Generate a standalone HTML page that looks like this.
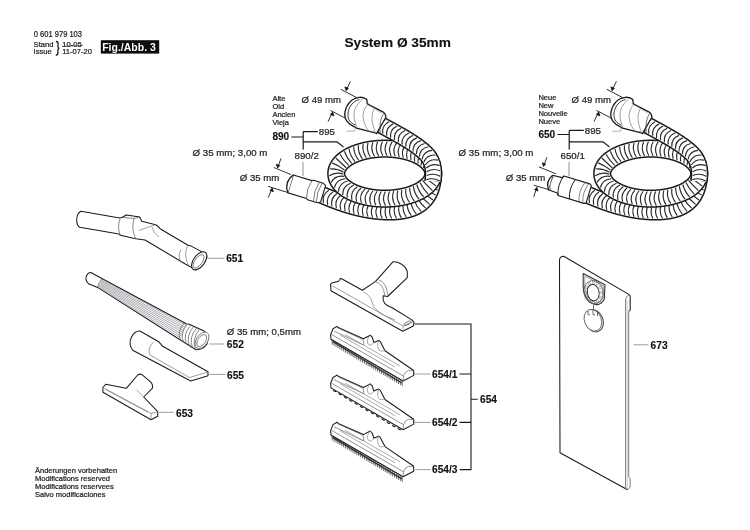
<!DOCTYPE html>
<html><head><meta charset="utf-8"><style>
html,body{margin:0;padding:0;background:#fff;}
svg{display:block;will-change:transform;}
text{font-family:"Liberation Sans",sans-serif;}
</style></head><body>
<svg width="750" height="530" viewBox="0 0 750 530">
<rect width="750" height="530" fill="#fff"/>

<text x="33.8" y="36.9" font-size="8.20" font-weight="400" fill="#222" stroke="#222" stroke-width="0.22" textLength="48.2" lengthAdjust="spacingAndGlyphs">0 601 979 103</text>
<text x="33.6" y="46.9" font-size="7.60" font-weight="400" fill="#222" stroke="#222" stroke-width="0.22">Stand</text>
<text x="33.6" y="54.3" font-size="7.60" font-weight="400" fill="#222" stroke="#222" stroke-width="0.22">Issue</text>
<path d="M56,41.3 Q58.3,41.6 58.1,44 L57.9,46.5 Q57.9,48 59.3,48.3 Q57.9,48.6 57.9,50 L57.9,52.5 Q58.1,55 55.8,55.3" fill="none" stroke="#111" stroke-width="1.2"/>
<text x="62.2" y="46.9" font-size="7.60" font-weight="400" fill="#222" stroke="#222" stroke-width="0.22">10-05</text>
<path d="M62,46.4 L82.8,45.5" stroke="#333" stroke-width="0.7"/>
<text x="62.2" y="54.3" font-size="7.60" font-weight="400" fill="#222" stroke="#222" stroke-width="0.22">11-07-20</text>
<rect x="100.8" y="40.2" width="58.4" height="13.4" fill="#0d0d0d"/>
<text x="102.2" y="51.1" font-size="10.50" font-weight="700" fill="#fff" stroke="#fff" stroke-width="0.00">Fig./Abb. 3</text>
<text x="344.4" y="46.5" font-size="13.70" font-weight="700" fill="#111" stroke="#111" stroke-width="0.12">System Ø 35mm</text>
<path d="M322.00,195.00L322.17,195.07L322.35,195.15L322.52,195.22L322.69,195.30L322.86,195.37L323.04,195.45L323.21,195.52L323.38,195.60L323.55,195.67L323.73,195.74L323.90,195.82L324.07,195.89L324.24,195.97L324.42,196.04L324.59,196.11L324.76,196.19L324.93,196.26L325.11,196.33L325.28,196.40L325.45,196.48L325.62,196.55L325.80,196.62L325.97,196.69L326.14,196.77L326.31,196.84L326.49,196.91L326.66,196.98L326.83,197.05L327.00,197.13L327.18,197.20L327.35,197.27L327.52,197.34L327.69,197.41L327.87,197.48L328.04,197.55L328.21,197.62L328.38,197.69L328.56,197.76L328.73,197.84L328.90,197.91L329.07,197.98L329.25,198.05L329.42,198.12L329.59,198.19L329.76,198.25L329.94,198.32L330.11,198.39L330.28,198.46L330.45,198.53L330.63,198.60L330.80,198.67L330.97,198.74L331.14,198.81L331.32,198.87L331.49,198.94L331.66,199.01L331.84,199.08L332.01,199.15L332.18,199.21L332.35,199.28L332.53,199.35L332.70,199.42L332.87,199.48L333.04,199.55L333.22,199.62L333.39,199.68L333.56,199.75L333.73,199.82L333.91,199.88L334.08,199.95L334.25,200.02L334.43,200.08L334.60,200.15L334.77,200.21L334.94,200.28L335.12,200.34L335.29,200.41L335.46,200.47L335.64,200.54L335.81,200.60L335.98,200.67L336.15,200.73L336.33,200.80L336.50,200.86L336.67,200.93L336.84,200.99L337.02,201.05L337.19,201.12L337.36,201.18L337.54,201.24L337.71,201.31L337.88,201.37L338.06,201.43L338.23,201.49L338.40,201.56L338.57,201.62L338.75,201.68L338.92,201.74L339.09,201.81L339.27,201.87L339.44,201.93L339.61,201.99L339.78,202.05L339.96,202.11L340.13,202.17L340.30,202.23L340.48,202.29L340.65,202.36L340.82,202.42L341.00,202.48L341.17,202.54L341.34,202.60L341.52,202.66L341.69,202.71L341.86,202.77L342.03,202.83L342.21,202.89L342.38,202.95L342.55,203.01L342.73,203.07L342.90,203.13L343.07,203.19L343.25,203.24L343.42,203.30L343.59,203.36L343.77,203.42L343.94,203.47L344.11,203.53L344.29,203.59L344.46,203.64L344.63,203.70L344.81,203.76L344.98,203.81L345.15,203.87L345.33,203.93L345.50,203.98L345.67,204.04L345.85,204.09L346.02,204.15L346.19,204.20L346.37,204.26L346.54,204.31L346.71,204.37L346.89,204.42L347.06,204.48L347.23,204.53L347.41,204.59L347.58,204.64L347.75,204.69L347.93,204.75L348.10,204.80L348.27,204.85L348.45,204.91L348.62,204.96L348.80,205.01L348.97,205.06L349.14,205.12L349.32,205.17L349.49,205.22L349.66,205.27L349.84,205.32L350.01,205.37L350.19,205.43L350.36,205.48L350.53,205.53L350.71,205.58L350.88,205.63L351.05,205.68L351.23,205.73L351.40,205.78L351.58,205.83L351.75,205.88L351.92,205.93L352.10,205.98L352.27,206.03L352.45,206.07L352.62,206.12L352.79,206.17L352.97,206.22L353.14,206.27L353.32,206.32L353.49,206.36L353.66,206.41L353.84,206.46L354.01,206.50L354.19,206.55L354.36,206.60L354.53,206.64L354.71,206.69L354.88,206.74L355.06,206.78L355.23,206.83L355.40,206.87L355.58,206.92L355.75,206.96L355.93,207.01L356.10,207.05L356.28,207.10L356.45,207.14L356.62,207.19L356.80,207.23L356.97,207.28L357.15,207.32L357.32,207.36L357.50,207.41L357.67,207.45L357.85,207.49L358.02,207.53L358.20,207.58L358.37,207.62L358.54,207.66L358.72,207.70L358.89,207.74L359.07,207.78L359.24,207.83L359.42,207.87L359.59,207.91L359.77,207.95L359.94,207.99L360.12,208.03L360.29,208.07L360.47,208.11L360.64,208.15L360.82,208.19L360.99,208.23L361.17,208.27L361.34,208.30L361.52,208.34L361.69,208.38L361.87,208.42L362.04,208.46L362.22,208.49L362.39,208.53L362.57,208.57L362.74,208.61L362.92,208.64L363.09,208.68L363.27,208.72L363.44,208.75L363.62,208.79L363.79,208.82L363.97,208.86L364.14,208.89L364.32,208.93L364.49,208.96L364.67,209.00L364.84,209.03L365.02,209.07L365.19,209.10L365.37,209.14L365.54,209.17L365.72,209.20L365.90,209.24L366.07,209.27L366.25,209.30L366.42,209.33L366.60,209.37L366.77,209.40L366.95,209.43L367.12,209.46L367.30,209.49L367.48,209.52L367.65,209.56L367.83,209.59L368.00,209.62L368.18,209.65L368.35,209.68L368.53,209.71L368.71,209.74L368.88,209.77L369.06,209.79L369.23,209.82L369.41,209.85L369.59,209.88L369.76,209.91L369.94,209.94L370.11,209.96L370.29,209.99L370.47,210.02L370.64,210.05L370.82,210.07L371.00,210.10L371.17,210.13L371.35,210.15L371.52,210.18L371.70,210.20L371.88,210.23L372.05,210.25L372.23,210.28L372.41,210.30L372.58,210.33L372.76,210.35L372.94,210.38L373.11,210.40L373.29,210.42L373.47,210.45L373.64,210.47L373.82,210.49L374.00,210.52L374.17,210.54L374.35,210.56L374.53,210.58L374.70,210.60L374.88,210.63L375.06,210.65L375.23,210.67L375.41,210.69L375.59,210.71L375.76,210.73L375.94,210.75L376.12,210.77L376.29,210.79L376.47,210.81L376.65,210.83L376.83,210.85L377.00,210.86L377.18,210.88L377.36,210.90L377.53,210.92L377.71,210.94L377.89,210.95L378.07,210.97L378.24,210.99L378.42,211.00L378.60,211.02L378.78,211.04L378.95,211.05L379.13,211.07L379.31,211.08L379.49,211.10L379.66,211.11L379.84,211.13L380.02,211.14L380.20,211.16L380.37,211.17L380.55,211.18L380.73,211.20L380.91,211.21L381.09,211.22L381.26,211.23L381.44,211.25L381.62,211.26L381.80,211.27L381.98,211.28L382.15,211.29L382.33,211.30L382.51,211.31L382.69,211.32L382.87,211.33L383.04,211.34L383.22,211.35L383.40,211.36L383.58,211.37L383.76,211.38L383.94,211.39L384.11,211.40L384.29,211.41L384.47,211.41L384.65,211.42L384.83,211.43L385.01,211.44L385.19,211.44L385.36,211.45L385.54,211.46L385.72,211.46L385.90,211.47L386.08,211.47L386.26,211.48L386.44,211.48L386.62,211.49L386.80,211.49L386.97,211.50L387.15,211.50L387.33,211.50L387.51,211.51L387.69,211.51L387.87,211.51L388.05,211.52L388.23,211.52L388.41,211.52L388.59,211.52L388.77,211.52L388.95,211.52L389.12,211.52L389.30,211.52L389.48,211.53L389.66,211.53L389.84,211.52L390.02,211.52L390.20,211.52L390.38,211.52L390.56,211.52L390.74,211.52L390.92,211.52L391.10,211.52L391.28,211.51L391.46,211.51L391.64,211.51L391.82,211.50L392.00,211.50L392.19,211.50L392.39,211.49L392.58,211.49L392.78,211.48L392.97,211.48L393.16,211.47L393.35,211.46L393.55,211.46L393.74,211.45L393.93,211.44L394.12,211.43L394.31,211.42L394.50,211.41L394.69,211.41L394.87,211.40L395.06,211.38L395.25,211.37L395.44,211.36L395.62,211.35L395.81,211.34L396.00,211.33L396.18,211.31L396.37,211.30L396.55,211.29L396.73,211.27L396.92,211.26L397.10,211.24L397.28,211.23L397.47,211.21L397.65,211.19L397.83,211.18L398.01,211.16L398.19,211.14L398.37,211.12L398.55,211.10L398.73,211.09L398.91,211.07L399.08,211.05L399.26,211.03L399.44,211.01L399.62,210.98L399.79,210.96L399.97,210.94L400.14,210.92L400.32,210.90L400.49,210.87L400.67,210.85L400.84,210.82L401.01,210.80L401.19,210.77L401.36,210.75L401.53,210.72L401.70,210.70L401.87,210.67L402.04,210.64L402.21,210.62L402.38,210.59L402.55,210.56L402.72,210.53L402.89,210.50L403.05,210.47L403.22,210.44L403.39,210.41L403.55,210.38L403.72,210.35L403.89,210.32L404.05,210.28L404.21,210.25L404.38,210.22L404.54,210.18L404.71,210.15L404.87,210.12L405.03,210.08L405.19,210.04L405.35,210.01L405.51,209.97L405.67,209.94L405.83,209.90L405.99,209.86L406.15,209.82L406.31,209.79L406.47,209.75L406.63,209.71L406.78,209.67L406.94,209.63L407.10,209.59L407.25,209.55L407.41,209.51L407.56,209.46L407.72,209.42L407.87,209.38L408.02,209.34L408.18,209.29L408.33,209.25L408.48,209.20L408.63,209.16L408.78,209.11L408.93,209.07L409.08,209.02L409.23,208.98L409.38,208.93L409.53,208.88L409.68,208.83L409.83,208.79L409.98,208.74L410.12,208.69L410.27,208.64L410.42,208.59L410.56,208.54L410.71,208.49L410.85,208.44L411.00,208.39L411.14,208.33L411.28,208.28L411.43,208.23L411.57,208.18L411.71,208.12L411.85,208.07L411.99,208.01L412.13,207.96L412.27,207.90L412.41,207.85L412.55,207.79L412.69,207.73L412.83,207.68L412.97,207.62L413.10,207.56L413.24,207.50L413.38,207.44L413.51,207.39L413.65,207.33L413.78,207.27L413.92,207.21L414.05,207.14L414.19,207.08L414.32,207.02L414.45,206.96L414.58,206.90L414.72,206.83L414.85,206.77L414.98,206.71L415.11,206.64L415.24,206.58L415.37,206.51L415.50,206.45L415.63,206.38L415.75,206.31L415.88,206.25L416.01,206.18L416.13,206.11L416.26,206.04L416.39,205.98L416.51,205.91L416.64,205.84L416.76,205.77L416.89,205.70L417.01,205.63L417.13,205.56L417.25,205.48L417.38,205.41L417.50,205.34L417.62,205.27L417.74,205.19L417.86,205.12L417.98,205.05L418.10,204.97L418.22,204.90L418.34,204.82L418.45,204.75L418.57,204.67L418.69,204.59L418.80,204.52L418.92,204.44L419.04,204.36L419.15,204.28L419.27,204.20L419.38,204.12L419.49,204.04L419.61,203.96L419.72,203.88L419.83,203.80L419.94,203.72L420.05,203.64L420.17,203.56L420.28,203.48L420.39,203.39L420.49,203.31L420.60,203.23L420.71,203.14L420.82,203.06L420.93,202.97L421.04,202.89L421.14,202.80L421.25,202.71L421.35,202.63L421.46,202.54L421.56,202.45L421.67,202.36L421.77,202.28L421.88,202.19L421.98,202.10L422.08,202.01L422.18,201.92L422.28,201.83L422.38,201.74L422.49,201.65L422.59,201.55L422.68,201.46L422.78,201.37L422.88,201.28L422.98,201.18L423.08,201.09L423.18,200.99L423.27,200.90L423.37,200.80L423.46,200.71L423.56,200.61L423.66,200.52L423.75,200.42L423.84,200.32L423.94,200.22L424.03,200.13L424.12,200.03L424.21,199.93L424.31,199.83L424.40,199.73L424.49,199.63L424.58,199.53L424.67,199.43L424.76,199.33L424.85,199.22L424.93,199.12L425.02,199.02L425.11,198.92L425.20,198.81L425.28,198.71L425.37,198.60L425.45,198.50L425.54,198.39L425.62,198.29L425.71,198.18L425.79,198.08L425.87,197.97L425.96,197.86L426.04,197.75L426.12,197.65L426.20,197.54L426.28,197.43L426.36,197.32L426.44,197.21L426.52,197.10L426.60,196.99L426.68,196.88L426.76,196.76L426.84,196.65L426.91,196.54L426.99,196.43L427.06,196.31L427.14,196.20L427.22,196.09L427.29,195.97L427.36,195.86L427.44,195.74L427.51,195.63L427.58,195.51L427.66,195.39L427.73,195.28L427.80,195.16L427.87,195.04L427.94,194.92L428.01,194.80L428.08,194.68L428.15,194.56L428.22,194.44L428.28,194.32L428.35,194.20L428.42,194.08L428.49,193.96L428.55,193.84L428.62,193.72L428.68,193.59L428.75,193.47L428.81,193.35L428.87,193.22L428.94,193.10L429.00,192.97L429.06,192.85L429.12,192.72L429.19,192.60L429.25,192.47L429.31,192.34L429.37,192.21L429.43,192.09L429.48,191.96L429.54,191.83L429.60,191.70L429.66,191.57L429.72,191.44L429.77,191.31L429.83,191.18L429.88,191.05L429.94,190.92L429.99,190.78L430.05,190.65L430.10,190.52L430.15,190.39L430.21,190.25L430.26,190.12L430.31,189.98L430.36,189.85L430.41,189.71L430.46,189.58L430.51,189.44L430.56,189.30L430.61,189.17L430.66,189.03L430.71,188.89L430.75,188.75L430.80,188.62L430.85,188.48L430.89,188.34L430.94,188.20L430.98,188.06L431.03,187.92L431.07,187.77L431.12,187.63L431.16,187.49L431.20,187.35L431.24,187.20L431.29,187.06L431.33,186.92L431.37,186.77L431.41,186.63L431.45,186.48L431.49,186.34L431.53,186.19L431.56,186.05L431.60,185.90L431.64,185.75L431.68,185.61L431.71,185.46L431.75,185.31L431.78,185.16L431.82,185.01L431.85,184.86L431.89,184.71L431.92,184.56L431.95,184.41L431.99,184.26L432.02,184.11L432.05,183.96L432.08,183.80L432.11,183.65L432.14,183.50L432.17,183.34L432.20,183.19L432.23,183.04L432.26,182.88L432.28,182.73L432.31,182.57L432.34,182.41L432.36,182.26L432.39,182.10L432.41,181.94L432.44,181.78L432.46,181.63L432.49,181.47L432.51,181.31L432.53,181.15L432.56,180.99L432.58,180.83L432.60,180.67L432.62,180.51L432.64,180.35L432.66,180.18L432.68,180.02L432.70,179.86L432.72,179.70L432.74,179.53L432.75,179.37L432.77,179.20L432.79,179.04L432.80,178.87L432.82,178.71L432.83,178.54L432.85,178.37L432.86,178.21L432.87,178.04L432.89,177.87L432.90,177.70L432.91,177.54L432.92,177.37L432.94,177.20L432.95,177.03L432.96,176.86L432.97,176.69L432.98,176.52L432.98,176.34L432.99,176.17L433.00,176.00" fill="none" stroke="#1a1a1a" stroke-width="18.00" stroke-linejoin="round"/>
<path d="M322.00,195.00L322.17,195.07L322.35,195.15L322.52,195.22L322.69,195.30L322.86,195.37L323.04,195.45L323.21,195.52L323.38,195.60L323.55,195.67L323.73,195.74L323.90,195.82L324.07,195.89L324.24,195.97L324.42,196.04L324.59,196.11L324.76,196.19L324.93,196.26L325.11,196.33L325.28,196.40L325.45,196.48L325.62,196.55L325.80,196.62L325.97,196.69L326.14,196.77L326.31,196.84L326.49,196.91L326.66,196.98L326.83,197.05L327.00,197.13L327.18,197.20L327.35,197.27L327.52,197.34L327.69,197.41L327.87,197.48L328.04,197.55L328.21,197.62L328.38,197.69L328.56,197.76L328.73,197.84L328.90,197.91L329.07,197.98L329.25,198.05L329.42,198.12L329.59,198.19L329.76,198.25L329.94,198.32L330.11,198.39L330.28,198.46L330.45,198.53L330.63,198.60L330.80,198.67L330.97,198.74L331.14,198.81L331.32,198.87L331.49,198.94L331.66,199.01L331.84,199.08L332.01,199.15L332.18,199.21L332.35,199.28L332.53,199.35L332.70,199.42L332.87,199.48L333.04,199.55L333.22,199.62L333.39,199.68L333.56,199.75L333.73,199.82L333.91,199.88L334.08,199.95L334.25,200.02L334.43,200.08L334.60,200.15L334.77,200.21L334.94,200.28L335.12,200.34L335.29,200.41L335.46,200.47L335.64,200.54L335.81,200.60L335.98,200.67L336.15,200.73L336.33,200.80L336.50,200.86L336.67,200.93L336.84,200.99L337.02,201.05L337.19,201.12L337.36,201.18L337.54,201.24L337.71,201.31L337.88,201.37L338.06,201.43L338.23,201.49L338.40,201.56L338.57,201.62L338.75,201.68L338.92,201.74L339.09,201.81L339.27,201.87L339.44,201.93L339.61,201.99L339.78,202.05L339.96,202.11L340.13,202.17L340.30,202.23L340.48,202.29L340.65,202.36L340.82,202.42L341.00,202.48L341.17,202.54L341.34,202.60L341.52,202.66L341.69,202.71L341.86,202.77L342.03,202.83L342.21,202.89L342.38,202.95L342.55,203.01L342.73,203.07L342.90,203.13L343.07,203.19L343.25,203.24L343.42,203.30L343.59,203.36L343.77,203.42L343.94,203.47L344.11,203.53L344.29,203.59L344.46,203.64L344.63,203.70L344.81,203.76L344.98,203.81L345.15,203.87L345.33,203.93L345.50,203.98L345.67,204.04L345.85,204.09L346.02,204.15L346.19,204.20L346.37,204.26L346.54,204.31L346.71,204.37L346.89,204.42L347.06,204.48L347.23,204.53L347.41,204.59L347.58,204.64L347.75,204.69L347.93,204.75L348.10,204.80L348.27,204.85L348.45,204.91L348.62,204.96L348.80,205.01L348.97,205.06L349.14,205.12L349.32,205.17L349.49,205.22L349.66,205.27L349.84,205.32L350.01,205.37L350.19,205.43L350.36,205.48L350.53,205.53L350.71,205.58L350.88,205.63L351.05,205.68L351.23,205.73L351.40,205.78L351.58,205.83L351.75,205.88L351.92,205.93L352.10,205.98L352.27,206.03L352.45,206.07L352.62,206.12L352.79,206.17L352.97,206.22L353.14,206.27L353.32,206.32L353.49,206.36L353.66,206.41L353.84,206.46L354.01,206.50L354.19,206.55L354.36,206.60L354.53,206.64L354.71,206.69L354.88,206.74L355.06,206.78L355.23,206.83L355.40,206.87L355.58,206.92L355.75,206.96L355.93,207.01L356.10,207.05L356.28,207.10L356.45,207.14L356.62,207.19L356.80,207.23L356.97,207.28L357.15,207.32L357.32,207.36L357.50,207.41L357.67,207.45L357.85,207.49L358.02,207.53L358.20,207.58L358.37,207.62L358.54,207.66L358.72,207.70L358.89,207.74L359.07,207.78L359.24,207.83L359.42,207.87L359.59,207.91L359.77,207.95L359.94,207.99L360.12,208.03L360.29,208.07L360.47,208.11L360.64,208.15L360.82,208.19L360.99,208.23L361.17,208.27L361.34,208.30L361.52,208.34L361.69,208.38L361.87,208.42L362.04,208.46L362.22,208.49L362.39,208.53L362.57,208.57L362.74,208.61L362.92,208.64L363.09,208.68L363.27,208.72L363.44,208.75L363.62,208.79L363.79,208.82L363.97,208.86L364.14,208.89L364.32,208.93L364.49,208.96L364.67,209.00L364.84,209.03L365.02,209.07L365.19,209.10L365.37,209.14L365.54,209.17L365.72,209.20L365.90,209.24L366.07,209.27L366.25,209.30L366.42,209.33L366.60,209.37L366.77,209.40L366.95,209.43L367.12,209.46L367.30,209.49L367.48,209.52L367.65,209.56L367.83,209.59L368.00,209.62L368.18,209.65L368.35,209.68L368.53,209.71L368.71,209.74L368.88,209.77L369.06,209.79L369.23,209.82L369.41,209.85L369.59,209.88L369.76,209.91L369.94,209.94L370.11,209.96L370.29,209.99L370.47,210.02L370.64,210.05L370.82,210.07L371.00,210.10L371.17,210.13L371.35,210.15L371.52,210.18L371.70,210.20L371.88,210.23L372.05,210.25L372.23,210.28L372.41,210.30L372.58,210.33L372.76,210.35L372.94,210.38L373.11,210.40L373.29,210.42L373.47,210.45L373.64,210.47L373.82,210.49L374.00,210.52L374.17,210.54L374.35,210.56L374.53,210.58L374.70,210.60L374.88,210.63L375.06,210.65L375.23,210.67L375.41,210.69L375.59,210.71L375.76,210.73L375.94,210.75L376.12,210.77L376.29,210.79L376.47,210.81L376.65,210.83L376.83,210.85L377.00,210.86L377.18,210.88L377.36,210.90L377.53,210.92L377.71,210.94L377.89,210.95L378.07,210.97L378.24,210.99L378.42,211.00L378.60,211.02L378.78,211.04L378.95,211.05L379.13,211.07L379.31,211.08L379.49,211.10L379.66,211.11L379.84,211.13L380.02,211.14L380.20,211.16L380.37,211.17L380.55,211.18L380.73,211.20L380.91,211.21L381.09,211.22L381.26,211.23L381.44,211.25L381.62,211.26L381.80,211.27L381.98,211.28L382.15,211.29L382.33,211.30L382.51,211.31L382.69,211.32L382.87,211.33L383.04,211.34L383.22,211.35L383.40,211.36L383.58,211.37L383.76,211.38L383.94,211.39L384.11,211.40L384.29,211.41L384.47,211.41L384.65,211.42L384.83,211.43L385.01,211.44L385.19,211.44L385.36,211.45L385.54,211.46L385.72,211.46L385.90,211.47L386.08,211.47L386.26,211.48L386.44,211.48L386.62,211.49L386.80,211.49L386.97,211.50L387.15,211.50L387.33,211.50L387.51,211.51L387.69,211.51L387.87,211.51L388.05,211.52L388.23,211.52L388.41,211.52L388.59,211.52L388.77,211.52L388.95,211.52L389.12,211.52L389.30,211.52L389.48,211.53L389.66,211.53L389.84,211.52L390.02,211.52L390.20,211.52L390.38,211.52L390.56,211.52L390.74,211.52L390.92,211.52L391.10,211.52L391.28,211.51L391.46,211.51L391.64,211.51L391.82,211.50L392.00,211.50L392.19,211.50L392.39,211.49L392.58,211.49L392.78,211.48L392.97,211.48L393.16,211.47L393.35,211.46L393.55,211.46L393.74,211.45L393.93,211.44L394.12,211.43L394.31,211.42L394.50,211.41L394.69,211.41L394.87,211.40L395.06,211.38L395.25,211.37L395.44,211.36L395.62,211.35L395.81,211.34L396.00,211.33L396.18,211.31L396.37,211.30L396.55,211.29L396.73,211.27L396.92,211.26L397.10,211.24L397.28,211.23L397.47,211.21L397.65,211.19L397.83,211.18L398.01,211.16L398.19,211.14L398.37,211.12L398.55,211.10L398.73,211.09L398.91,211.07L399.08,211.05L399.26,211.03L399.44,211.01L399.62,210.98L399.79,210.96L399.97,210.94L400.14,210.92L400.32,210.90L400.49,210.87L400.67,210.85L400.84,210.82L401.01,210.80L401.19,210.77L401.36,210.75L401.53,210.72L401.70,210.70L401.87,210.67L402.04,210.64L402.21,210.62L402.38,210.59L402.55,210.56L402.72,210.53L402.89,210.50L403.05,210.47L403.22,210.44L403.39,210.41L403.55,210.38L403.72,210.35L403.89,210.32L404.05,210.28L404.21,210.25L404.38,210.22L404.54,210.18L404.71,210.15L404.87,210.12L405.03,210.08L405.19,210.04L405.35,210.01L405.51,209.97L405.67,209.94L405.83,209.90L405.99,209.86L406.15,209.82L406.31,209.79L406.47,209.75L406.63,209.71L406.78,209.67L406.94,209.63L407.10,209.59L407.25,209.55L407.41,209.51L407.56,209.46L407.72,209.42L407.87,209.38L408.02,209.34L408.18,209.29L408.33,209.25L408.48,209.20L408.63,209.16L408.78,209.11L408.93,209.07L409.08,209.02L409.23,208.98L409.38,208.93L409.53,208.88L409.68,208.83L409.83,208.79L409.98,208.74L410.12,208.69L410.27,208.64L410.42,208.59L410.56,208.54L410.71,208.49L410.85,208.44L411.00,208.39L411.14,208.33L411.28,208.28L411.43,208.23L411.57,208.18L411.71,208.12L411.85,208.07L411.99,208.01L412.13,207.96L412.27,207.90L412.41,207.85L412.55,207.79L412.69,207.73L412.83,207.68L412.97,207.62L413.10,207.56L413.24,207.50L413.38,207.44L413.51,207.39L413.65,207.33L413.78,207.27L413.92,207.21L414.05,207.14L414.19,207.08L414.32,207.02L414.45,206.96L414.58,206.90L414.72,206.83L414.85,206.77L414.98,206.71L415.11,206.64L415.24,206.58L415.37,206.51L415.50,206.45L415.63,206.38L415.75,206.31L415.88,206.25L416.01,206.18L416.13,206.11L416.26,206.04L416.39,205.98L416.51,205.91L416.64,205.84L416.76,205.77L416.89,205.70L417.01,205.63L417.13,205.56L417.25,205.48L417.38,205.41L417.50,205.34L417.62,205.27L417.74,205.19L417.86,205.12L417.98,205.05L418.10,204.97L418.22,204.90L418.34,204.82L418.45,204.75L418.57,204.67L418.69,204.59L418.80,204.52L418.92,204.44L419.04,204.36L419.15,204.28L419.27,204.20L419.38,204.12L419.49,204.04L419.61,203.96L419.72,203.88L419.83,203.80L419.94,203.72L420.05,203.64L420.17,203.56L420.28,203.48L420.39,203.39L420.49,203.31L420.60,203.23L420.71,203.14L420.82,203.06L420.93,202.97L421.04,202.89L421.14,202.80L421.25,202.71L421.35,202.63L421.46,202.54L421.56,202.45L421.67,202.36L421.77,202.28L421.88,202.19L421.98,202.10L422.08,202.01L422.18,201.92L422.28,201.83L422.38,201.74L422.49,201.65L422.59,201.55L422.68,201.46L422.78,201.37L422.88,201.28L422.98,201.18L423.08,201.09L423.18,200.99L423.27,200.90L423.37,200.80L423.46,200.71L423.56,200.61L423.66,200.52L423.75,200.42L423.84,200.32L423.94,200.22L424.03,200.13L424.12,200.03L424.21,199.93L424.31,199.83L424.40,199.73L424.49,199.63L424.58,199.53L424.67,199.43L424.76,199.33L424.85,199.22L424.93,199.12L425.02,199.02L425.11,198.92L425.20,198.81L425.28,198.71L425.37,198.60L425.45,198.50L425.54,198.39L425.62,198.29L425.71,198.18L425.79,198.08L425.87,197.97L425.96,197.86L426.04,197.75L426.12,197.65L426.20,197.54L426.28,197.43L426.36,197.32L426.44,197.21L426.52,197.10L426.60,196.99L426.68,196.88L426.76,196.76L426.84,196.65L426.91,196.54L426.99,196.43L427.06,196.31L427.14,196.20L427.22,196.09L427.29,195.97L427.36,195.86L427.44,195.74L427.51,195.63L427.58,195.51L427.66,195.39L427.73,195.28L427.80,195.16L427.87,195.04L427.94,194.92L428.01,194.80L428.08,194.68L428.15,194.56L428.22,194.44L428.28,194.32L428.35,194.20L428.42,194.08L428.49,193.96L428.55,193.84L428.62,193.72L428.68,193.59L428.75,193.47L428.81,193.35L428.87,193.22L428.94,193.10L429.00,192.97L429.06,192.85L429.12,192.72L429.19,192.60L429.25,192.47L429.31,192.34L429.37,192.21L429.43,192.09L429.48,191.96L429.54,191.83L429.60,191.70L429.66,191.57L429.72,191.44L429.77,191.31L429.83,191.18L429.88,191.05L429.94,190.92L429.99,190.78L430.05,190.65L430.10,190.52L430.15,190.39L430.21,190.25L430.26,190.12L430.31,189.98L430.36,189.85L430.41,189.71L430.46,189.58L430.51,189.44L430.56,189.30L430.61,189.17L430.66,189.03L430.71,188.89L430.75,188.75L430.80,188.62L430.85,188.48L430.89,188.34L430.94,188.20L430.98,188.06L431.03,187.92L431.07,187.77L431.12,187.63L431.16,187.49L431.20,187.35L431.24,187.20L431.29,187.06L431.33,186.92L431.37,186.77L431.41,186.63L431.45,186.48L431.49,186.34L431.53,186.19L431.56,186.05L431.60,185.90L431.64,185.75L431.68,185.61L431.71,185.46L431.75,185.31L431.78,185.16L431.82,185.01L431.85,184.86L431.89,184.71L431.92,184.56L431.95,184.41L431.99,184.26L432.02,184.11L432.05,183.96L432.08,183.80L432.11,183.65L432.14,183.50L432.17,183.34L432.20,183.19L432.23,183.04L432.26,182.88L432.28,182.73L432.31,182.57L432.34,182.41L432.36,182.26L432.39,182.10L432.41,181.94L432.44,181.78L432.46,181.63L432.49,181.47L432.51,181.31L432.53,181.15L432.56,180.99L432.58,180.83L432.60,180.67L432.62,180.51L432.64,180.35L432.66,180.18L432.68,180.02L432.70,179.86L432.72,179.70L432.74,179.53L432.75,179.37L432.77,179.20L432.79,179.04L432.80,178.87L432.82,178.71L432.83,178.54L432.85,178.37L432.86,178.21L432.87,178.04L432.89,177.87L432.90,177.70L432.91,177.54L432.92,177.37L432.94,177.20L432.95,177.03L432.96,176.86L432.97,176.69L432.98,176.52L432.98,176.34L432.99,176.17L433.00,176.00" fill="none" stroke="#fff" stroke-width="15.00" stroke-linejoin="round"/>
<path d="M319.21,201.42 Q317.46,193.03 324.79,188.58M323.44,203.22 Q321.60,194.86 328.84,190.31M327.70,204.97 Q325.76,196.65 332.90,191.97M332.01,206.65 Q329.95,198.38 336.98,193.57M336.35,208.26 Q334.17,200.04 341.08,195.08M340.73,209.78 Q338.42,201.62 345.20,196.51M345.17,211.22 Q342.72,203.13 349.33,197.85M349.63,212.55 Q347.05,204.53 353.48,199.09M354.15,213.78 Q351.41,205.85 357.65,200.22M358.71,214.89 Q355.82,207.05 361.83,201.24M363.32,215.87 Q360.27,208.14 366.02,202.13M367.97,216.71 Q364.76,209.09 370.24,202.89M372.65,217.40 Q369.28,209.90 374.46,203.52M377.36,217.93 Q373.83,210.56 378.69,204.00M382.10,218.30 Q378.42,211.07 382.92,204.33M386.86,218.50 Q383.04,211.41 387.16,204.50M391.63,218.51 Q387.67,211.57 391.39,204.51M396.49,218.31 Q392.36,211.58 395.51,204.34M401.41,217.81 Q397.10,211.33 399.55,203.94M406.38,216.95 Q401.89,210.76 403.44,203.26M411.36,215.65 Q406.69,209.77 407.17,202.29M416.27,213.82 Q411.46,208.28 410.68,200.98M421.06,211.36 Q416.11,206.17 413.90,199.33M425.59,208.21 Q420.50,203.32 416.75,197.35M429.63,204.38 Q424.39,199.74 419.24,194.99M433.03,199.98 Q427.58,195.53 421.34,192.28M435.72,195.15 Q429.99,190.87 423.02,189.26M437.67,190.12 Q431.63,186.01 424.32,185.90M438.97,185.02 Q432.62,181.10 425.25,182.28M439.73,179.90 Q433.07,176.19 425.80,178.51" fill="none" stroke="#2a2a2a" stroke-width="1.15"/>
<path d="M433.25,173.65L433.25,173.78L433.25,173.91L433.24,174.04L433.24,174.17L433.23,174.30L433.23,174.44L433.22,174.57L433.21,174.70L433.20,174.83L433.18,174.96L433.17,175.09L433.15,175.22L433.14,175.35L433.12,175.48L433.10,175.61L433.08,175.74L433.06,175.87L433.03,176.00L433.01,176.13L432.98,176.26L432.96,176.39L432.93,176.52L432.90,176.65L432.87,176.78L432.84,176.91L432.80,177.04L432.77,177.17L432.73,177.30L432.69,177.43L432.65,177.56L432.61,177.69L432.57,177.82L432.53,177.95L432.48,178.08L432.44,178.21L432.39,178.33L432.34,178.46L432.29,178.59L432.24,178.72L432.19,178.85L432.14,178.98L432.08,179.10L432.03,179.23L431.97,179.36L431.91,179.49L431.85,179.61L431.79,179.74L431.73,179.87L431.66,179.99L431.60,180.12L431.53,180.25L431.46,180.37L431.39,180.50L431.32,180.62L431.25,180.75L431.18,180.88L431.11,181.00L431.03,181.13L430.95,181.25L430.88,181.38L430.80,181.50L430.72,181.62L430.64,181.75L430.55,181.87L430.47,182.00L430.38,182.12L430.30,182.24L430.21,182.36L430.12,182.49L430.03,182.61L429.94,182.73L429.84,182.85L429.75,182.97L429.65,183.10L429.56,183.22L429.46,183.34L429.36,183.46L429.26,183.58L429.16,183.70L429.06,183.82L428.95,183.94L428.85,184.06L428.74,184.18L428.63,184.29L428.53,184.41L428.42,184.53L428.30,184.65L428.19,184.77L428.08,184.88L427.96,185.00L427.85,185.12L427.73,185.23L427.61,185.35L427.49,185.46L427.37,185.58L427.25,185.69L427.13,185.81L427.00,185.92L426.88,186.04L426.75,186.15L426.62,186.26L426.50,186.38L426.37,186.49L426.24,186.60L426.10,186.71L425.97,186.82L425.84,186.93L425.70,187.05L425.56,187.16L425.43,187.27L425.29,187.38L425.15,187.48L425.01,187.59L424.86,187.70L424.72,187.81L424.58,187.92L424.43,188.03L424.28,188.13L424.14,188.24L423.99,188.34L423.84,188.45L423.69,188.56L423.53,188.66L423.38,188.76L423.23,188.87L423.07,188.97L422.92,189.08L422.76,189.18L422.60,189.28L422.44,189.38L422.28,189.48L422.12,189.59L421.96,189.69L421.79,189.79L421.63,189.89L421.46,189.99L421.30,190.08L421.13,190.18L420.96,190.28L420.79,190.38L420.62,190.48L420.45,190.57L420.28,190.67L420.10,190.76L419.93,190.86L419.76,190.95L419.58,191.05L419.40,191.14L419.22,191.23L419.04,191.33L418.86,191.42L418.68,191.51L418.50,191.60L418.32,191.69L418.14,191.78L417.95,191.87L417.76,191.96L417.58,192.05L417.39,192.14L417.20,192.23L417.01,192.32L416.82,192.40L416.63,192.49L416.44,192.57L416.25,192.66L416.05,192.74L415.86,192.83L415.67,192.91L415.47,193.00L415.27,193.08L415.07,193.16L414.88,193.24L414.68,193.32L414.48,193.40L414.27,193.48L414.07,193.56L413.87,193.64L413.67,193.72L413.46,193.80L413.26,193.88L413.05,193.95L412.85,194.03L412.64,194.10L412.43,194.18L412.22,194.25L412.01,194.33L411.80,194.40L411.59,194.47L411.38,194.55L411.16,194.62L410.95,194.69L410.74,194.76L410.52,194.83L410.31,194.90L410.09,194.97L409.87,195.03L409.66,195.10L409.44,195.17L409.22,195.23L409.00,195.30L408.78,195.37L408.56,195.43L408.34,195.49L408.12,195.56L407.89,195.62L407.67,195.68L407.44,195.74L407.22,195.81L406.99,195.87L406.77,195.93L406.54,195.98L406.31,196.04L406.09,196.10L405.86,196.16L405.63,196.21L405.40,196.27L405.17,196.33L404.94,196.38L404.71,196.44L404.48,196.49L404.24,196.54L404.01,196.59L403.78,196.65L403.54,196.70L403.31,196.75L403.08,196.80L402.84,196.85L402.60,196.89L402.37,196.94L402.13,196.99L401.89,197.04L401.66,197.08L401.42,197.13L401.18,197.17L400.94,197.22L400.70,197.26L400.46,197.30L400.22,197.34L399.98,197.39L399.74,197.43L399.50,197.47L399.25,197.51L399.01,197.54L398.77,197.58L398.52,197.62L398.28,197.66L398.04,197.69L397.79,197.73L397.55,197.76L397.30,197.80L397.06,197.83L396.81,197.86L396.57,197.90L396.32,197.93L396.07,197.96L395.83,197.99L395.58,198.02L395.33,198.05L395.08,198.08L394.83,198.10L394.59,198.13L394.34,198.16L394.09,198.18L393.84,198.21L393.59,198.23L393.34,198.25L393.09,198.28L392.84,198.30L392.59,198.32L392.34,198.34L392.09,198.36L391.84,198.38L391.58,198.40L391.33,198.42L391.08,198.44L390.83,198.45L390.58,198.47L390.32,198.48L390.07,198.50L389.82,198.51L389.57,198.53L389.31,198.54L389.06,198.55L388.81,198.56L388.56,198.57L388.30,198.58L388.05,198.59L387.80,198.60L387.54,198.61L387.29,198.62L387.03,198.62L386.78,198.63L386.53,198.63L386.27,198.64L386.02,198.64L385.77,198.64L385.51,198.65L385.26,198.65L385.00,198.65L384.75,198.65L384.50,198.65L384.24,198.65L383.99,198.65L383.73,198.64L383.48,198.64L383.23,198.64L382.97,198.63L382.72,198.63L382.47,198.62L382.21,198.62L381.96,198.61L381.70,198.60L381.45,198.59L381.20,198.58L380.94,198.57L380.69,198.56L380.44,198.55L380.19,198.54L379.93,198.53L379.68,198.51L379.43,198.50L379.18,198.48L378.92,198.47L378.67,198.45L378.42,198.44L378.17,198.42L377.92,198.40L377.66,198.38L377.41,198.36L377.16,198.34L376.91,198.32L376.66,198.30L376.41,198.28L376.16,198.25L375.91,198.23L375.66,198.21L375.41,198.18L375.16,198.16L374.91,198.13L374.67,198.10L374.42,198.08L374.17,198.05L373.92,198.02L373.67,197.99L373.43,197.96L373.18,197.93L372.93,197.90L372.69,197.86L372.44,197.83L372.20,197.80L371.95,197.76L371.71,197.73L371.46,197.69L371.22,197.66L370.98,197.62L370.73,197.58L370.49,197.54L370.25,197.51L370.00,197.47L369.76,197.43L369.52,197.39L369.28,197.34L369.04,197.30L368.80,197.26L368.56,197.22L368.32,197.17L368.08,197.13L367.84,197.08L367.61,197.04L367.37,196.99L367.13,196.94L366.90,196.89L366.66,196.85L366.42,196.80L366.19,196.75L365.96,196.70L365.72,196.65L365.49,196.59L365.26,196.54L365.02,196.49L364.79,196.44L364.56,196.38L364.33,196.33L364.10,196.27L363.87,196.21L363.64,196.16L363.41,196.10L363.19,196.04L362.96,195.98L362.73,195.93L362.51,195.87L362.28,195.81L362.06,195.74L361.83,195.68L361.61,195.62L361.38,195.56L361.16,195.49L360.94,195.43L360.72,195.37L360.50,195.30L360.28,195.23L360.06,195.17L359.84,195.10L359.63,195.03L359.41,194.97L359.19,194.90L358.98,194.83L358.76,194.76L358.55,194.69L358.34,194.62L358.12,194.55L357.91,194.47L357.70,194.40L357.49,194.33L357.28,194.25L357.07,194.18L356.86,194.10L356.65,194.03L356.45,193.95L356.24,193.88L356.04,193.80L355.83,193.72L355.63,193.64L355.43,193.56L355.23,193.48L355.02,193.40L354.82,193.32L354.62,193.24L354.43,193.16L354.23,193.08L354.03,193.00L353.83,192.91L353.64,192.83L353.45,192.74L353.25,192.66L353.06,192.57L352.87,192.49L352.68,192.40L352.49,192.32L352.30,192.23L352.11,192.14L351.92,192.05L351.74,191.96L351.55,191.87L351.36,191.78L351.18,191.69L351.00,191.60L350.82,191.51L350.64,191.42L350.46,191.33L350.28,191.23L350.10,191.14L349.92,191.05L349.74,190.95L349.57,190.86L349.40,190.76L349.22,190.67L349.05,190.57L348.88,190.48L348.71,190.38L348.54,190.28L348.37,190.18L348.20,190.08L348.04,189.99L347.87,189.89L347.71,189.79L347.54,189.69L347.38,189.59L347.22,189.48L347.06,189.38L346.90,189.28L346.74,189.18L346.58,189.08L346.43,188.97L346.27,188.87L346.12,188.76L345.97,188.66L345.81,188.56L345.66,188.45L345.51,188.34L345.36,188.24L345.22,188.13L345.07,188.03L344.92,187.92L344.78,187.81L344.64,187.70L344.49,187.59L344.35,187.48L344.21,187.38L344.07,187.27L343.94,187.16L343.80,187.05L343.66,186.93L343.53,186.82L343.40,186.71L343.26,186.60L343.13,186.49L343.00,186.38L342.88,186.26L342.75,186.15L342.62,186.04L342.50,185.92L342.37,185.81L342.25,185.69L342.13,185.58L342.01,185.46L341.89,185.35L341.77,185.23L341.65,185.12L341.54,185.00L341.42,184.88L341.31,184.77L341.20,184.65L341.08,184.53L340.97,184.41L340.87,184.29L340.76,184.18L340.65,184.06L340.55,183.94L340.44,183.82L340.34,183.70L340.24,183.58L340.14,183.46L340.04,183.34L339.94,183.22L339.85,183.10L339.75,182.97L339.66,182.85L339.56,182.73L339.47,182.61L339.38,182.49L339.29,182.36L339.20,182.24L339.12,182.12L339.03,182.00L338.95,181.87L338.86,181.75L338.78,181.62L338.70,181.50L338.62,181.38L338.55,181.25L338.47,181.13L338.39,181.00L338.32,180.88L338.25,180.75L338.18,180.62L338.11,180.50L338.04,180.37L337.97,180.25L337.90,180.12L337.84,179.99L337.77,179.87L337.71,179.74L337.65,179.61L337.59,179.49L337.53,179.36L337.47,179.23L337.42,179.10L337.36,178.98L337.31,178.85L337.26,178.72L337.21,178.59L337.16,178.46L337.11,178.33L337.06,178.21L337.02,178.08L336.97,177.95L336.93,177.82L336.89,177.69L336.85,177.56L336.81,177.43L336.77,177.30L336.73,177.17L336.70,177.04L336.66,176.91L336.63,176.78L336.60,176.65L336.57,176.52L336.54,176.39L336.52,176.26L336.49,176.13L336.47,176.00L336.44,175.87L336.42,175.74L336.40,175.61L336.38,175.48L336.36,175.35L336.35,175.22L336.33,175.09L336.32,174.96L336.30,174.83L336.29,174.70L336.28,174.57L336.27,174.44L336.27,174.30L336.26,174.17L336.26,174.04L336.25,173.91L336.25,173.78L336.25,173.65L336.25,173.52L336.25,173.39L336.26,173.26L336.26,173.13L336.27,173.00L336.27,172.86L336.28,172.73L336.29,172.60L336.30,172.47L336.32,172.34L336.33,172.21L336.35,172.08L336.36,171.95L336.38,171.82L336.40,171.69L336.42,171.56L336.44,171.43L336.47,171.30L336.49,171.17L336.52,171.04L336.54,170.91L336.57,170.78L336.60,170.65L336.63,170.52L336.66,170.39L336.70,170.26L336.73,170.13L336.77,170.00L336.81,169.87L336.85,169.74L336.89,169.61L336.93,169.48L336.97,169.35L337.02,169.22L337.06,169.09L337.11,168.97L337.16,168.84L337.21,168.71L337.26,168.58L337.31,168.45L337.36,168.32L337.42,168.20L337.47,168.07L337.53,167.94L337.59,167.81L337.65,167.69L337.71,167.56L337.77,167.43L337.84,167.31L337.90,167.18L337.97,167.05L338.04,166.93L338.11,166.80L338.18,166.68L338.25,166.55L338.32,166.42L338.39,166.30L338.47,166.17L338.55,166.05L338.62,165.92L338.70,165.80L338.78,165.68L338.86,165.55L338.95,165.43L339.03,165.30L339.12,165.18L339.20,165.06L339.29,164.94L339.38,164.81L339.47,164.69L339.56,164.57L339.66,164.45L339.75,164.33L339.85,164.20L339.94,164.08L340.04,163.96L340.14,163.84L340.24,163.72L340.34,163.60L340.44,163.48L340.55,163.36L340.65,163.24L340.76,163.12L340.87,163.01L340.97,162.89L341.08,162.77L341.20,162.65L341.31,162.53L341.42,162.42L341.54,162.30L341.65,162.18L341.77,162.07L341.89,161.95L342.01,161.84L342.13,161.72L342.25,161.61L342.37,161.49L342.50,161.38L342.62,161.26L342.75,161.15L342.88,161.04L343.00,160.92L343.13,160.81L343.26,160.70L343.40,160.59L343.53,160.48L343.66,160.37L343.80,160.25L343.94,160.14L344.07,160.03L344.21,159.92L344.35,159.82L344.49,159.71L344.64,159.60L344.78,159.49L344.92,159.38L345.07,159.27L345.22,159.17L345.36,159.06L345.51,158.96L345.66,158.85L345.81,158.74L345.97,158.64L346.12,158.54L346.27,158.43L346.43,158.33L346.58,158.22L346.74,158.12L346.90,158.02L347.06,157.92L347.22,157.82L347.38,157.71L347.54,157.61L347.71,157.51L347.87,157.41L348.04,157.31L348.20,157.22L348.37,157.12L348.54,157.02L348.71,156.92L348.88,156.82L349.05,156.73L349.22,156.63L349.40,156.54L349.57,156.44L349.74,156.35L349.92,156.25L350.10,156.16L350.28,156.07L350.46,155.97L350.64,155.88L350.82,155.79L351.00,155.70L351.18,155.61L351.36,155.52L351.55,155.43L351.74,155.34L351.92,155.25L352.11,155.16L352.30,155.07L352.49,154.98L352.68,154.90L352.87,154.81L353.06,154.73L353.25,154.64L353.45,154.56L353.64,154.47L353.83,154.39L354.03,154.30L354.23,154.22L354.43,154.14L354.62,154.06L354.82,153.98L355.02,153.90L355.23,153.82L355.43,153.74L355.63,153.66L355.83,153.58L356.04,153.50L356.24,153.42L356.45,153.35L356.65,153.27L356.86,153.20L357.07,153.12L357.28,153.05L357.49,152.97L357.70,152.90L357.91,152.83L358.12,152.75L358.34,152.68L358.55,152.61L358.76,152.54L358.98,152.47L359.19,152.40L359.41,152.33L359.63,152.27L359.84,152.20L360.06,152.13L360.28,152.07L360.50,152.00L360.72,151.93L360.94,151.87L361.16,151.81L361.38,151.74L361.61,151.68L361.83,151.62L362.06,151.56L362.28,151.49L362.51,151.43L362.73,151.37L362.96,151.32L363.19,151.26L363.41,151.20L363.64,151.14L363.87,151.09L364.10,151.03L364.33,150.97L364.56,150.92L364.79,150.86L365.02,150.81L365.26,150.76L365.49,150.71L365.72,150.65L365.96,150.60L366.19,150.55L366.42,150.50L366.66,150.45L366.90,150.41L367.13,150.36L367.37,150.31L367.61,150.26L367.84,150.22L368.08,150.17L368.32,150.13L368.56,150.08L368.80,150.04L369.04,150.00L369.28,149.96L369.52,149.91L369.76,149.87L370.00,149.83L370.25,149.79L370.49,149.76L370.73,149.72L370.98,149.68L371.22,149.64L371.46,149.61L371.71,149.57L371.95,149.54L372.20,149.50L372.44,149.47L372.69,149.44L372.93,149.40L373.18,149.37L373.43,149.34L373.67,149.31L373.92,149.28L374.17,149.25L374.42,149.22L374.67,149.20L374.91,149.17L375.16,149.14L375.41,149.12L375.66,149.09L375.91,149.07L376.16,149.05L376.41,149.02L376.66,149.00L376.91,148.98L377.16,148.96L377.41,148.94L377.66,148.92L377.92,148.90L378.17,148.88L378.42,148.86L378.67,148.85L378.92,148.83L379.18,148.82L379.43,148.80L379.68,148.79L379.93,148.77L380.19,148.76L380.44,148.75L380.69,148.74L380.94,148.73L381.20,148.72L381.45,148.71L381.70,148.70L381.96,148.69L382.21,148.68L382.47,148.68L382.72,148.67L382.97,148.67L383.23,148.66L383.48,148.66L383.73,148.66L383.99,148.65L384.24,148.65L384.50,148.65L384.75,148.65L385.00,148.65L385.26,148.65L385.51,148.65L385.77,148.66L386.02,148.66L386.27,148.66L386.53,148.67L386.78,148.67L387.03,148.68L387.29,148.68L387.54,148.69L387.80,148.70L388.05,148.71L388.30,148.72L388.56,148.73L388.81,148.74L389.06,148.75L389.31,148.76L389.57,148.77L389.82,148.79L390.07,148.80L390.32,148.82L390.58,148.83L390.83,148.85L391.08,148.86L391.33,148.88L391.58,148.90L391.84,148.92L392.09,148.94L392.34,148.96L392.59,148.98L392.84,149.00L393.09,149.02L393.34,149.05L393.59,149.07L393.84,149.09L394.09,149.12L394.34,149.14L394.59,149.17L394.83,149.20L395.08,149.22L395.33,149.25L395.58,149.28L395.83,149.31L396.07,149.34L396.32,149.37L396.57,149.40L396.81,149.44L397.06,149.47L397.30,149.50L397.55,149.54L397.79,149.57L398.04,149.61L398.28,149.64L398.52,149.68L398.77,149.72L399.01,149.76L399.25,149.79L399.50,149.83L399.74,149.87L399.98,149.91L400.22,149.96L400.46,150.00L400.70,150.04L400.94,150.08L401.18,150.13L401.42,150.17L401.66,150.22L401.89,150.26L402.13,150.31L402.37,150.36L402.60,150.41L402.84,150.45L403.08,150.50L403.31,150.55L403.54,150.60L403.78,150.65L404.01,150.71L404.24,150.76L404.48,150.81L404.71,150.86L404.94,150.92L405.17,150.97L405.40,151.03L405.63,151.09L405.86,151.14L406.09,151.20L406.31,151.26L406.54,151.32L406.77,151.37L406.99,151.43L407.22,151.49L407.44,151.56L407.67,151.62L407.89,151.68L408.12,151.74L408.34,151.81L408.56,151.87L408.78,151.93L409.00,152.00L409.22,152.07L409.44,152.13L409.66,152.20L409.87,152.27L410.09,152.33L410.31,152.40L410.52,152.47L410.74,152.54L410.95,152.61L411.16,152.68L411.38,152.75L411.59,152.83L411.80,152.90L412.01,152.97L412.22,153.05L412.43,153.12L412.64,153.20L412.85,153.27L413.05,153.35L413.26,153.42L413.46,153.50L413.67,153.58L413.87,153.66L414.07,153.74L414.27,153.82L414.48,153.90L414.68,153.98L414.88,154.06L415.07,154.14L415.27,154.22L415.47,154.30L415.67,154.39L415.86,154.47L416.05,154.56L416.25,154.64L416.44,154.73L416.63,154.81L416.82,154.90L417.01,154.98L417.20,155.07L417.39,155.16L417.58,155.25L417.76,155.34L417.95,155.43L418.14,155.52L418.32,155.61L418.50,155.70L418.68,155.79L418.86,155.88L419.04,155.97L419.22,156.07L419.40,156.16L419.58,156.25L419.76,156.35L419.93,156.44L420.10,156.54L420.28,156.63L420.45,156.73L420.62,156.82L420.79,156.92L420.96,157.02L421.13,157.12L421.30,157.22L421.46,157.31L421.63,157.41L421.79,157.51L421.96,157.61L422.12,157.71L422.28,157.82L422.44,157.92L422.60,158.02L422.76,158.12L422.92,158.22L423.07,158.33L423.23,158.43L423.38,158.54L423.53,158.64L423.69,158.74L423.84,158.85L423.99,158.96L424.14,159.06L424.28,159.17L424.43,159.27L424.58,159.38L424.72,159.49L424.86,159.60L425.01,159.71L425.15,159.82L425.29,159.92L425.43,160.03L425.56,160.14L425.70,160.25L425.84,160.37L425.97,160.48L426.10,160.59L426.24,160.70L426.37,160.81L426.50,160.92L426.62,161.04L426.75,161.15L426.88,161.26L427.00,161.38L427.13,161.49L427.25,161.61L427.37,161.72L427.49,161.84L427.61,161.95L427.73,162.07L427.85,162.18L427.96,162.30L428.08,162.42L428.19,162.53L428.30,162.65L428.42,162.77L428.53,162.89L428.63,163.01L428.74,163.12L428.85,163.24L428.95,163.36L429.06,163.48L429.16,163.60L429.26,163.72L429.36,163.84L429.46,163.96L429.56,164.08L429.65,164.20L429.75,164.33L429.84,164.45L429.94,164.57L430.03,164.69L430.12,164.81L430.21,164.94L430.30,165.06L430.38,165.18L430.47,165.30L430.55,165.43L430.64,165.55L430.72,165.68L430.80,165.80L430.88,165.92L430.95,166.05L431.03,166.17L431.11,166.30L431.18,166.42L431.25,166.55L431.32,166.68L431.39,166.80L431.46,166.93L431.53,167.05L431.60,167.18L431.66,167.31L431.73,167.43L431.79,167.56L431.85,167.69L431.91,167.81L431.97,167.94L432.03,168.07L432.08,168.20L432.14,168.32L432.19,168.45L432.24,168.58L432.29,168.71L432.34,168.84L432.39,168.97L432.44,169.09L432.48,169.22L432.53,169.35L432.57,169.48L432.61,169.61L432.65,169.74L432.69,169.87L432.73,170.00L432.77,170.13L432.80,170.26L432.84,170.39L432.87,170.52L432.90,170.65L432.93,170.78L432.96,170.91L432.98,171.04L433.01,171.17L433.03,171.30L433.06,171.43L433.08,171.56L433.10,171.69L433.12,171.82L433.14,171.95L433.15,172.08L433.17,172.21L433.18,172.34L433.20,172.47L433.21,172.60L433.22,172.73L433.23,172.86L433.23,173.00L433.24,173.13L433.24,173.26L433.25,173.39L433.25,173.52L433.25,173.65Z" fill="none" stroke="#1a1a1a" stroke-width="18.20" stroke-linejoin="round"/>
<path d="M433.25,173.65L433.25,173.78L433.25,173.91L433.24,174.04L433.24,174.17L433.23,174.30L433.23,174.44L433.22,174.57L433.21,174.70L433.20,174.83L433.18,174.96L433.17,175.09L433.15,175.22L433.14,175.35L433.12,175.48L433.10,175.61L433.08,175.74L433.06,175.87L433.03,176.00L433.01,176.13L432.98,176.26L432.96,176.39L432.93,176.52L432.90,176.65L432.87,176.78L432.84,176.91L432.80,177.04L432.77,177.17L432.73,177.30L432.69,177.43L432.65,177.56L432.61,177.69L432.57,177.82L432.53,177.95L432.48,178.08L432.44,178.21L432.39,178.33L432.34,178.46L432.29,178.59L432.24,178.72L432.19,178.85L432.14,178.98L432.08,179.10L432.03,179.23L431.97,179.36L431.91,179.49L431.85,179.61L431.79,179.74L431.73,179.87L431.66,179.99L431.60,180.12L431.53,180.25L431.46,180.37L431.39,180.50L431.32,180.62L431.25,180.75L431.18,180.88L431.11,181.00L431.03,181.13L430.95,181.25L430.88,181.38L430.80,181.50L430.72,181.62L430.64,181.75L430.55,181.87L430.47,182.00L430.38,182.12L430.30,182.24L430.21,182.36L430.12,182.49L430.03,182.61L429.94,182.73L429.84,182.85L429.75,182.97L429.65,183.10L429.56,183.22L429.46,183.34L429.36,183.46L429.26,183.58L429.16,183.70L429.06,183.82L428.95,183.94L428.85,184.06L428.74,184.18L428.63,184.29L428.53,184.41L428.42,184.53L428.30,184.65L428.19,184.77L428.08,184.88L427.96,185.00L427.85,185.12L427.73,185.23L427.61,185.35L427.49,185.46L427.37,185.58L427.25,185.69L427.13,185.81L427.00,185.92L426.88,186.04L426.75,186.15L426.62,186.26L426.50,186.38L426.37,186.49L426.24,186.60L426.10,186.71L425.97,186.82L425.84,186.93L425.70,187.05L425.56,187.16L425.43,187.27L425.29,187.38L425.15,187.48L425.01,187.59L424.86,187.70L424.72,187.81L424.58,187.92L424.43,188.03L424.28,188.13L424.14,188.24L423.99,188.34L423.84,188.45L423.69,188.56L423.53,188.66L423.38,188.76L423.23,188.87L423.07,188.97L422.92,189.08L422.76,189.18L422.60,189.28L422.44,189.38L422.28,189.48L422.12,189.59L421.96,189.69L421.79,189.79L421.63,189.89L421.46,189.99L421.30,190.08L421.13,190.18L420.96,190.28L420.79,190.38L420.62,190.48L420.45,190.57L420.28,190.67L420.10,190.76L419.93,190.86L419.76,190.95L419.58,191.05L419.40,191.14L419.22,191.23L419.04,191.33L418.86,191.42L418.68,191.51L418.50,191.60L418.32,191.69L418.14,191.78L417.95,191.87L417.76,191.96L417.58,192.05L417.39,192.14L417.20,192.23L417.01,192.32L416.82,192.40L416.63,192.49L416.44,192.57L416.25,192.66L416.05,192.74L415.86,192.83L415.67,192.91L415.47,193.00L415.27,193.08L415.07,193.16L414.88,193.24L414.68,193.32L414.48,193.40L414.27,193.48L414.07,193.56L413.87,193.64L413.67,193.72L413.46,193.80L413.26,193.88L413.05,193.95L412.85,194.03L412.64,194.10L412.43,194.18L412.22,194.25L412.01,194.33L411.80,194.40L411.59,194.47L411.38,194.55L411.16,194.62L410.95,194.69L410.74,194.76L410.52,194.83L410.31,194.90L410.09,194.97L409.87,195.03L409.66,195.10L409.44,195.17L409.22,195.23L409.00,195.30L408.78,195.37L408.56,195.43L408.34,195.49L408.12,195.56L407.89,195.62L407.67,195.68L407.44,195.74L407.22,195.81L406.99,195.87L406.77,195.93L406.54,195.98L406.31,196.04L406.09,196.10L405.86,196.16L405.63,196.21L405.40,196.27L405.17,196.33L404.94,196.38L404.71,196.44L404.48,196.49L404.24,196.54L404.01,196.59L403.78,196.65L403.54,196.70L403.31,196.75L403.08,196.80L402.84,196.85L402.60,196.89L402.37,196.94L402.13,196.99L401.89,197.04L401.66,197.08L401.42,197.13L401.18,197.17L400.94,197.22L400.70,197.26L400.46,197.30L400.22,197.34L399.98,197.39L399.74,197.43L399.50,197.47L399.25,197.51L399.01,197.54L398.77,197.58L398.52,197.62L398.28,197.66L398.04,197.69L397.79,197.73L397.55,197.76L397.30,197.80L397.06,197.83L396.81,197.86L396.57,197.90L396.32,197.93L396.07,197.96L395.83,197.99L395.58,198.02L395.33,198.05L395.08,198.08L394.83,198.10L394.59,198.13L394.34,198.16L394.09,198.18L393.84,198.21L393.59,198.23L393.34,198.25L393.09,198.28L392.84,198.30L392.59,198.32L392.34,198.34L392.09,198.36L391.84,198.38L391.58,198.40L391.33,198.42L391.08,198.44L390.83,198.45L390.58,198.47L390.32,198.48L390.07,198.50L389.82,198.51L389.57,198.53L389.31,198.54L389.06,198.55L388.81,198.56L388.56,198.57L388.30,198.58L388.05,198.59L387.80,198.60L387.54,198.61L387.29,198.62L387.03,198.62L386.78,198.63L386.53,198.63L386.27,198.64L386.02,198.64L385.77,198.64L385.51,198.65L385.26,198.65L385.00,198.65L384.75,198.65L384.50,198.65L384.24,198.65L383.99,198.65L383.73,198.64L383.48,198.64L383.23,198.64L382.97,198.63L382.72,198.63L382.47,198.62L382.21,198.62L381.96,198.61L381.70,198.60L381.45,198.59L381.20,198.58L380.94,198.57L380.69,198.56L380.44,198.55L380.19,198.54L379.93,198.53L379.68,198.51L379.43,198.50L379.18,198.48L378.92,198.47L378.67,198.45L378.42,198.44L378.17,198.42L377.92,198.40L377.66,198.38L377.41,198.36L377.16,198.34L376.91,198.32L376.66,198.30L376.41,198.28L376.16,198.25L375.91,198.23L375.66,198.21L375.41,198.18L375.16,198.16L374.91,198.13L374.67,198.10L374.42,198.08L374.17,198.05L373.92,198.02L373.67,197.99L373.43,197.96L373.18,197.93L372.93,197.90L372.69,197.86L372.44,197.83L372.20,197.80L371.95,197.76L371.71,197.73L371.46,197.69L371.22,197.66L370.98,197.62L370.73,197.58L370.49,197.54L370.25,197.51L370.00,197.47L369.76,197.43L369.52,197.39L369.28,197.34L369.04,197.30L368.80,197.26L368.56,197.22L368.32,197.17L368.08,197.13L367.84,197.08L367.61,197.04L367.37,196.99L367.13,196.94L366.90,196.89L366.66,196.85L366.42,196.80L366.19,196.75L365.96,196.70L365.72,196.65L365.49,196.59L365.26,196.54L365.02,196.49L364.79,196.44L364.56,196.38L364.33,196.33L364.10,196.27L363.87,196.21L363.64,196.16L363.41,196.10L363.19,196.04L362.96,195.98L362.73,195.93L362.51,195.87L362.28,195.81L362.06,195.74L361.83,195.68L361.61,195.62L361.38,195.56L361.16,195.49L360.94,195.43L360.72,195.37L360.50,195.30L360.28,195.23L360.06,195.17L359.84,195.10L359.63,195.03L359.41,194.97L359.19,194.90L358.98,194.83L358.76,194.76L358.55,194.69L358.34,194.62L358.12,194.55L357.91,194.47L357.70,194.40L357.49,194.33L357.28,194.25L357.07,194.18L356.86,194.10L356.65,194.03L356.45,193.95L356.24,193.88L356.04,193.80L355.83,193.72L355.63,193.64L355.43,193.56L355.23,193.48L355.02,193.40L354.82,193.32L354.62,193.24L354.43,193.16L354.23,193.08L354.03,193.00L353.83,192.91L353.64,192.83L353.45,192.74L353.25,192.66L353.06,192.57L352.87,192.49L352.68,192.40L352.49,192.32L352.30,192.23L352.11,192.14L351.92,192.05L351.74,191.96L351.55,191.87L351.36,191.78L351.18,191.69L351.00,191.60L350.82,191.51L350.64,191.42L350.46,191.33L350.28,191.23L350.10,191.14L349.92,191.05L349.74,190.95L349.57,190.86L349.40,190.76L349.22,190.67L349.05,190.57L348.88,190.48L348.71,190.38L348.54,190.28L348.37,190.18L348.20,190.08L348.04,189.99L347.87,189.89L347.71,189.79L347.54,189.69L347.38,189.59L347.22,189.48L347.06,189.38L346.90,189.28L346.74,189.18L346.58,189.08L346.43,188.97L346.27,188.87L346.12,188.76L345.97,188.66L345.81,188.56L345.66,188.45L345.51,188.34L345.36,188.24L345.22,188.13L345.07,188.03L344.92,187.92L344.78,187.81L344.64,187.70L344.49,187.59L344.35,187.48L344.21,187.38L344.07,187.27L343.94,187.16L343.80,187.05L343.66,186.93L343.53,186.82L343.40,186.71L343.26,186.60L343.13,186.49L343.00,186.38L342.88,186.26L342.75,186.15L342.62,186.04L342.50,185.92L342.37,185.81L342.25,185.69L342.13,185.58L342.01,185.46L341.89,185.35L341.77,185.23L341.65,185.12L341.54,185.00L341.42,184.88L341.31,184.77L341.20,184.65L341.08,184.53L340.97,184.41L340.87,184.29L340.76,184.18L340.65,184.06L340.55,183.94L340.44,183.82L340.34,183.70L340.24,183.58L340.14,183.46L340.04,183.34L339.94,183.22L339.85,183.10L339.75,182.97L339.66,182.85L339.56,182.73L339.47,182.61L339.38,182.49L339.29,182.36L339.20,182.24L339.12,182.12L339.03,182.00L338.95,181.87L338.86,181.75L338.78,181.62L338.70,181.50L338.62,181.38L338.55,181.25L338.47,181.13L338.39,181.00L338.32,180.88L338.25,180.75L338.18,180.62L338.11,180.50L338.04,180.37L337.97,180.25L337.90,180.12L337.84,179.99L337.77,179.87L337.71,179.74L337.65,179.61L337.59,179.49L337.53,179.36L337.47,179.23L337.42,179.10L337.36,178.98L337.31,178.85L337.26,178.72L337.21,178.59L337.16,178.46L337.11,178.33L337.06,178.21L337.02,178.08L336.97,177.95L336.93,177.82L336.89,177.69L336.85,177.56L336.81,177.43L336.77,177.30L336.73,177.17L336.70,177.04L336.66,176.91L336.63,176.78L336.60,176.65L336.57,176.52L336.54,176.39L336.52,176.26L336.49,176.13L336.47,176.00L336.44,175.87L336.42,175.74L336.40,175.61L336.38,175.48L336.36,175.35L336.35,175.22L336.33,175.09L336.32,174.96L336.30,174.83L336.29,174.70L336.28,174.57L336.27,174.44L336.27,174.30L336.26,174.17L336.26,174.04L336.25,173.91L336.25,173.78L336.25,173.65L336.25,173.52L336.25,173.39L336.26,173.26L336.26,173.13L336.27,173.00L336.27,172.86L336.28,172.73L336.29,172.60L336.30,172.47L336.32,172.34L336.33,172.21L336.35,172.08L336.36,171.95L336.38,171.82L336.40,171.69L336.42,171.56L336.44,171.43L336.47,171.30L336.49,171.17L336.52,171.04L336.54,170.91L336.57,170.78L336.60,170.65L336.63,170.52L336.66,170.39L336.70,170.26L336.73,170.13L336.77,170.00L336.81,169.87L336.85,169.74L336.89,169.61L336.93,169.48L336.97,169.35L337.02,169.22L337.06,169.09L337.11,168.97L337.16,168.84L337.21,168.71L337.26,168.58L337.31,168.45L337.36,168.32L337.42,168.20L337.47,168.07L337.53,167.94L337.59,167.81L337.65,167.69L337.71,167.56L337.77,167.43L337.84,167.31L337.90,167.18L337.97,167.05L338.04,166.93L338.11,166.80L338.18,166.68L338.25,166.55L338.32,166.42L338.39,166.30L338.47,166.17L338.55,166.05L338.62,165.92L338.70,165.80L338.78,165.68L338.86,165.55L338.95,165.43L339.03,165.30L339.12,165.18L339.20,165.06L339.29,164.94L339.38,164.81L339.47,164.69L339.56,164.57L339.66,164.45L339.75,164.33L339.85,164.20L339.94,164.08L340.04,163.96L340.14,163.84L340.24,163.72L340.34,163.60L340.44,163.48L340.55,163.36L340.65,163.24L340.76,163.12L340.87,163.01L340.97,162.89L341.08,162.77L341.20,162.65L341.31,162.53L341.42,162.42L341.54,162.30L341.65,162.18L341.77,162.07L341.89,161.95L342.01,161.84L342.13,161.72L342.25,161.61L342.37,161.49L342.50,161.38L342.62,161.26L342.75,161.15L342.88,161.04L343.00,160.92L343.13,160.81L343.26,160.70L343.40,160.59L343.53,160.48L343.66,160.37L343.80,160.25L343.94,160.14L344.07,160.03L344.21,159.92L344.35,159.82L344.49,159.71L344.64,159.60L344.78,159.49L344.92,159.38L345.07,159.27L345.22,159.17L345.36,159.06L345.51,158.96L345.66,158.85L345.81,158.74L345.97,158.64L346.12,158.54L346.27,158.43L346.43,158.33L346.58,158.22L346.74,158.12L346.90,158.02L347.06,157.92L347.22,157.82L347.38,157.71L347.54,157.61L347.71,157.51L347.87,157.41L348.04,157.31L348.20,157.22L348.37,157.12L348.54,157.02L348.71,156.92L348.88,156.82L349.05,156.73L349.22,156.63L349.40,156.54L349.57,156.44L349.74,156.35L349.92,156.25L350.10,156.16L350.28,156.07L350.46,155.97L350.64,155.88L350.82,155.79L351.00,155.70L351.18,155.61L351.36,155.52L351.55,155.43L351.74,155.34L351.92,155.25L352.11,155.16L352.30,155.07L352.49,154.98L352.68,154.90L352.87,154.81L353.06,154.73L353.25,154.64L353.45,154.56L353.64,154.47L353.83,154.39L354.03,154.30L354.23,154.22L354.43,154.14L354.62,154.06L354.82,153.98L355.02,153.90L355.23,153.82L355.43,153.74L355.63,153.66L355.83,153.58L356.04,153.50L356.24,153.42L356.45,153.35L356.65,153.27L356.86,153.20L357.07,153.12L357.28,153.05L357.49,152.97L357.70,152.90L357.91,152.83L358.12,152.75L358.34,152.68L358.55,152.61L358.76,152.54L358.98,152.47L359.19,152.40L359.41,152.33L359.63,152.27L359.84,152.20L360.06,152.13L360.28,152.07L360.50,152.00L360.72,151.93L360.94,151.87L361.16,151.81L361.38,151.74L361.61,151.68L361.83,151.62L362.06,151.56L362.28,151.49L362.51,151.43L362.73,151.37L362.96,151.32L363.19,151.26L363.41,151.20L363.64,151.14L363.87,151.09L364.10,151.03L364.33,150.97L364.56,150.92L364.79,150.86L365.02,150.81L365.26,150.76L365.49,150.71L365.72,150.65L365.96,150.60L366.19,150.55L366.42,150.50L366.66,150.45L366.90,150.41L367.13,150.36L367.37,150.31L367.61,150.26L367.84,150.22L368.08,150.17L368.32,150.13L368.56,150.08L368.80,150.04L369.04,150.00L369.28,149.96L369.52,149.91L369.76,149.87L370.00,149.83L370.25,149.79L370.49,149.76L370.73,149.72L370.98,149.68L371.22,149.64L371.46,149.61L371.71,149.57L371.95,149.54L372.20,149.50L372.44,149.47L372.69,149.44L372.93,149.40L373.18,149.37L373.43,149.34L373.67,149.31L373.92,149.28L374.17,149.25L374.42,149.22L374.67,149.20L374.91,149.17L375.16,149.14L375.41,149.12L375.66,149.09L375.91,149.07L376.16,149.05L376.41,149.02L376.66,149.00L376.91,148.98L377.16,148.96L377.41,148.94L377.66,148.92L377.92,148.90L378.17,148.88L378.42,148.86L378.67,148.85L378.92,148.83L379.18,148.82L379.43,148.80L379.68,148.79L379.93,148.77L380.19,148.76L380.44,148.75L380.69,148.74L380.94,148.73L381.20,148.72L381.45,148.71L381.70,148.70L381.96,148.69L382.21,148.68L382.47,148.68L382.72,148.67L382.97,148.67L383.23,148.66L383.48,148.66L383.73,148.66L383.99,148.65L384.24,148.65L384.50,148.65L384.75,148.65L385.00,148.65L385.26,148.65L385.51,148.65L385.77,148.66L386.02,148.66L386.27,148.66L386.53,148.67L386.78,148.67L387.03,148.68L387.29,148.68L387.54,148.69L387.80,148.70L388.05,148.71L388.30,148.72L388.56,148.73L388.81,148.74L389.06,148.75L389.31,148.76L389.57,148.77L389.82,148.79L390.07,148.80L390.32,148.82L390.58,148.83L390.83,148.85L391.08,148.86L391.33,148.88L391.58,148.90L391.84,148.92L392.09,148.94L392.34,148.96L392.59,148.98L392.84,149.00L393.09,149.02L393.34,149.05L393.59,149.07L393.84,149.09L394.09,149.12L394.34,149.14L394.59,149.17L394.83,149.20L395.08,149.22L395.33,149.25L395.58,149.28L395.83,149.31L396.07,149.34L396.32,149.37L396.57,149.40L396.81,149.44L397.06,149.47L397.30,149.50L397.55,149.54L397.79,149.57L398.04,149.61L398.28,149.64L398.52,149.68L398.77,149.72L399.01,149.76L399.25,149.79L399.50,149.83L399.74,149.87L399.98,149.91L400.22,149.96L400.46,150.00L400.70,150.04L400.94,150.08L401.18,150.13L401.42,150.17L401.66,150.22L401.89,150.26L402.13,150.31L402.37,150.36L402.60,150.41L402.84,150.45L403.08,150.50L403.31,150.55L403.54,150.60L403.78,150.65L404.01,150.71L404.24,150.76L404.48,150.81L404.71,150.86L404.94,150.92L405.17,150.97L405.40,151.03L405.63,151.09L405.86,151.14L406.09,151.20L406.31,151.26L406.54,151.32L406.77,151.37L406.99,151.43L407.22,151.49L407.44,151.56L407.67,151.62L407.89,151.68L408.12,151.74L408.34,151.81L408.56,151.87L408.78,151.93L409.00,152.00L409.22,152.07L409.44,152.13L409.66,152.20L409.87,152.27L410.09,152.33L410.31,152.40L410.52,152.47L410.74,152.54L410.95,152.61L411.16,152.68L411.38,152.75L411.59,152.83L411.80,152.90L412.01,152.97L412.22,153.05L412.43,153.12L412.64,153.20L412.85,153.27L413.05,153.35L413.26,153.42L413.46,153.50L413.67,153.58L413.87,153.66L414.07,153.74L414.27,153.82L414.48,153.90L414.68,153.98L414.88,154.06L415.07,154.14L415.27,154.22L415.47,154.30L415.67,154.39L415.86,154.47L416.05,154.56L416.25,154.64L416.44,154.73L416.63,154.81L416.82,154.90L417.01,154.98L417.20,155.07L417.39,155.16L417.58,155.25L417.76,155.34L417.95,155.43L418.14,155.52L418.32,155.61L418.50,155.70L418.68,155.79L418.86,155.88L419.04,155.97L419.22,156.07L419.40,156.16L419.58,156.25L419.76,156.35L419.93,156.44L420.10,156.54L420.28,156.63L420.45,156.73L420.62,156.82L420.79,156.92L420.96,157.02L421.13,157.12L421.30,157.22L421.46,157.31L421.63,157.41L421.79,157.51L421.96,157.61L422.12,157.71L422.28,157.82L422.44,157.92L422.60,158.02L422.76,158.12L422.92,158.22L423.07,158.33L423.23,158.43L423.38,158.54L423.53,158.64L423.69,158.74L423.84,158.85L423.99,158.96L424.14,159.06L424.28,159.17L424.43,159.27L424.58,159.38L424.72,159.49L424.86,159.60L425.01,159.71L425.15,159.82L425.29,159.92L425.43,160.03L425.56,160.14L425.70,160.25L425.84,160.37L425.97,160.48L426.10,160.59L426.24,160.70L426.37,160.81L426.50,160.92L426.62,161.04L426.75,161.15L426.88,161.26L427.00,161.38L427.13,161.49L427.25,161.61L427.37,161.72L427.49,161.84L427.61,161.95L427.73,162.07L427.85,162.18L427.96,162.30L428.08,162.42L428.19,162.53L428.30,162.65L428.42,162.77L428.53,162.89L428.63,163.01L428.74,163.12L428.85,163.24L428.95,163.36L429.06,163.48L429.16,163.60L429.26,163.72L429.36,163.84L429.46,163.96L429.56,164.08L429.65,164.20L429.75,164.33L429.84,164.45L429.94,164.57L430.03,164.69L430.12,164.81L430.21,164.94L430.30,165.06L430.38,165.18L430.47,165.30L430.55,165.43L430.64,165.55L430.72,165.68L430.80,165.80L430.88,165.92L430.95,166.05L431.03,166.17L431.11,166.30L431.18,166.42L431.25,166.55L431.32,166.68L431.39,166.80L431.46,166.93L431.53,167.05L431.60,167.18L431.66,167.31L431.73,167.43L431.79,167.56L431.85,167.69L431.91,167.81L431.97,167.94L432.03,168.07L432.08,168.20L432.14,168.32L432.19,168.45L432.24,168.58L432.29,168.71L432.34,168.84L432.39,168.97L432.44,169.09L432.48,169.22L432.53,169.35L432.57,169.48L432.61,169.61L432.65,169.74L432.69,169.87L432.73,170.00L432.77,170.13L432.80,170.26L432.84,170.39L432.87,170.52L432.90,170.65L432.93,170.78L432.96,170.91L432.98,171.04L433.01,171.17L433.03,171.30L433.06,171.43L433.08,171.56L433.10,171.69L433.12,171.82L433.14,171.95L433.15,172.08L433.17,172.21L433.18,172.34L433.20,172.47L433.21,172.60L433.22,172.73L433.23,172.86L433.23,173.00L433.24,173.13L433.24,173.26L433.25,173.39L433.25,173.52L433.25,173.65Z" fill="none" stroke="#fff" stroke-width="15.20" stroke-linejoin="round"/>
<path d="M426.15,173.61 Q433.27,170.24 440.35,173.69M425.77,175.76 Q433.13,176.19 439.20,180.37M424.59,178.01 Q430.77,181.56 436.27,186.09M422.56,180.35 Q427.20,185.75 432.44,190.56M419.91,182.53 Q423.07,189.00 428.15,194.09M416.79,184.48 Q418.68,191.55 423.65,196.92M413.33,186.19 Q414.17,193.57 419.03,199.19M409.66,187.63 Q409.58,195.17 414.33,201.04M405.80,188.83 Q404.97,196.43 409.60,202.51M401.84,189.80 Q400.31,197.39 404.82,203.68M397.80,190.55 Q395.63,198.08 400.01,204.58M393.70,191.08 Q390.94,198.51 395.19,205.21M389.57,191.42 Q386.26,198.71 390.35,205.59M385.41,191.55 Q381.58,198.67 385.51,205.75M381.24,191.48 Q376.93,198.42 380.68,205.67M377.10,191.21 Q372.30,197.91 375.85,205.36M372.98,190.74 Q367.71,197.17 371.02,204.80M368.93,190.06 Q363.16,196.16 366.20,203.99M364.95,189.16 Q358.69,194.88 361.40,202.92M361.05,188.04 Q354.32,193.31 356.66,201.54M357.30,186.67 Q350.08,191.40 351.95,199.82M353.78,185.05 Q346.06,189.07 347.30,197.69M350.53,183.17 Q342.34,186.30 342.76,195.06M347.70,181.05 Q339.12,183.01 338.40,191.78M345.47,178.76 Q336.73,179.19 334.37,187.62M343.99,176.41 Q335.56,175.07 331.09,182.35M343.39,174.32 Q335.92,171.27 329.27,175.82M343.52,172.26 Q337.18,168.24 329.71,168.95M344.45,170.01 Q338.81,165.58 332.16,162.89M346.20,167.70 Q340.90,162.97 335.81,158.02M348.70,165.43 Q343.57,160.43 339.96,154.24M351.67,163.41 Q346.67,158.12 344.42,151.20M355.05,161.62 Q350.15,156.08 348.99,148.78M358.67,160.10 Q353.88,154.31 353.66,146.81M362.47,158.82 Q357.80,152.81 358.40,145.22M366.40,157.78 Q361.85,151.56 363.16,143.95M370.41,156.97 Q365.99,150.53 367.97,142.98M374.50,156.36 Q370.21,149.73 372.78,142.27M378.63,155.97 Q374.49,149.15 377.61,141.80M382.78,155.77 Q378.80,148.76 382.45,141.58M386.93,155.78 Q383.13,148.58 387.30,141.58M391.08,155.98 Q387.48,148.59 392.14,141.82M395.20,156.39 Q391.82,148.81 396.97,142.30M399.29,157.00 Q396.16,149.23 401.78,143.02M403.30,157.83 Q400.48,149.86 406.58,144.01M407.23,158.88 Q404.76,150.71 411.35,145.29M411.02,160.17 Q409.00,151.80 416.07,146.90M414.63,161.71 Q413.18,153.15 420.74,148.89M417.97,163.50 Q417.28,154.77 425.33,151.36M420.95,165.55 Q421.28,156.76 429.75,154.40M423.39,167.80 Q425.19,159.20 433.91,158.26M425.14,170.16 Q428.88,162.38 437.48,163.14M426.00,172.35 Q432.04,166.74 439.87,169.30" fill="none" stroke="#2a2a2a" stroke-width="1.15"/>
<path d="M378.00,123.50L378.16,123.59L378.33,123.67L378.49,123.76L378.66,123.84L378.82,123.93L378.99,124.02L379.15,124.10L379.32,124.19L379.48,124.28L379.65,124.36L379.81,124.45L379.97,124.53L380.14,124.62L380.30,124.71L380.47,124.79L380.63,124.88L380.79,124.96L380.96,125.05L381.12,125.14L381.28,125.22L381.45,125.31L381.61,125.39L381.77,125.48L381.94,125.56L382.10,125.65L382.26,125.74L382.42,125.82L382.59,125.91L382.75,125.99L382.91,126.08L383.07,126.16L383.24,126.25L383.40,126.34L383.56,126.42L383.72,126.51L383.88,126.59L384.05,126.68L384.21,126.76L384.37,126.85L384.53,126.93L384.69,127.02L384.85,127.11L385.01,127.19L385.17,127.28L385.33,127.36L385.50,127.45L385.66,127.53L385.82,127.62L385.98,127.70L386.14,127.79L386.30,127.87L386.46,127.96L386.62,128.04L386.78,128.13L386.94,128.21L387.09,128.30L387.25,128.38L387.41,128.47L387.57,128.55L387.73,128.64L387.89,128.72L388.05,128.81L388.21,128.89L388.37,128.98L388.52,129.06L388.68,129.15L388.84,129.23L389.00,129.32L389.16,129.40L389.31,129.49L389.47,129.57L389.63,129.66L389.78,129.74L389.94,129.83L390.10,129.91L390.25,130.00L390.41,130.08L390.57,130.17L390.72,130.25L390.88,130.34L391.04,130.42L391.19,130.51L391.35,130.59L391.50,130.67L391.66,130.76L391.81,130.84L391.97,130.93L392.12,131.01L392.28,131.10L392.43,131.18L392.59,131.27L392.74,131.35L392.89,131.43L393.05,131.52L393.20,131.60L393.36,131.69L393.51,131.77L393.66,131.86L393.82,131.94L393.97,132.02L394.12,132.11L394.27,132.19L394.43,132.28L394.58,132.36L394.73,132.44L394.88,132.53L395.03,132.61L395.19,132.70L395.34,132.78L395.49,132.86L395.64,132.95L395.79,133.03L395.94,133.12L396.09,133.20L396.24,133.28L396.39,133.37L396.54,133.45L396.69,133.53L396.84,133.62L396.99,133.70L397.14,133.79L397.29,133.87L397.44,133.95L397.59,134.04L397.73,134.12L397.88,134.20L398.03,134.29L398.18,134.37L398.33,134.45L398.47,134.54L398.62,134.62L398.77,134.70L398.91,134.79L399.06,134.87L399.21,134.95L399.35,135.04L399.50,135.12L399.65,135.20L399.79,135.29L399.94,135.37L400.08,135.45L400.23,135.54L400.37,135.62L400.52,135.70L400.66,135.79L400.80,135.87L400.95,135.95L401.09,136.03L401.24,136.12L401.38,136.20L401.52,136.28L401.66,136.37L401.81,136.45L401.95,136.53L402.09,136.61L402.23,136.70L402.38,136.78L402.52,136.86L402.66,136.95L402.80,137.03L402.94,137.11L403.08,137.19L403.22,137.28L403.36,137.36L403.50,137.44L403.64,137.52L403.78,137.61L403.92,137.69L404.06,137.77L404.20,137.85L404.34,137.94L404.48,138.02L404.61,138.10L404.75,138.18L404.89,138.26L405.03,138.35L405.16,138.43L405.30,138.51L405.44,138.59L405.57,138.68L405.71,138.76L405.85,138.84L405.98,138.92L406.12,139.00L406.25,139.09L406.39,139.17L406.52,139.25L406.66,139.33L406.79,139.41L406.92,139.50L407.06,139.58L407.19,139.66L407.32,139.74L407.46,139.82L407.59,139.90L407.72,139.99L407.86,140.07L407.99,140.15L408.12,140.23L408.25,140.31L408.38,140.39L408.51,140.48L408.64,140.56L408.77,140.64L408.90,140.72L409.03,140.80L409.16,140.88L409.29,140.96L409.42,141.05L409.55,141.13L409.68,141.21L409.81,141.29L409.93,141.37L410.06,141.45L410.19,141.53L410.32,141.61L410.44,141.69L410.57,141.78L410.70,141.86L410.82,141.94L410.95,142.02L411.07,142.10L411.20,142.18L411.32,142.26L411.45,142.34L411.57,142.42L411.69,142.50L411.82,142.59L411.94,142.67L412.07,142.75L412.19,142.83L412.31,142.91L412.43,142.99L412.55,143.07L412.68,143.15L412.80,143.23L412.92,143.31L413.04,143.39L413.16,143.47L413.28,143.55L413.40,143.63L413.52,143.71L413.64,143.79L413.76,143.87L413.88,143.95L413.99,144.03L414.11,144.11L414.23,144.19L414.35,144.27L414.46,144.35L414.58,144.43L414.70,144.51L414.81,144.59L414.93,144.67L415.05,144.75L415.16,144.83L415.28,144.91L415.39,144.99L415.50,145.07L415.62,145.15L415.73,145.23L415.85,145.31L415.96,145.39L416.07,145.47L416.18,145.55L416.30,145.63L416.41,145.71L416.52,145.79L416.63,145.87L416.74,145.95L416.85,146.03L416.96,146.11L417.07,146.19L417.18,146.27L417.29,146.35L417.40,146.43L417.51,146.51L417.61,146.59L417.72,146.66L417.83,146.74L417.94,146.82L418.04,146.90L418.15,146.98L418.26,147.06L418.36,147.14L418.47,147.22L418.57,147.30L418.68,147.38L418.78,147.45L418.89,147.53L418.99,147.61L419.09,147.69L419.20,147.77L419.30,147.85L419.40,147.93L419.50,148.01L419.60,148.08L419.70,148.16L419.81,148.24L419.91,148.32L420.01,148.40L420.11,148.48L420.21,148.56L420.30,148.63L420.40,148.71L420.50,148.79L420.60,148.87L420.70,148.95L420.79,149.03L420.89,149.10L420.99,149.18L421.08,149.26L421.18,149.34L421.28,149.42L421.37,149.49L421.47,149.57L421.56,149.65L421.65,149.73L421.75,149.81L421.84,149.88L421.93,149.96L422.03,150.04L422.12,150.12L422.21,150.20L422.30,150.27L422.39,150.35L422.48,150.43L422.57,150.51L422.66,150.58L422.75,150.66L422.84,150.74L422.93,150.82L423.02,150.89L423.10,150.97L423.19,151.05L423.28,151.13L423.37,151.20L423.45,151.28L423.54,151.36L423.62,151.43L423.71,151.51L423.79,151.59L423.88,151.67L423.96,151.74L424.05,151.82L424.13,151.90L424.21,151.97L424.29,152.05L424.38,152.13L424.46,152.20L424.54,152.28L424.62,152.36L424.70,152.43L424.78,152.51L424.86,152.59L424.94,152.66L425.02,152.74L425.09,152.82L425.17,152.89L425.25,152.97L425.33,153.05L425.40,153.12L425.48,153.20L425.56,153.28L425.63,153.35L425.71,153.43L425.78,153.50L425.85,153.58L425.93,153.66L426.00,153.73L426.07,153.81L426.15,153.89L426.22,153.96L426.29,154.04L426.36,154.11L426.43,154.19L426.50,154.27L426.57,154.34L426.64,154.42L426.71,154.49L426.78,154.57L426.85,154.64L426.92,154.72L426.98,154.80L427.05,154.87L427.12,154.95L427.18,155.02L427.25,155.10L427.31,155.17L427.38,155.25L427.44,155.32L427.51,155.40L427.57,155.47L427.63,155.55L427.69,155.62L427.76,155.70L427.82,155.77L427.88,155.85L427.94,155.92L428.00,156.00L428.04,156.06L428.09,156.12L428.13,156.18L428.18,156.24L428.22,156.30L428.27,156.36L428.31,156.42L428.35,156.48L428.40,156.54L428.44,156.60L428.48,156.66L428.52,156.72L428.57,156.78L428.61,156.84L428.65,156.90L428.69,156.96L428.73,157.02L428.77,157.08L428.81,157.14L428.86,157.20L428.90,157.26L428.94,157.32L428.98,157.38L429.02,157.44L429.06,157.50L429.10,157.56L429.13,157.62L429.17,157.68L429.21,157.74L429.25,157.80L429.29,157.86L429.33,157.92L429.37,157.98L429.40,158.04L429.44,158.10L429.48,158.16L429.51,158.22L429.55,158.28L429.59,158.34L429.63,158.40L429.66,158.46L429.70,158.52L429.73,158.58L429.77,158.64L429.80,158.70L429.84,158.76L429.87,158.82L429.91,158.88L429.94,158.94L429.98,159.00L430.01,159.06L430.05,159.12L430.08,159.18L430.11,159.24L430.15,159.30L430.18,159.36L430.21,159.42L430.25,159.48L430.28,159.54L430.31,159.60L430.34,159.66L430.38,159.72L430.41,159.78L430.44,159.84L430.47,159.90L430.50,159.96L430.53,160.02L430.56,160.08L430.60,160.15L430.63,160.21L430.66,160.27L430.69,160.33L430.72,160.39L430.75,160.45L430.78,160.51L430.80,160.57L430.83,160.63L430.86,160.69L430.89,160.75L430.92,160.81L430.95,160.87L430.98,160.93L431.00,160.99L431.03,161.05L431.06,161.11L431.09,161.17L431.11,161.23L431.14,161.29L431.17,161.35L431.20,161.41L431.22,161.47L431.25,161.53L431.27,161.59L431.30,161.65L431.33,161.71L431.35,161.77L431.38,161.83L431.40,161.89L431.43,161.96L431.45,162.02L431.48,162.08L431.50,162.14L431.53,162.20L431.55,162.26L431.58,162.32L431.60,162.38L431.62,162.44L431.65,162.50L431.67,162.56L431.69,162.62L431.72,162.68L431.74,162.74L431.76,162.80L431.78,162.86L431.81,162.92L431.83,162.98L431.85,163.05L431.87,163.11L431.89,163.17L431.91,163.23L431.94,163.29L431.96,163.35L431.98,163.41L432.00,163.47L432.02,163.53L432.04,163.59L432.06,163.65L432.08,163.71L432.10,163.77L432.12,163.83L432.14,163.90L432.16,163.96L432.18,164.02L432.20,164.08L432.22,164.14L432.24,164.20L432.25,164.26L432.27,164.32L432.29,164.38L432.31,164.44L432.33,164.50L432.35,164.56L432.36,164.63L432.38,164.69L432.40,164.75L432.42,164.81L432.43,164.87L432.45,164.93L432.47,164.99L432.48,165.05L432.50,165.11L432.52,165.17L432.53,165.24L432.55,165.30L432.56,165.36L432.58,165.42L432.59,165.48L432.61,165.54L432.62,165.60L432.64,165.66L432.65,165.73L432.67,165.79L432.68,165.85L432.70,165.91L432.71,165.97L432.73,166.03L432.74,166.09L432.76,166.15L432.77,166.22L432.78,166.28L432.80,166.34L432.81,166.40L432.82,166.46L432.84,166.52L432.85,166.58L432.86,166.65L432.87,166.71L432.89,166.77L432.90,166.83L432.91,166.89L432.92,166.95L432.93,167.01L432.95,167.08L432.96,167.14L432.97,167.20L432.98,167.26L432.99,167.32L433.00,167.38L433.01,167.45L433.02,167.51L433.04,167.57L433.05,167.63L433.06,167.69L433.07,167.75L433.08,167.82L433.09,167.88L433.10,167.94L433.11,168.00L433.12,168.06L433.12,168.12L433.13,168.19L433.14,168.25L433.15,168.31L433.16,168.37L433.17,168.43L433.18,168.50L433.19,168.56L433.20,168.62L433.20,168.68L433.21,168.74L433.22,168.81L433.23,168.87L433.24,168.93L433.24,168.99L433.25,169.06L433.26,169.12L433.27,169.18L433.27,169.24L433.28,169.30L433.29,169.37L433.29,169.43L433.30,169.49L433.31,169.55L433.31,169.62L433.32,169.68L433.33,169.74L433.33,169.80L433.34,169.87L433.34,169.93L433.35,169.99L433.35,170.05L433.36,170.12L433.37,170.18L433.37,170.24L433.38,170.30L433.38,170.37L433.39,170.43L433.39,170.49L433.40,170.55L433.40,170.62L433.40,170.68L433.41,170.74L433.41,170.80L433.42,170.87L433.42,170.93L433.42,170.99L433.43,171.06L433.43,171.12L433.44,171.18L433.44,171.24L433.44,171.31L433.45,171.37L433.45,171.43L433.45,171.50L433.46,171.56L433.46,171.62L433.46,171.69L433.46,171.75L433.47,171.81L433.47,171.87L433.47,171.94L433.47,172.00L433.47,172.06L433.48,172.13L433.48,172.19L433.48,172.25L433.48,172.32L433.48,172.38L433.49,172.44L433.49,172.51L433.49,172.57L433.49,172.63L433.49,172.70L433.49,172.76L433.49,172.82L433.49,172.89L433.49,172.95L433.49,173.02L433.49,173.08L433.50,173.14L433.50,173.21L433.50,173.27L433.50,173.33L433.50,173.40L433.50,173.46L433.50,173.53L433.50,173.59L433.50,173.65L433.49,173.72L433.49,173.78L433.49,173.85L433.49,173.91L433.49,173.97L433.49,174.04L433.49,174.10L433.49,174.17L433.49,174.23L433.49,174.29L433.49,174.36L433.48,174.42L433.48,174.49L433.48,174.55L433.48,174.61L433.48,174.68L433.48,174.74L433.47,174.81L433.47,174.87L433.47,174.94L433.47,175.00L433.47,175.07L433.46,175.13L433.46,175.19L433.46,175.26L433.46,175.32L433.45,175.39L433.45,175.45L433.45,175.52L433.45,175.58L433.44,175.65L433.44,175.71L433.44,175.78L433.43,175.84L433.43,175.91L433.43,175.97L433.42,176.04L433.42,176.10L433.42,176.17L433.41,176.23L433.41,176.30L433.41,176.36L433.40,176.43L433.40,176.49L433.39,176.56L433.39,176.62L433.39,176.69L433.38,176.75L433.38,176.82L433.37,176.88L433.37,176.95L433.37,177.01L433.36,177.08L433.36,177.15L433.35,177.21L433.35,177.28L433.34,177.34L433.34,177.41L433.33,177.47L433.33,177.54L433.32,177.60L433.32,177.67L433.31,177.74L433.31,177.80L433.30,177.87L433.30,177.93L433.29,178.00L433.29,178.06L433.28,178.13L433.28,178.20L433.27,178.26L433.26,178.33L433.26,178.40L433.25,178.46L433.25,178.53L433.24,178.59L433.24,178.66L433.23,178.73L433.22,178.79L433.22,178.86L433.21,178.93L433.21,178.99L433.20,179.06L433.19,179.12L433.19,179.19L433.18,179.26L433.17,179.32L433.17,179.39L433.16,179.46L433.16,179.52L433.15,179.59L433.14,179.66L433.14,179.72L433.13,179.79L433.12,179.86L433.11,179.92L433.11,179.99L433.10,180.06L433.09,180.13L433.09,180.19L433.08,180.26L433.07,180.33L433.07,180.39L433.06,180.46L433.05,180.53L433.04,180.60L433.04,180.66L433.03,180.73L433.02,180.80L433.01,180.87L433.01,180.93L433.00,181.00" fill="none" stroke="#1a1a1a" stroke-width="17.50" stroke-linejoin="round"/>
<path d="M378.00,123.50L378.16,123.59L378.33,123.67L378.49,123.76L378.66,123.84L378.82,123.93L378.99,124.02L379.15,124.10L379.32,124.19L379.48,124.28L379.65,124.36L379.81,124.45L379.97,124.53L380.14,124.62L380.30,124.71L380.47,124.79L380.63,124.88L380.79,124.96L380.96,125.05L381.12,125.14L381.28,125.22L381.45,125.31L381.61,125.39L381.77,125.48L381.94,125.56L382.10,125.65L382.26,125.74L382.42,125.82L382.59,125.91L382.75,125.99L382.91,126.08L383.07,126.16L383.24,126.25L383.40,126.34L383.56,126.42L383.72,126.51L383.88,126.59L384.05,126.68L384.21,126.76L384.37,126.85L384.53,126.93L384.69,127.02L384.85,127.11L385.01,127.19L385.17,127.28L385.33,127.36L385.50,127.45L385.66,127.53L385.82,127.62L385.98,127.70L386.14,127.79L386.30,127.87L386.46,127.96L386.62,128.04L386.78,128.13L386.94,128.21L387.09,128.30L387.25,128.38L387.41,128.47L387.57,128.55L387.73,128.64L387.89,128.72L388.05,128.81L388.21,128.89L388.37,128.98L388.52,129.06L388.68,129.15L388.84,129.23L389.00,129.32L389.16,129.40L389.31,129.49L389.47,129.57L389.63,129.66L389.78,129.74L389.94,129.83L390.10,129.91L390.25,130.00L390.41,130.08L390.57,130.17L390.72,130.25L390.88,130.34L391.04,130.42L391.19,130.51L391.35,130.59L391.50,130.67L391.66,130.76L391.81,130.84L391.97,130.93L392.12,131.01L392.28,131.10L392.43,131.18L392.59,131.27L392.74,131.35L392.89,131.43L393.05,131.52L393.20,131.60L393.36,131.69L393.51,131.77L393.66,131.86L393.82,131.94L393.97,132.02L394.12,132.11L394.27,132.19L394.43,132.28L394.58,132.36L394.73,132.44L394.88,132.53L395.03,132.61L395.19,132.70L395.34,132.78L395.49,132.86L395.64,132.95L395.79,133.03L395.94,133.12L396.09,133.20L396.24,133.28L396.39,133.37L396.54,133.45L396.69,133.53L396.84,133.62L396.99,133.70L397.14,133.79L397.29,133.87L397.44,133.95L397.59,134.04L397.73,134.12L397.88,134.20L398.03,134.29L398.18,134.37L398.33,134.45L398.47,134.54L398.62,134.62L398.77,134.70L398.91,134.79L399.06,134.87L399.21,134.95L399.35,135.04L399.50,135.12L399.65,135.20L399.79,135.29L399.94,135.37L400.08,135.45L400.23,135.54L400.37,135.62L400.52,135.70L400.66,135.79L400.80,135.87L400.95,135.95L401.09,136.03L401.24,136.12L401.38,136.20L401.52,136.28L401.66,136.37L401.81,136.45L401.95,136.53L402.09,136.61L402.23,136.70L402.38,136.78L402.52,136.86L402.66,136.95L402.80,137.03L402.94,137.11L403.08,137.19L403.22,137.28L403.36,137.36L403.50,137.44L403.64,137.52L403.78,137.61L403.92,137.69L404.06,137.77L404.20,137.85L404.34,137.94L404.48,138.02L404.61,138.10L404.75,138.18L404.89,138.26L405.03,138.35L405.16,138.43L405.30,138.51L405.44,138.59L405.57,138.68L405.71,138.76L405.85,138.84L405.98,138.92L406.12,139.00L406.25,139.09L406.39,139.17L406.52,139.25L406.66,139.33L406.79,139.41L406.92,139.50L407.06,139.58L407.19,139.66L407.32,139.74L407.46,139.82L407.59,139.90L407.72,139.99L407.86,140.07L407.99,140.15L408.12,140.23L408.25,140.31L408.38,140.39L408.51,140.48L408.64,140.56L408.77,140.64L408.90,140.72L409.03,140.80L409.16,140.88L409.29,140.96L409.42,141.05L409.55,141.13L409.68,141.21L409.81,141.29L409.93,141.37L410.06,141.45L410.19,141.53L410.32,141.61L410.44,141.69L410.57,141.78L410.70,141.86L410.82,141.94L410.95,142.02L411.07,142.10L411.20,142.18L411.32,142.26L411.45,142.34L411.57,142.42L411.69,142.50L411.82,142.59L411.94,142.67L412.07,142.75L412.19,142.83L412.31,142.91L412.43,142.99L412.55,143.07L412.68,143.15L412.80,143.23L412.92,143.31L413.04,143.39L413.16,143.47L413.28,143.55L413.40,143.63L413.52,143.71L413.64,143.79L413.76,143.87L413.88,143.95L413.99,144.03L414.11,144.11L414.23,144.19L414.35,144.27L414.46,144.35L414.58,144.43L414.70,144.51L414.81,144.59L414.93,144.67L415.05,144.75L415.16,144.83L415.28,144.91L415.39,144.99L415.50,145.07L415.62,145.15L415.73,145.23L415.85,145.31L415.96,145.39L416.07,145.47L416.18,145.55L416.30,145.63L416.41,145.71L416.52,145.79L416.63,145.87L416.74,145.95L416.85,146.03L416.96,146.11L417.07,146.19L417.18,146.27L417.29,146.35L417.40,146.43L417.51,146.51L417.61,146.59L417.72,146.66L417.83,146.74L417.94,146.82L418.04,146.90L418.15,146.98L418.26,147.06L418.36,147.14L418.47,147.22L418.57,147.30L418.68,147.38L418.78,147.45L418.89,147.53L418.99,147.61L419.09,147.69L419.20,147.77L419.30,147.85L419.40,147.93L419.50,148.01L419.60,148.08L419.70,148.16L419.81,148.24L419.91,148.32L420.01,148.40L420.11,148.48L420.21,148.56L420.30,148.63L420.40,148.71L420.50,148.79L420.60,148.87L420.70,148.95L420.79,149.03L420.89,149.10L420.99,149.18L421.08,149.26L421.18,149.34L421.28,149.42L421.37,149.49L421.47,149.57L421.56,149.65L421.65,149.73L421.75,149.81L421.84,149.88L421.93,149.96L422.03,150.04L422.12,150.12L422.21,150.20L422.30,150.27L422.39,150.35L422.48,150.43L422.57,150.51L422.66,150.58L422.75,150.66L422.84,150.74L422.93,150.82L423.02,150.89L423.10,150.97L423.19,151.05L423.28,151.13L423.37,151.20L423.45,151.28L423.54,151.36L423.62,151.43L423.71,151.51L423.79,151.59L423.88,151.67L423.96,151.74L424.05,151.82L424.13,151.90L424.21,151.97L424.29,152.05L424.38,152.13L424.46,152.20L424.54,152.28L424.62,152.36L424.70,152.43L424.78,152.51L424.86,152.59L424.94,152.66L425.02,152.74L425.09,152.82L425.17,152.89L425.25,152.97L425.33,153.05L425.40,153.12L425.48,153.20L425.56,153.28L425.63,153.35L425.71,153.43L425.78,153.50L425.85,153.58L425.93,153.66L426.00,153.73L426.07,153.81L426.15,153.89L426.22,153.96L426.29,154.04L426.36,154.11L426.43,154.19L426.50,154.27L426.57,154.34L426.64,154.42L426.71,154.49L426.78,154.57L426.85,154.64L426.92,154.72L426.98,154.80L427.05,154.87L427.12,154.95L427.18,155.02L427.25,155.10L427.31,155.17L427.38,155.25L427.44,155.32L427.51,155.40L427.57,155.47L427.63,155.55L427.69,155.62L427.76,155.70L427.82,155.77L427.88,155.85L427.94,155.92L428.00,156.00L428.04,156.06L428.09,156.12L428.13,156.18L428.18,156.24L428.22,156.30L428.27,156.36L428.31,156.42L428.35,156.48L428.40,156.54L428.44,156.60L428.48,156.66L428.52,156.72L428.57,156.78L428.61,156.84L428.65,156.90L428.69,156.96L428.73,157.02L428.77,157.08L428.81,157.14L428.86,157.20L428.90,157.26L428.94,157.32L428.98,157.38L429.02,157.44L429.06,157.50L429.10,157.56L429.13,157.62L429.17,157.68L429.21,157.74L429.25,157.80L429.29,157.86L429.33,157.92L429.37,157.98L429.40,158.04L429.44,158.10L429.48,158.16L429.51,158.22L429.55,158.28L429.59,158.34L429.63,158.40L429.66,158.46L429.70,158.52L429.73,158.58L429.77,158.64L429.80,158.70L429.84,158.76L429.87,158.82L429.91,158.88L429.94,158.94L429.98,159.00L430.01,159.06L430.05,159.12L430.08,159.18L430.11,159.24L430.15,159.30L430.18,159.36L430.21,159.42L430.25,159.48L430.28,159.54L430.31,159.60L430.34,159.66L430.38,159.72L430.41,159.78L430.44,159.84L430.47,159.90L430.50,159.96L430.53,160.02L430.56,160.08L430.60,160.15L430.63,160.21L430.66,160.27L430.69,160.33L430.72,160.39L430.75,160.45L430.78,160.51L430.80,160.57L430.83,160.63L430.86,160.69L430.89,160.75L430.92,160.81L430.95,160.87L430.98,160.93L431.00,160.99L431.03,161.05L431.06,161.11L431.09,161.17L431.11,161.23L431.14,161.29L431.17,161.35L431.20,161.41L431.22,161.47L431.25,161.53L431.27,161.59L431.30,161.65L431.33,161.71L431.35,161.77L431.38,161.83L431.40,161.89L431.43,161.96L431.45,162.02L431.48,162.08L431.50,162.14L431.53,162.20L431.55,162.26L431.58,162.32L431.60,162.38L431.62,162.44L431.65,162.50L431.67,162.56L431.69,162.62L431.72,162.68L431.74,162.74L431.76,162.80L431.78,162.86L431.81,162.92L431.83,162.98L431.85,163.05L431.87,163.11L431.89,163.17L431.91,163.23L431.94,163.29L431.96,163.35L431.98,163.41L432.00,163.47L432.02,163.53L432.04,163.59L432.06,163.65L432.08,163.71L432.10,163.77L432.12,163.83L432.14,163.90L432.16,163.96L432.18,164.02L432.20,164.08L432.22,164.14L432.24,164.20L432.25,164.26L432.27,164.32L432.29,164.38L432.31,164.44L432.33,164.50L432.35,164.56L432.36,164.63L432.38,164.69L432.40,164.75L432.42,164.81L432.43,164.87L432.45,164.93L432.47,164.99L432.48,165.05L432.50,165.11L432.52,165.17L432.53,165.24L432.55,165.30L432.56,165.36L432.58,165.42L432.59,165.48L432.61,165.54L432.62,165.60L432.64,165.66L432.65,165.73L432.67,165.79L432.68,165.85L432.70,165.91L432.71,165.97L432.73,166.03L432.74,166.09L432.76,166.15L432.77,166.22L432.78,166.28L432.80,166.34L432.81,166.40L432.82,166.46L432.84,166.52L432.85,166.58L432.86,166.65L432.87,166.71L432.89,166.77L432.90,166.83L432.91,166.89L432.92,166.95L432.93,167.01L432.95,167.08L432.96,167.14L432.97,167.20L432.98,167.26L432.99,167.32L433.00,167.38L433.01,167.45L433.02,167.51L433.04,167.57L433.05,167.63L433.06,167.69L433.07,167.75L433.08,167.82L433.09,167.88L433.10,167.94L433.11,168.00L433.12,168.06L433.12,168.12L433.13,168.19L433.14,168.25L433.15,168.31L433.16,168.37L433.17,168.43L433.18,168.50L433.19,168.56L433.20,168.62L433.20,168.68L433.21,168.74L433.22,168.81L433.23,168.87L433.24,168.93L433.24,168.99L433.25,169.06L433.26,169.12L433.27,169.18L433.27,169.24L433.28,169.30L433.29,169.37L433.29,169.43L433.30,169.49L433.31,169.55L433.31,169.62L433.32,169.68L433.33,169.74L433.33,169.80L433.34,169.87L433.34,169.93L433.35,169.99L433.35,170.05L433.36,170.12L433.37,170.18L433.37,170.24L433.38,170.30L433.38,170.37L433.39,170.43L433.39,170.49L433.40,170.55L433.40,170.62L433.40,170.68L433.41,170.74L433.41,170.80L433.42,170.87L433.42,170.93L433.42,170.99L433.43,171.06L433.43,171.12L433.44,171.18L433.44,171.24L433.44,171.31L433.45,171.37L433.45,171.43L433.45,171.50L433.46,171.56L433.46,171.62L433.46,171.69L433.46,171.75L433.47,171.81L433.47,171.87L433.47,171.94L433.47,172.00L433.47,172.06L433.48,172.13L433.48,172.19L433.48,172.25L433.48,172.32L433.48,172.38L433.49,172.44L433.49,172.51L433.49,172.57L433.49,172.63L433.49,172.70L433.49,172.76L433.49,172.82L433.49,172.89L433.49,172.95L433.49,173.02L433.49,173.08L433.50,173.14L433.50,173.21L433.50,173.27L433.50,173.33L433.50,173.40L433.50,173.46L433.50,173.53L433.50,173.59L433.50,173.65L433.49,173.72L433.49,173.78L433.49,173.85L433.49,173.91L433.49,173.97L433.49,174.04L433.49,174.10L433.49,174.17L433.49,174.23L433.49,174.29L433.49,174.36L433.48,174.42L433.48,174.49L433.48,174.55L433.48,174.61L433.48,174.68L433.48,174.74L433.47,174.81L433.47,174.87L433.47,174.94L433.47,175.00L433.47,175.07L433.46,175.13L433.46,175.19L433.46,175.26L433.46,175.32L433.45,175.39L433.45,175.45L433.45,175.52L433.45,175.58L433.44,175.65L433.44,175.71L433.44,175.78L433.43,175.84L433.43,175.91L433.43,175.97L433.42,176.04L433.42,176.10L433.42,176.17L433.41,176.23L433.41,176.30L433.41,176.36L433.40,176.43L433.40,176.49L433.39,176.56L433.39,176.62L433.39,176.69L433.38,176.75L433.38,176.82L433.37,176.88L433.37,176.95L433.37,177.01L433.36,177.08L433.36,177.15L433.35,177.21L433.35,177.28L433.34,177.34L433.34,177.41L433.33,177.47L433.33,177.54L433.32,177.60L433.32,177.67L433.31,177.74L433.31,177.80L433.30,177.87L433.30,177.93L433.29,178.00L433.29,178.06L433.28,178.13L433.28,178.20L433.27,178.26L433.26,178.33L433.26,178.40L433.25,178.46L433.25,178.53L433.24,178.59L433.24,178.66L433.23,178.73L433.22,178.79L433.22,178.86L433.21,178.93L433.21,178.99L433.20,179.06L433.19,179.12L433.19,179.19L433.18,179.26L433.17,179.32L433.17,179.39L433.16,179.46L433.16,179.52L433.15,179.59L433.14,179.66L433.14,179.72L433.13,179.79L433.12,179.86L433.11,179.92L433.11,179.99L433.10,180.06L433.09,180.13L433.09,180.19L433.08,180.26L433.07,180.33L433.07,180.39L433.06,180.46L433.05,180.53L433.04,180.60L433.04,180.66L433.03,180.73L433.02,180.80L433.01,180.87L433.01,180.93L433.00,181.00" fill="none" stroke="#fff" stroke-width="14.50" stroke-linejoin="round"/>
<path d="M374.87,129.48 Q373.53,121.16 381.13,117.52M378.84,131.56 Q377.52,123.24 385.13,119.62M382.79,133.65 Q381.50,125.32 389.13,121.74M386.72,135.76 Q385.47,127.42 393.14,123.88M390.63,137.89 Q389.44,129.53 397.13,126.06M394.50,140.04 Q393.38,131.67 401.13,128.28M398.33,142.23 Q397.31,133.84 405.11,130.56M402.11,144.47 Q401.21,136.05 409.08,132.91M405.82,146.75 Q405.09,138.31 413.03,135.34M409.44,149.11 Q408.92,140.63 416.95,137.89M412.95,151.54 Q412.70,143.04 420.84,140.59M416.28,154.06 Q416.42,145.54 424.69,143.50M419.34,156.67 Q420.08,148.18 428.47,146.72M422.00,159.35 Q423.67,151.02 432.14,150.44M423.91,161.99 Q427.17,154.29 435.50,155.07M425.37,164.98 Q430.03,158.28 437.98,160.16M426.29,168.19 Q432.12,162.85 439.54,165.60M426.70,171.70 Q433.26,167.73 440.19,171.01M426.69,175.52 Q433.59,172.62 440.18,176.19M426.36,179.63 Q433.39,177.36 439.78,181.05" fill="none" stroke="#2a2a2a" stroke-width="1.15"/>
<g transform="translate(266,0)"><path d="M322.00,195.00L322.17,195.07L322.35,195.15L322.52,195.22L322.69,195.30L322.86,195.37L323.04,195.45L323.21,195.52L323.38,195.60L323.55,195.67L323.73,195.74L323.90,195.82L324.07,195.89L324.24,195.97L324.42,196.04L324.59,196.11L324.76,196.19L324.93,196.26L325.11,196.33L325.28,196.40L325.45,196.48L325.62,196.55L325.80,196.62L325.97,196.69L326.14,196.77L326.31,196.84L326.49,196.91L326.66,196.98L326.83,197.05L327.00,197.13L327.18,197.20L327.35,197.27L327.52,197.34L327.69,197.41L327.87,197.48L328.04,197.55L328.21,197.62L328.38,197.69L328.56,197.76L328.73,197.84L328.90,197.91L329.07,197.98L329.25,198.05L329.42,198.12L329.59,198.19L329.76,198.25L329.94,198.32L330.11,198.39L330.28,198.46L330.45,198.53L330.63,198.60L330.80,198.67L330.97,198.74L331.14,198.81L331.32,198.87L331.49,198.94L331.66,199.01L331.84,199.08L332.01,199.15L332.18,199.21L332.35,199.28L332.53,199.35L332.70,199.42L332.87,199.48L333.04,199.55L333.22,199.62L333.39,199.68L333.56,199.75L333.73,199.82L333.91,199.88L334.08,199.95L334.25,200.02L334.43,200.08L334.60,200.15L334.77,200.21L334.94,200.28L335.12,200.34L335.29,200.41L335.46,200.47L335.64,200.54L335.81,200.60L335.98,200.67L336.15,200.73L336.33,200.80L336.50,200.86L336.67,200.93L336.84,200.99L337.02,201.05L337.19,201.12L337.36,201.18L337.54,201.24L337.71,201.31L337.88,201.37L338.06,201.43L338.23,201.49L338.40,201.56L338.57,201.62L338.75,201.68L338.92,201.74L339.09,201.81L339.27,201.87L339.44,201.93L339.61,201.99L339.78,202.05L339.96,202.11L340.13,202.17L340.30,202.23L340.48,202.29L340.65,202.36L340.82,202.42L341.00,202.48L341.17,202.54L341.34,202.60L341.52,202.66L341.69,202.71L341.86,202.77L342.03,202.83L342.21,202.89L342.38,202.95L342.55,203.01L342.73,203.07L342.90,203.13L343.07,203.19L343.25,203.24L343.42,203.30L343.59,203.36L343.77,203.42L343.94,203.47L344.11,203.53L344.29,203.59L344.46,203.64L344.63,203.70L344.81,203.76L344.98,203.81L345.15,203.87L345.33,203.93L345.50,203.98L345.67,204.04L345.85,204.09L346.02,204.15L346.19,204.20L346.37,204.26L346.54,204.31L346.71,204.37L346.89,204.42L347.06,204.48L347.23,204.53L347.41,204.59L347.58,204.64L347.75,204.69L347.93,204.75L348.10,204.80L348.27,204.85L348.45,204.91L348.62,204.96L348.80,205.01L348.97,205.06L349.14,205.12L349.32,205.17L349.49,205.22L349.66,205.27L349.84,205.32L350.01,205.37L350.19,205.43L350.36,205.48L350.53,205.53L350.71,205.58L350.88,205.63L351.05,205.68L351.23,205.73L351.40,205.78L351.58,205.83L351.75,205.88L351.92,205.93L352.10,205.98L352.27,206.03L352.45,206.07L352.62,206.12L352.79,206.17L352.97,206.22L353.14,206.27L353.32,206.32L353.49,206.36L353.66,206.41L353.84,206.46L354.01,206.50L354.19,206.55L354.36,206.60L354.53,206.64L354.71,206.69L354.88,206.74L355.06,206.78L355.23,206.83L355.40,206.87L355.58,206.92L355.75,206.96L355.93,207.01L356.10,207.05L356.28,207.10L356.45,207.14L356.62,207.19L356.80,207.23L356.97,207.28L357.15,207.32L357.32,207.36L357.50,207.41L357.67,207.45L357.85,207.49L358.02,207.53L358.20,207.58L358.37,207.62L358.54,207.66L358.72,207.70L358.89,207.74L359.07,207.78L359.24,207.83L359.42,207.87L359.59,207.91L359.77,207.95L359.94,207.99L360.12,208.03L360.29,208.07L360.47,208.11L360.64,208.15L360.82,208.19L360.99,208.23L361.17,208.27L361.34,208.30L361.52,208.34L361.69,208.38L361.87,208.42L362.04,208.46L362.22,208.49L362.39,208.53L362.57,208.57L362.74,208.61L362.92,208.64L363.09,208.68L363.27,208.72L363.44,208.75L363.62,208.79L363.79,208.82L363.97,208.86L364.14,208.89L364.32,208.93L364.49,208.96L364.67,209.00L364.84,209.03L365.02,209.07L365.19,209.10L365.37,209.14L365.54,209.17L365.72,209.20L365.90,209.24L366.07,209.27L366.25,209.30L366.42,209.33L366.60,209.37L366.77,209.40L366.95,209.43L367.12,209.46L367.30,209.49L367.48,209.52L367.65,209.56L367.83,209.59L368.00,209.62L368.18,209.65L368.35,209.68L368.53,209.71L368.71,209.74L368.88,209.77L369.06,209.79L369.23,209.82L369.41,209.85L369.59,209.88L369.76,209.91L369.94,209.94L370.11,209.96L370.29,209.99L370.47,210.02L370.64,210.05L370.82,210.07L371.00,210.10L371.17,210.13L371.35,210.15L371.52,210.18L371.70,210.20L371.88,210.23L372.05,210.25L372.23,210.28L372.41,210.30L372.58,210.33L372.76,210.35L372.94,210.38L373.11,210.40L373.29,210.42L373.47,210.45L373.64,210.47L373.82,210.49L374.00,210.52L374.17,210.54L374.35,210.56L374.53,210.58L374.70,210.60L374.88,210.63L375.06,210.65L375.23,210.67L375.41,210.69L375.59,210.71L375.76,210.73L375.94,210.75L376.12,210.77L376.29,210.79L376.47,210.81L376.65,210.83L376.83,210.85L377.00,210.86L377.18,210.88L377.36,210.90L377.53,210.92L377.71,210.94L377.89,210.95L378.07,210.97L378.24,210.99L378.42,211.00L378.60,211.02L378.78,211.04L378.95,211.05L379.13,211.07L379.31,211.08L379.49,211.10L379.66,211.11L379.84,211.13L380.02,211.14L380.20,211.16L380.37,211.17L380.55,211.18L380.73,211.20L380.91,211.21L381.09,211.22L381.26,211.23L381.44,211.25L381.62,211.26L381.80,211.27L381.98,211.28L382.15,211.29L382.33,211.30L382.51,211.31L382.69,211.32L382.87,211.33L383.04,211.34L383.22,211.35L383.40,211.36L383.58,211.37L383.76,211.38L383.94,211.39L384.11,211.40L384.29,211.41L384.47,211.41L384.65,211.42L384.83,211.43L385.01,211.44L385.19,211.44L385.36,211.45L385.54,211.46L385.72,211.46L385.90,211.47L386.08,211.47L386.26,211.48L386.44,211.48L386.62,211.49L386.80,211.49L386.97,211.50L387.15,211.50L387.33,211.50L387.51,211.51L387.69,211.51L387.87,211.51L388.05,211.52L388.23,211.52L388.41,211.52L388.59,211.52L388.77,211.52L388.95,211.52L389.12,211.52L389.30,211.52L389.48,211.53L389.66,211.53L389.84,211.52L390.02,211.52L390.20,211.52L390.38,211.52L390.56,211.52L390.74,211.52L390.92,211.52L391.10,211.52L391.28,211.51L391.46,211.51L391.64,211.51L391.82,211.50L392.00,211.50L392.19,211.50L392.39,211.49L392.58,211.49L392.78,211.48L392.97,211.48L393.16,211.47L393.35,211.46L393.55,211.46L393.74,211.45L393.93,211.44L394.12,211.43L394.31,211.42L394.50,211.41L394.69,211.41L394.87,211.40L395.06,211.38L395.25,211.37L395.44,211.36L395.62,211.35L395.81,211.34L396.00,211.33L396.18,211.31L396.37,211.30L396.55,211.29L396.73,211.27L396.92,211.26L397.10,211.24L397.28,211.23L397.47,211.21L397.65,211.19L397.83,211.18L398.01,211.16L398.19,211.14L398.37,211.12L398.55,211.10L398.73,211.09L398.91,211.07L399.08,211.05L399.26,211.03L399.44,211.01L399.62,210.98L399.79,210.96L399.97,210.94L400.14,210.92L400.32,210.90L400.49,210.87L400.67,210.85L400.84,210.82L401.01,210.80L401.19,210.77L401.36,210.75L401.53,210.72L401.70,210.70L401.87,210.67L402.04,210.64L402.21,210.62L402.38,210.59L402.55,210.56L402.72,210.53L402.89,210.50L403.05,210.47L403.22,210.44L403.39,210.41L403.55,210.38L403.72,210.35L403.89,210.32L404.05,210.28L404.21,210.25L404.38,210.22L404.54,210.18L404.71,210.15L404.87,210.12L405.03,210.08L405.19,210.04L405.35,210.01L405.51,209.97L405.67,209.94L405.83,209.90L405.99,209.86L406.15,209.82L406.31,209.79L406.47,209.75L406.63,209.71L406.78,209.67L406.94,209.63L407.10,209.59L407.25,209.55L407.41,209.51L407.56,209.46L407.72,209.42L407.87,209.38L408.02,209.34L408.18,209.29L408.33,209.25L408.48,209.20L408.63,209.16L408.78,209.11L408.93,209.07L409.08,209.02L409.23,208.98L409.38,208.93L409.53,208.88L409.68,208.83L409.83,208.79L409.98,208.74L410.12,208.69L410.27,208.64L410.42,208.59L410.56,208.54L410.71,208.49L410.85,208.44L411.00,208.39L411.14,208.33L411.28,208.28L411.43,208.23L411.57,208.18L411.71,208.12L411.85,208.07L411.99,208.01L412.13,207.96L412.27,207.90L412.41,207.85L412.55,207.79L412.69,207.73L412.83,207.68L412.97,207.62L413.10,207.56L413.24,207.50L413.38,207.44L413.51,207.39L413.65,207.33L413.78,207.27L413.92,207.21L414.05,207.14L414.19,207.08L414.32,207.02L414.45,206.96L414.58,206.90L414.72,206.83L414.85,206.77L414.98,206.71L415.11,206.64L415.24,206.58L415.37,206.51L415.50,206.45L415.63,206.38L415.75,206.31L415.88,206.25L416.01,206.18L416.13,206.11L416.26,206.04L416.39,205.98L416.51,205.91L416.64,205.84L416.76,205.77L416.89,205.70L417.01,205.63L417.13,205.56L417.25,205.48L417.38,205.41L417.50,205.34L417.62,205.27L417.74,205.19L417.86,205.12L417.98,205.05L418.10,204.97L418.22,204.90L418.34,204.82L418.45,204.75L418.57,204.67L418.69,204.59L418.80,204.52L418.92,204.44L419.04,204.36L419.15,204.28L419.27,204.20L419.38,204.12L419.49,204.04L419.61,203.96L419.72,203.88L419.83,203.80L419.94,203.72L420.05,203.64L420.17,203.56L420.28,203.48L420.39,203.39L420.49,203.31L420.60,203.23L420.71,203.14L420.82,203.06L420.93,202.97L421.04,202.89L421.14,202.80L421.25,202.71L421.35,202.63L421.46,202.54L421.56,202.45L421.67,202.36L421.77,202.28L421.88,202.19L421.98,202.10L422.08,202.01L422.18,201.92L422.28,201.83L422.38,201.74L422.49,201.65L422.59,201.55L422.68,201.46L422.78,201.37L422.88,201.28L422.98,201.18L423.08,201.09L423.18,200.99L423.27,200.90L423.37,200.80L423.46,200.71L423.56,200.61L423.66,200.52L423.75,200.42L423.84,200.32L423.94,200.22L424.03,200.13L424.12,200.03L424.21,199.93L424.31,199.83L424.40,199.73L424.49,199.63L424.58,199.53L424.67,199.43L424.76,199.33L424.85,199.22L424.93,199.12L425.02,199.02L425.11,198.92L425.20,198.81L425.28,198.71L425.37,198.60L425.45,198.50L425.54,198.39L425.62,198.29L425.71,198.18L425.79,198.08L425.87,197.97L425.96,197.86L426.04,197.75L426.12,197.65L426.20,197.54L426.28,197.43L426.36,197.32L426.44,197.21L426.52,197.10L426.60,196.99L426.68,196.88L426.76,196.76L426.84,196.65L426.91,196.54L426.99,196.43L427.06,196.31L427.14,196.20L427.22,196.09L427.29,195.97L427.36,195.86L427.44,195.74L427.51,195.63L427.58,195.51L427.66,195.39L427.73,195.28L427.80,195.16L427.87,195.04L427.94,194.92L428.01,194.80L428.08,194.68L428.15,194.56L428.22,194.44L428.28,194.32L428.35,194.20L428.42,194.08L428.49,193.96L428.55,193.84L428.62,193.72L428.68,193.59L428.75,193.47L428.81,193.35L428.87,193.22L428.94,193.10L429.00,192.97L429.06,192.85L429.12,192.72L429.19,192.60L429.25,192.47L429.31,192.34L429.37,192.21L429.43,192.09L429.48,191.96L429.54,191.83L429.60,191.70L429.66,191.57L429.72,191.44L429.77,191.31L429.83,191.18L429.88,191.05L429.94,190.92L429.99,190.78L430.05,190.65L430.10,190.52L430.15,190.39L430.21,190.25L430.26,190.12L430.31,189.98L430.36,189.85L430.41,189.71L430.46,189.58L430.51,189.44L430.56,189.30L430.61,189.17L430.66,189.03L430.71,188.89L430.75,188.75L430.80,188.62L430.85,188.48L430.89,188.34L430.94,188.20L430.98,188.06L431.03,187.92L431.07,187.77L431.12,187.63L431.16,187.49L431.20,187.35L431.24,187.20L431.29,187.06L431.33,186.92L431.37,186.77L431.41,186.63L431.45,186.48L431.49,186.34L431.53,186.19L431.56,186.05L431.60,185.90L431.64,185.75L431.68,185.61L431.71,185.46L431.75,185.31L431.78,185.16L431.82,185.01L431.85,184.86L431.89,184.71L431.92,184.56L431.95,184.41L431.99,184.26L432.02,184.11L432.05,183.96L432.08,183.80L432.11,183.65L432.14,183.50L432.17,183.34L432.20,183.19L432.23,183.04L432.26,182.88L432.28,182.73L432.31,182.57L432.34,182.41L432.36,182.26L432.39,182.10L432.41,181.94L432.44,181.78L432.46,181.63L432.49,181.47L432.51,181.31L432.53,181.15L432.56,180.99L432.58,180.83L432.60,180.67L432.62,180.51L432.64,180.35L432.66,180.18L432.68,180.02L432.70,179.86L432.72,179.70L432.74,179.53L432.75,179.37L432.77,179.20L432.79,179.04L432.80,178.87L432.82,178.71L432.83,178.54L432.85,178.37L432.86,178.21L432.87,178.04L432.89,177.87L432.90,177.70L432.91,177.54L432.92,177.37L432.94,177.20L432.95,177.03L432.96,176.86L432.97,176.69L432.98,176.52L432.98,176.34L432.99,176.17L433.00,176.00" fill="none" stroke="#1a1a1a" stroke-width="18.00" stroke-linejoin="round"/>
<path d="M322.00,195.00L322.17,195.07L322.35,195.15L322.52,195.22L322.69,195.30L322.86,195.37L323.04,195.45L323.21,195.52L323.38,195.60L323.55,195.67L323.73,195.74L323.90,195.82L324.07,195.89L324.24,195.97L324.42,196.04L324.59,196.11L324.76,196.19L324.93,196.26L325.11,196.33L325.28,196.40L325.45,196.48L325.62,196.55L325.80,196.62L325.97,196.69L326.14,196.77L326.31,196.84L326.49,196.91L326.66,196.98L326.83,197.05L327.00,197.13L327.18,197.20L327.35,197.27L327.52,197.34L327.69,197.41L327.87,197.48L328.04,197.55L328.21,197.62L328.38,197.69L328.56,197.76L328.73,197.84L328.90,197.91L329.07,197.98L329.25,198.05L329.42,198.12L329.59,198.19L329.76,198.25L329.94,198.32L330.11,198.39L330.28,198.46L330.45,198.53L330.63,198.60L330.80,198.67L330.97,198.74L331.14,198.81L331.32,198.87L331.49,198.94L331.66,199.01L331.84,199.08L332.01,199.15L332.18,199.21L332.35,199.28L332.53,199.35L332.70,199.42L332.87,199.48L333.04,199.55L333.22,199.62L333.39,199.68L333.56,199.75L333.73,199.82L333.91,199.88L334.08,199.95L334.25,200.02L334.43,200.08L334.60,200.15L334.77,200.21L334.94,200.28L335.12,200.34L335.29,200.41L335.46,200.47L335.64,200.54L335.81,200.60L335.98,200.67L336.15,200.73L336.33,200.80L336.50,200.86L336.67,200.93L336.84,200.99L337.02,201.05L337.19,201.12L337.36,201.18L337.54,201.24L337.71,201.31L337.88,201.37L338.06,201.43L338.23,201.49L338.40,201.56L338.57,201.62L338.75,201.68L338.92,201.74L339.09,201.81L339.27,201.87L339.44,201.93L339.61,201.99L339.78,202.05L339.96,202.11L340.13,202.17L340.30,202.23L340.48,202.29L340.65,202.36L340.82,202.42L341.00,202.48L341.17,202.54L341.34,202.60L341.52,202.66L341.69,202.71L341.86,202.77L342.03,202.83L342.21,202.89L342.38,202.95L342.55,203.01L342.73,203.07L342.90,203.13L343.07,203.19L343.25,203.24L343.42,203.30L343.59,203.36L343.77,203.42L343.94,203.47L344.11,203.53L344.29,203.59L344.46,203.64L344.63,203.70L344.81,203.76L344.98,203.81L345.15,203.87L345.33,203.93L345.50,203.98L345.67,204.04L345.85,204.09L346.02,204.15L346.19,204.20L346.37,204.26L346.54,204.31L346.71,204.37L346.89,204.42L347.06,204.48L347.23,204.53L347.41,204.59L347.58,204.64L347.75,204.69L347.93,204.75L348.10,204.80L348.27,204.85L348.45,204.91L348.62,204.96L348.80,205.01L348.97,205.06L349.14,205.12L349.32,205.17L349.49,205.22L349.66,205.27L349.84,205.32L350.01,205.37L350.19,205.43L350.36,205.48L350.53,205.53L350.71,205.58L350.88,205.63L351.05,205.68L351.23,205.73L351.40,205.78L351.58,205.83L351.75,205.88L351.92,205.93L352.10,205.98L352.27,206.03L352.45,206.07L352.62,206.12L352.79,206.17L352.97,206.22L353.14,206.27L353.32,206.32L353.49,206.36L353.66,206.41L353.84,206.46L354.01,206.50L354.19,206.55L354.36,206.60L354.53,206.64L354.71,206.69L354.88,206.74L355.06,206.78L355.23,206.83L355.40,206.87L355.58,206.92L355.75,206.96L355.93,207.01L356.10,207.05L356.28,207.10L356.45,207.14L356.62,207.19L356.80,207.23L356.97,207.28L357.15,207.32L357.32,207.36L357.50,207.41L357.67,207.45L357.85,207.49L358.02,207.53L358.20,207.58L358.37,207.62L358.54,207.66L358.72,207.70L358.89,207.74L359.07,207.78L359.24,207.83L359.42,207.87L359.59,207.91L359.77,207.95L359.94,207.99L360.12,208.03L360.29,208.07L360.47,208.11L360.64,208.15L360.82,208.19L360.99,208.23L361.17,208.27L361.34,208.30L361.52,208.34L361.69,208.38L361.87,208.42L362.04,208.46L362.22,208.49L362.39,208.53L362.57,208.57L362.74,208.61L362.92,208.64L363.09,208.68L363.27,208.72L363.44,208.75L363.62,208.79L363.79,208.82L363.97,208.86L364.14,208.89L364.32,208.93L364.49,208.96L364.67,209.00L364.84,209.03L365.02,209.07L365.19,209.10L365.37,209.14L365.54,209.17L365.72,209.20L365.90,209.24L366.07,209.27L366.25,209.30L366.42,209.33L366.60,209.37L366.77,209.40L366.95,209.43L367.12,209.46L367.30,209.49L367.48,209.52L367.65,209.56L367.83,209.59L368.00,209.62L368.18,209.65L368.35,209.68L368.53,209.71L368.71,209.74L368.88,209.77L369.06,209.79L369.23,209.82L369.41,209.85L369.59,209.88L369.76,209.91L369.94,209.94L370.11,209.96L370.29,209.99L370.47,210.02L370.64,210.05L370.82,210.07L371.00,210.10L371.17,210.13L371.35,210.15L371.52,210.18L371.70,210.20L371.88,210.23L372.05,210.25L372.23,210.28L372.41,210.30L372.58,210.33L372.76,210.35L372.94,210.38L373.11,210.40L373.29,210.42L373.47,210.45L373.64,210.47L373.82,210.49L374.00,210.52L374.17,210.54L374.35,210.56L374.53,210.58L374.70,210.60L374.88,210.63L375.06,210.65L375.23,210.67L375.41,210.69L375.59,210.71L375.76,210.73L375.94,210.75L376.12,210.77L376.29,210.79L376.47,210.81L376.65,210.83L376.83,210.85L377.00,210.86L377.18,210.88L377.36,210.90L377.53,210.92L377.71,210.94L377.89,210.95L378.07,210.97L378.24,210.99L378.42,211.00L378.60,211.02L378.78,211.04L378.95,211.05L379.13,211.07L379.31,211.08L379.49,211.10L379.66,211.11L379.84,211.13L380.02,211.14L380.20,211.16L380.37,211.17L380.55,211.18L380.73,211.20L380.91,211.21L381.09,211.22L381.26,211.23L381.44,211.25L381.62,211.26L381.80,211.27L381.98,211.28L382.15,211.29L382.33,211.30L382.51,211.31L382.69,211.32L382.87,211.33L383.04,211.34L383.22,211.35L383.40,211.36L383.58,211.37L383.76,211.38L383.94,211.39L384.11,211.40L384.29,211.41L384.47,211.41L384.65,211.42L384.83,211.43L385.01,211.44L385.19,211.44L385.36,211.45L385.54,211.46L385.72,211.46L385.90,211.47L386.08,211.47L386.26,211.48L386.44,211.48L386.62,211.49L386.80,211.49L386.97,211.50L387.15,211.50L387.33,211.50L387.51,211.51L387.69,211.51L387.87,211.51L388.05,211.52L388.23,211.52L388.41,211.52L388.59,211.52L388.77,211.52L388.95,211.52L389.12,211.52L389.30,211.52L389.48,211.53L389.66,211.53L389.84,211.52L390.02,211.52L390.20,211.52L390.38,211.52L390.56,211.52L390.74,211.52L390.92,211.52L391.10,211.52L391.28,211.51L391.46,211.51L391.64,211.51L391.82,211.50L392.00,211.50L392.19,211.50L392.39,211.49L392.58,211.49L392.78,211.48L392.97,211.48L393.16,211.47L393.35,211.46L393.55,211.46L393.74,211.45L393.93,211.44L394.12,211.43L394.31,211.42L394.50,211.41L394.69,211.41L394.87,211.40L395.06,211.38L395.25,211.37L395.44,211.36L395.62,211.35L395.81,211.34L396.00,211.33L396.18,211.31L396.37,211.30L396.55,211.29L396.73,211.27L396.92,211.26L397.10,211.24L397.28,211.23L397.47,211.21L397.65,211.19L397.83,211.18L398.01,211.16L398.19,211.14L398.37,211.12L398.55,211.10L398.73,211.09L398.91,211.07L399.08,211.05L399.26,211.03L399.44,211.01L399.62,210.98L399.79,210.96L399.97,210.94L400.14,210.92L400.32,210.90L400.49,210.87L400.67,210.85L400.84,210.82L401.01,210.80L401.19,210.77L401.36,210.75L401.53,210.72L401.70,210.70L401.87,210.67L402.04,210.64L402.21,210.62L402.38,210.59L402.55,210.56L402.72,210.53L402.89,210.50L403.05,210.47L403.22,210.44L403.39,210.41L403.55,210.38L403.72,210.35L403.89,210.32L404.05,210.28L404.21,210.25L404.38,210.22L404.54,210.18L404.71,210.15L404.87,210.12L405.03,210.08L405.19,210.04L405.35,210.01L405.51,209.97L405.67,209.94L405.83,209.90L405.99,209.86L406.15,209.82L406.31,209.79L406.47,209.75L406.63,209.71L406.78,209.67L406.94,209.63L407.10,209.59L407.25,209.55L407.41,209.51L407.56,209.46L407.72,209.42L407.87,209.38L408.02,209.34L408.18,209.29L408.33,209.25L408.48,209.20L408.63,209.16L408.78,209.11L408.93,209.07L409.08,209.02L409.23,208.98L409.38,208.93L409.53,208.88L409.68,208.83L409.83,208.79L409.98,208.74L410.12,208.69L410.27,208.64L410.42,208.59L410.56,208.54L410.71,208.49L410.85,208.44L411.00,208.39L411.14,208.33L411.28,208.28L411.43,208.23L411.57,208.18L411.71,208.12L411.85,208.07L411.99,208.01L412.13,207.96L412.27,207.90L412.41,207.85L412.55,207.79L412.69,207.73L412.83,207.68L412.97,207.62L413.10,207.56L413.24,207.50L413.38,207.44L413.51,207.39L413.65,207.33L413.78,207.27L413.92,207.21L414.05,207.14L414.19,207.08L414.32,207.02L414.45,206.96L414.58,206.90L414.72,206.83L414.85,206.77L414.98,206.71L415.11,206.64L415.24,206.58L415.37,206.51L415.50,206.45L415.63,206.38L415.75,206.31L415.88,206.25L416.01,206.18L416.13,206.11L416.26,206.04L416.39,205.98L416.51,205.91L416.64,205.84L416.76,205.77L416.89,205.70L417.01,205.63L417.13,205.56L417.25,205.48L417.38,205.41L417.50,205.34L417.62,205.27L417.74,205.19L417.86,205.12L417.98,205.05L418.10,204.97L418.22,204.90L418.34,204.82L418.45,204.75L418.57,204.67L418.69,204.59L418.80,204.52L418.92,204.44L419.04,204.36L419.15,204.28L419.27,204.20L419.38,204.12L419.49,204.04L419.61,203.96L419.72,203.88L419.83,203.80L419.94,203.72L420.05,203.64L420.17,203.56L420.28,203.48L420.39,203.39L420.49,203.31L420.60,203.23L420.71,203.14L420.82,203.06L420.93,202.97L421.04,202.89L421.14,202.80L421.25,202.71L421.35,202.63L421.46,202.54L421.56,202.45L421.67,202.36L421.77,202.28L421.88,202.19L421.98,202.10L422.08,202.01L422.18,201.92L422.28,201.83L422.38,201.74L422.49,201.65L422.59,201.55L422.68,201.46L422.78,201.37L422.88,201.28L422.98,201.18L423.08,201.09L423.18,200.99L423.27,200.90L423.37,200.80L423.46,200.71L423.56,200.61L423.66,200.52L423.75,200.42L423.84,200.32L423.94,200.22L424.03,200.13L424.12,200.03L424.21,199.93L424.31,199.83L424.40,199.73L424.49,199.63L424.58,199.53L424.67,199.43L424.76,199.33L424.85,199.22L424.93,199.12L425.02,199.02L425.11,198.92L425.20,198.81L425.28,198.71L425.37,198.60L425.45,198.50L425.54,198.39L425.62,198.29L425.71,198.18L425.79,198.08L425.87,197.97L425.96,197.86L426.04,197.75L426.12,197.65L426.20,197.54L426.28,197.43L426.36,197.32L426.44,197.21L426.52,197.10L426.60,196.99L426.68,196.88L426.76,196.76L426.84,196.65L426.91,196.54L426.99,196.43L427.06,196.31L427.14,196.20L427.22,196.09L427.29,195.97L427.36,195.86L427.44,195.74L427.51,195.63L427.58,195.51L427.66,195.39L427.73,195.28L427.80,195.16L427.87,195.04L427.94,194.92L428.01,194.80L428.08,194.68L428.15,194.56L428.22,194.44L428.28,194.32L428.35,194.20L428.42,194.08L428.49,193.96L428.55,193.84L428.62,193.72L428.68,193.59L428.75,193.47L428.81,193.35L428.87,193.22L428.94,193.10L429.00,192.97L429.06,192.85L429.12,192.72L429.19,192.60L429.25,192.47L429.31,192.34L429.37,192.21L429.43,192.09L429.48,191.96L429.54,191.83L429.60,191.70L429.66,191.57L429.72,191.44L429.77,191.31L429.83,191.18L429.88,191.05L429.94,190.92L429.99,190.78L430.05,190.65L430.10,190.52L430.15,190.39L430.21,190.25L430.26,190.12L430.31,189.98L430.36,189.85L430.41,189.71L430.46,189.58L430.51,189.44L430.56,189.30L430.61,189.17L430.66,189.03L430.71,188.89L430.75,188.75L430.80,188.62L430.85,188.48L430.89,188.34L430.94,188.20L430.98,188.06L431.03,187.92L431.07,187.77L431.12,187.63L431.16,187.49L431.20,187.35L431.24,187.20L431.29,187.06L431.33,186.92L431.37,186.77L431.41,186.63L431.45,186.48L431.49,186.34L431.53,186.19L431.56,186.05L431.60,185.90L431.64,185.75L431.68,185.61L431.71,185.46L431.75,185.31L431.78,185.16L431.82,185.01L431.85,184.86L431.89,184.71L431.92,184.56L431.95,184.41L431.99,184.26L432.02,184.11L432.05,183.96L432.08,183.80L432.11,183.65L432.14,183.50L432.17,183.34L432.20,183.19L432.23,183.04L432.26,182.88L432.28,182.73L432.31,182.57L432.34,182.41L432.36,182.26L432.39,182.10L432.41,181.94L432.44,181.78L432.46,181.63L432.49,181.47L432.51,181.31L432.53,181.15L432.56,180.99L432.58,180.83L432.60,180.67L432.62,180.51L432.64,180.35L432.66,180.18L432.68,180.02L432.70,179.86L432.72,179.70L432.74,179.53L432.75,179.37L432.77,179.20L432.79,179.04L432.80,178.87L432.82,178.71L432.83,178.54L432.85,178.37L432.86,178.21L432.87,178.04L432.89,177.87L432.90,177.70L432.91,177.54L432.92,177.37L432.94,177.20L432.95,177.03L432.96,176.86L432.97,176.69L432.98,176.52L432.98,176.34L432.99,176.17L433.00,176.00" fill="none" stroke="#fff" stroke-width="15.00" stroke-linejoin="round"/>
<path d="M319.21,201.42 Q317.46,193.03 324.79,188.58M323.44,203.22 Q321.60,194.86 328.84,190.31M327.70,204.97 Q325.76,196.65 332.90,191.97M332.01,206.65 Q329.95,198.38 336.98,193.57M336.35,208.26 Q334.17,200.04 341.08,195.08M340.73,209.78 Q338.42,201.62 345.20,196.51M345.17,211.22 Q342.72,203.13 349.33,197.85M349.63,212.55 Q347.05,204.53 353.48,199.09M354.15,213.78 Q351.41,205.85 357.65,200.22M358.71,214.89 Q355.82,207.05 361.83,201.24M363.32,215.87 Q360.27,208.14 366.02,202.13M367.97,216.71 Q364.76,209.09 370.24,202.89M372.65,217.40 Q369.28,209.90 374.46,203.52M377.36,217.93 Q373.83,210.56 378.69,204.00M382.10,218.30 Q378.42,211.07 382.92,204.33M386.86,218.50 Q383.04,211.41 387.16,204.50M391.63,218.51 Q387.67,211.57 391.39,204.51M396.49,218.31 Q392.36,211.58 395.51,204.34M401.41,217.81 Q397.10,211.33 399.55,203.94M406.38,216.95 Q401.89,210.76 403.44,203.26M411.36,215.65 Q406.69,209.77 407.17,202.29M416.27,213.82 Q411.46,208.28 410.68,200.98M421.06,211.36 Q416.11,206.17 413.90,199.33M425.59,208.21 Q420.50,203.32 416.75,197.35M429.63,204.38 Q424.39,199.74 419.24,194.99M433.03,199.98 Q427.58,195.53 421.34,192.28M435.72,195.15 Q429.99,190.87 423.02,189.26M437.67,190.12 Q431.63,186.01 424.32,185.90M438.97,185.02 Q432.62,181.10 425.25,182.28M439.73,179.90 Q433.07,176.19 425.80,178.51" fill="none" stroke="#2a2a2a" stroke-width="1.15"/>
<path d="M433.25,173.65L433.25,173.78L433.25,173.91L433.24,174.04L433.24,174.17L433.23,174.30L433.23,174.44L433.22,174.57L433.21,174.70L433.20,174.83L433.18,174.96L433.17,175.09L433.15,175.22L433.14,175.35L433.12,175.48L433.10,175.61L433.08,175.74L433.06,175.87L433.03,176.00L433.01,176.13L432.98,176.26L432.96,176.39L432.93,176.52L432.90,176.65L432.87,176.78L432.84,176.91L432.80,177.04L432.77,177.17L432.73,177.30L432.69,177.43L432.65,177.56L432.61,177.69L432.57,177.82L432.53,177.95L432.48,178.08L432.44,178.21L432.39,178.33L432.34,178.46L432.29,178.59L432.24,178.72L432.19,178.85L432.14,178.98L432.08,179.10L432.03,179.23L431.97,179.36L431.91,179.49L431.85,179.61L431.79,179.74L431.73,179.87L431.66,179.99L431.60,180.12L431.53,180.25L431.46,180.37L431.39,180.50L431.32,180.62L431.25,180.75L431.18,180.88L431.11,181.00L431.03,181.13L430.95,181.25L430.88,181.38L430.80,181.50L430.72,181.62L430.64,181.75L430.55,181.87L430.47,182.00L430.38,182.12L430.30,182.24L430.21,182.36L430.12,182.49L430.03,182.61L429.94,182.73L429.84,182.85L429.75,182.97L429.65,183.10L429.56,183.22L429.46,183.34L429.36,183.46L429.26,183.58L429.16,183.70L429.06,183.82L428.95,183.94L428.85,184.06L428.74,184.18L428.63,184.29L428.53,184.41L428.42,184.53L428.30,184.65L428.19,184.77L428.08,184.88L427.96,185.00L427.85,185.12L427.73,185.23L427.61,185.35L427.49,185.46L427.37,185.58L427.25,185.69L427.13,185.81L427.00,185.92L426.88,186.04L426.75,186.15L426.62,186.26L426.50,186.38L426.37,186.49L426.24,186.60L426.10,186.71L425.97,186.82L425.84,186.93L425.70,187.05L425.56,187.16L425.43,187.27L425.29,187.38L425.15,187.48L425.01,187.59L424.86,187.70L424.72,187.81L424.58,187.92L424.43,188.03L424.28,188.13L424.14,188.24L423.99,188.34L423.84,188.45L423.69,188.56L423.53,188.66L423.38,188.76L423.23,188.87L423.07,188.97L422.92,189.08L422.76,189.18L422.60,189.28L422.44,189.38L422.28,189.48L422.12,189.59L421.96,189.69L421.79,189.79L421.63,189.89L421.46,189.99L421.30,190.08L421.13,190.18L420.96,190.28L420.79,190.38L420.62,190.48L420.45,190.57L420.28,190.67L420.10,190.76L419.93,190.86L419.76,190.95L419.58,191.05L419.40,191.14L419.22,191.23L419.04,191.33L418.86,191.42L418.68,191.51L418.50,191.60L418.32,191.69L418.14,191.78L417.95,191.87L417.76,191.96L417.58,192.05L417.39,192.14L417.20,192.23L417.01,192.32L416.82,192.40L416.63,192.49L416.44,192.57L416.25,192.66L416.05,192.74L415.86,192.83L415.67,192.91L415.47,193.00L415.27,193.08L415.07,193.16L414.88,193.24L414.68,193.32L414.48,193.40L414.27,193.48L414.07,193.56L413.87,193.64L413.67,193.72L413.46,193.80L413.26,193.88L413.05,193.95L412.85,194.03L412.64,194.10L412.43,194.18L412.22,194.25L412.01,194.33L411.80,194.40L411.59,194.47L411.38,194.55L411.16,194.62L410.95,194.69L410.74,194.76L410.52,194.83L410.31,194.90L410.09,194.97L409.87,195.03L409.66,195.10L409.44,195.17L409.22,195.23L409.00,195.30L408.78,195.37L408.56,195.43L408.34,195.49L408.12,195.56L407.89,195.62L407.67,195.68L407.44,195.74L407.22,195.81L406.99,195.87L406.77,195.93L406.54,195.98L406.31,196.04L406.09,196.10L405.86,196.16L405.63,196.21L405.40,196.27L405.17,196.33L404.94,196.38L404.71,196.44L404.48,196.49L404.24,196.54L404.01,196.59L403.78,196.65L403.54,196.70L403.31,196.75L403.08,196.80L402.84,196.85L402.60,196.89L402.37,196.94L402.13,196.99L401.89,197.04L401.66,197.08L401.42,197.13L401.18,197.17L400.94,197.22L400.70,197.26L400.46,197.30L400.22,197.34L399.98,197.39L399.74,197.43L399.50,197.47L399.25,197.51L399.01,197.54L398.77,197.58L398.52,197.62L398.28,197.66L398.04,197.69L397.79,197.73L397.55,197.76L397.30,197.80L397.06,197.83L396.81,197.86L396.57,197.90L396.32,197.93L396.07,197.96L395.83,197.99L395.58,198.02L395.33,198.05L395.08,198.08L394.83,198.10L394.59,198.13L394.34,198.16L394.09,198.18L393.84,198.21L393.59,198.23L393.34,198.25L393.09,198.28L392.84,198.30L392.59,198.32L392.34,198.34L392.09,198.36L391.84,198.38L391.58,198.40L391.33,198.42L391.08,198.44L390.83,198.45L390.58,198.47L390.32,198.48L390.07,198.50L389.82,198.51L389.57,198.53L389.31,198.54L389.06,198.55L388.81,198.56L388.56,198.57L388.30,198.58L388.05,198.59L387.80,198.60L387.54,198.61L387.29,198.62L387.03,198.62L386.78,198.63L386.53,198.63L386.27,198.64L386.02,198.64L385.77,198.64L385.51,198.65L385.26,198.65L385.00,198.65L384.75,198.65L384.50,198.65L384.24,198.65L383.99,198.65L383.73,198.64L383.48,198.64L383.23,198.64L382.97,198.63L382.72,198.63L382.47,198.62L382.21,198.62L381.96,198.61L381.70,198.60L381.45,198.59L381.20,198.58L380.94,198.57L380.69,198.56L380.44,198.55L380.19,198.54L379.93,198.53L379.68,198.51L379.43,198.50L379.18,198.48L378.92,198.47L378.67,198.45L378.42,198.44L378.17,198.42L377.92,198.40L377.66,198.38L377.41,198.36L377.16,198.34L376.91,198.32L376.66,198.30L376.41,198.28L376.16,198.25L375.91,198.23L375.66,198.21L375.41,198.18L375.16,198.16L374.91,198.13L374.67,198.10L374.42,198.08L374.17,198.05L373.92,198.02L373.67,197.99L373.43,197.96L373.18,197.93L372.93,197.90L372.69,197.86L372.44,197.83L372.20,197.80L371.95,197.76L371.71,197.73L371.46,197.69L371.22,197.66L370.98,197.62L370.73,197.58L370.49,197.54L370.25,197.51L370.00,197.47L369.76,197.43L369.52,197.39L369.28,197.34L369.04,197.30L368.80,197.26L368.56,197.22L368.32,197.17L368.08,197.13L367.84,197.08L367.61,197.04L367.37,196.99L367.13,196.94L366.90,196.89L366.66,196.85L366.42,196.80L366.19,196.75L365.96,196.70L365.72,196.65L365.49,196.59L365.26,196.54L365.02,196.49L364.79,196.44L364.56,196.38L364.33,196.33L364.10,196.27L363.87,196.21L363.64,196.16L363.41,196.10L363.19,196.04L362.96,195.98L362.73,195.93L362.51,195.87L362.28,195.81L362.06,195.74L361.83,195.68L361.61,195.62L361.38,195.56L361.16,195.49L360.94,195.43L360.72,195.37L360.50,195.30L360.28,195.23L360.06,195.17L359.84,195.10L359.63,195.03L359.41,194.97L359.19,194.90L358.98,194.83L358.76,194.76L358.55,194.69L358.34,194.62L358.12,194.55L357.91,194.47L357.70,194.40L357.49,194.33L357.28,194.25L357.07,194.18L356.86,194.10L356.65,194.03L356.45,193.95L356.24,193.88L356.04,193.80L355.83,193.72L355.63,193.64L355.43,193.56L355.23,193.48L355.02,193.40L354.82,193.32L354.62,193.24L354.43,193.16L354.23,193.08L354.03,193.00L353.83,192.91L353.64,192.83L353.45,192.74L353.25,192.66L353.06,192.57L352.87,192.49L352.68,192.40L352.49,192.32L352.30,192.23L352.11,192.14L351.92,192.05L351.74,191.96L351.55,191.87L351.36,191.78L351.18,191.69L351.00,191.60L350.82,191.51L350.64,191.42L350.46,191.33L350.28,191.23L350.10,191.14L349.92,191.05L349.74,190.95L349.57,190.86L349.40,190.76L349.22,190.67L349.05,190.57L348.88,190.48L348.71,190.38L348.54,190.28L348.37,190.18L348.20,190.08L348.04,189.99L347.87,189.89L347.71,189.79L347.54,189.69L347.38,189.59L347.22,189.48L347.06,189.38L346.90,189.28L346.74,189.18L346.58,189.08L346.43,188.97L346.27,188.87L346.12,188.76L345.97,188.66L345.81,188.56L345.66,188.45L345.51,188.34L345.36,188.24L345.22,188.13L345.07,188.03L344.92,187.92L344.78,187.81L344.64,187.70L344.49,187.59L344.35,187.48L344.21,187.38L344.07,187.27L343.94,187.16L343.80,187.05L343.66,186.93L343.53,186.82L343.40,186.71L343.26,186.60L343.13,186.49L343.00,186.38L342.88,186.26L342.75,186.15L342.62,186.04L342.50,185.92L342.37,185.81L342.25,185.69L342.13,185.58L342.01,185.46L341.89,185.35L341.77,185.23L341.65,185.12L341.54,185.00L341.42,184.88L341.31,184.77L341.20,184.65L341.08,184.53L340.97,184.41L340.87,184.29L340.76,184.18L340.65,184.06L340.55,183.94L340.44,183.82L340.34,183.70L340.24,183.58L340.14,183.46L340.04,183.34L339.94,183.22L339.85,183.10L339.75,182.97L339.66,182.85L339.56,182.73L339.47,182.61L339.38,182.49L339.29,182.36L339.20,182.24L339.12,182.12L339.03,182.00L338.95,181.87L338.86,181.75L338.78,181.62L338.70,181.50L338.62,181.38L338.55,181.25L338.47,181.13L338.39,181.00L338.32,180.88L338.25,180.75L338.18,180.62L338.11,180.50L338.04,180.37L337.97,180.25L337.90,180.12L337.84,179.99L337.77,179.87L337.71,179.74L337.65,179.61L337.59,179.49L337.53,179.36L337.47,179.23L337.42,179.10L337.36,178.98L337.31,178.85L337.26,178.72L337.21,178.59L337.16,178.46L337.11,178.33L337.06,178.21L337.02,178.08L336.97,177.95L336.93,177.82L336.89,177.69L336.85,177.56L336.81,177.43L336.77,177.30L336.73,177.17L336.70,177.04L336.66,176.91L336.63,176.78L336.60,176.65L336.57,176.52L336.54,176.39L336.52,176.26L336.49,176.13L336.47,176.00L336.44,175.87L336.42,175.74L336.40,175.61L336.38,175.48L336.36,175.35L336.35,175.22L336.33,175.09L336.32,174.96L336.30,174.83L336.29,174.70L336.28,174.57L336.27,174.44L336.27,174.30L336.26,174.17L336.26,174.04L336.25,173.91L336.25,173.78L336.25,173.65L336.25,173.52L336.25,173.39L336.26,173.26L336.26,173.13L336.27,173.00L336.27,172.86L336.28,172.73L336.29,172.60L336.30,172.47L336.32,172.34L336.33,172.21L336.35,172.08L336.36,171.95L336.38,171.82L336.40,171.69L336.42,171.56L336.44,171.43L336.47,171.30L336.49,171.17L336.52,171.04L336.54,170.91L336.57,170.78L336.60,170.65L336.63,170.52L336.66,170.39L336.70,170.26L336.73,170.13L336.77,170.00L336.81,169.87L336.85,169.74L336.89,169.61L336.93,169.48L336.97,169.35L337.02,169.22L337.06,169.09L337.11,168.97L337.16,168.84L337.21,168.71L337.26,168.58L337.31,168.45L337.36,168.32L337.42,168.20L337.47,168.07L337.53,167.94L337.59,167.81L337.65,167.69L337.71,167.56L337.77,167.43L337.84,167.31L337.90,167.18L337.97,167.05L338.04,166.93L338.11,166.80L338.18,166.68L338.25,166.55L338.32,166.42L338.39,166.30L338.47,166.17L338.55,166.05L338.62,165.92L338.70,165.80L338.78,165.68L338.86,165.55L338.95,165.43L339.03,165.30L339.12,165.18L339.20,165.06L339.29,164.94L339.38,164.81L339.47,164.69L339.56,164.57L339.66,164.45L339.75,164.33L339.85,164.20L339.94,164.08L340.04,163.96L340.14,163.84L340.24,163.72L340.34,163.60L340.44,163.48L340.55,163.36L340.65,163.24L340.76,163.12L340.87,163.01L340.97,162.89L341.08,162.77L341.20,162.65L341.31,162.53L341.42,162.42L341.54,162.30L341.65,162.18L341.77,162.07L341.89,161.95L342.01,161.84L342.13,161.72L342.25,161.61L342.37,161.49L342.50,161.38L342.62,161.26L342.75,161.15L342.88,161.04L343.00,160.92L343.13,160.81L343.26,160.70L343.40,160.59L343.53,160.48L343.66,160.37L343.80,160.25L343.94,160.14L344.07,160.03L344.21,159.92L344.35,159.82L344.49,159.71L344.64,159.60L344.78,159.49L344.92,159.38L345.07,159.27L345.22,159.17L345.36,159.06L345.51,158.96L345.66,158.85L345.81,158.74L345.97,158.64L346.12,158.54L346.27,158.43L346.43,158.33L346.58,158.22L346.74,158.12L346.90,158.02L347.06,157.92L347.22,157.82L347.38,157.71L347.54,157.61L347.71,157.51L347.87,157.41L348.04,157.31L348.20,157.22L348.37,157.12L348.54,157.02L348.71,156.92L348.88,156.82L349.05,156.73L349.22,156.63L349.40,156.54L349.57,156.44L349.74,156.35L349.92,156.25L350.10,156.16L350.28,156.07L350.46,155.97L350.64,155.88L350.82,155.79L351.00,155.70L351.18,155.61L351.36,155.52L351.55,155.43L351.74,155.34L351.92,155.25L352.11,155.16L352.30,155.07L352.49,154.98L352.68,154.90L352.87,154.81L353.06,154.73L353.25,154.64L353.45,154.56L353.64,154.47L353.83,154.39L354.03,154.30L354.23,154.22L354.43,154.14L354.62,154.06L354.82,153.98L355.02,153.90L355.23,153.82L355.43,153.74L355.63,153.66L355.83,153.58L356.04,153.50L356.24,153.42L356.45,153.35L356.65,153.27L356.86,153.20L357.07,153.12L357.28,153.05L357.49,152.97L357.70,152.90L357.91,152.83L358.12,152.75L358.34,152.68L358.55,152.61L358.76,152.54L358.98,152.47L359.19,152.40L359.41,152.33L359.63,152.27L359.84,152.20L360.06,152.13L360.28,152.07L360.50,152.00L360.72,151.93L360.94,151.87L361.16,151.81L361.38,151.74L361.61,151.68L361.83,151.62L362.06,151.56L362.28,151.49L362.51,151.43L362.73,151.37L362.96,151.32L363.19,151.26L363.41,151.20L363.64,151.14L363.87,151.09L364.10,151.03L364.33,150.97L364.56,150.92L364.79,150.86L365.02,150.81L365.26,150.76L365.49,150.71L365.72,150.65L365.96,150.60L366.19,150.55L366.42,150.50L366.66,150.45L366.90,150.41L367.13,150.36L367.37,150.31L367.61,150.26L367.84,150.22L368.08,150.17L368.32,150.13L368.56,150.08L368.80,150.04L369.04,150.00L369.28,149.96L369.52,149.91L369.76,149.87L370.00,149.83L370.25,149.79L370.49,149.76L370.73,149.72L370.98,149.68L371.22,149.64L371.46,149.61L371.71,149.57L371.95,149.54L372.20,149.50L372.44,149.47L372.69,149.44L372.93,149.40L373.18,149.37L373.43,149.34L373.67,149.31L373.92,149.28L374.17,149.25L374.42,149.22L374.67,149.20L374.91,149.17L375.16,149.14L375.41,149.12L375.66,149.09L375.91,149.07L376.16,149.05L376.41,149.02L376.66,149.00L376.91,148.98L377.16,148.96L377.41,148.94L377.66,148.92L377.92,148.90L378.17,148.88L378.42,148.86L378.67,148.85L378.92,148.83L379.18,148.82L379.43,148.80L379.68,148.79L379.93,148.77L380.19,148.76L380.44,148.75L380.69,148.74L380.94,148.73L381.20,148.72L381.45,148.71L381.70,148.70L381.96,148.69L382.21,148.68L382.47,148.68L382.72,148.67L382.97,148.67L383.23,148.66L383.48,148.66L383.73,148.66L383.99,148.65L384.24,148.65L384.50,148.65L384.75,148.65L385.00,148.65L385.26,148.65L385.51,148.65L385.77,148.66L386.02,148.66L386.27,148.66L386.53,148.67L386.78,148.67L387.03,148.68L387.29,148.68L387.54,148.69L387.80,148.70L388.05,148.71L388.30,148.72L388.56,148.73L388.81,148.74L389.06,148.75L389.31,148.76L389.57,148.77L389.82,148.79L390.07,148.80L390.32,148.82L390.58,148.83L390.83,148.85L391.08,148.86L391.33,148.88L391.58,148.90L391.84,148.92L392.09,148.94L392.34,148.96L392.59,148.98L392.84,149.00L393.09,149.02L393.34,149.05L393.59,149.07L393.84,149.09L394.09,149.12L394.34,149.14L394.59,149.17L394.83,149.20L395.08,149.22L395.33,149.25L395.58,149.28L395.83,149.31L396.07,149.34L396.32,149.37L396.57,149.40L396.81,149.44L397.06,149.47L397.30,149.50L397.55,149.54L397.79,149.57L398.04,149.61L398.28,149.64L398.52,149.68L398.77,149.72L399.01,149.76L399.25,149.79L399.50,149.83L399.74,149.87L399.98,149.91L400.22,149.96L400.46,150.00L400.70,150.04L400.94,150.08L401.18,150.13L401.42,150.17L401.66,150.22L401.89,150.26L402.13,150.31L402.37,150.36L402.60,150.41L402.84,150.45L403.08,150.50L403.31,150.55L403.54,150.60L403.78,150.65L404.01,150.71L404.24,150.76L404.48,150.81L404.71,150.86L404.94,150.92L405.17,150.97L405.40,151.03L405.63,151.09L405.86,151.14L406.09,151.20L406.31,151.26L406.54,151.32L406.77,151.37L406.99,151.43L407.22,151.49L407.44,151.56L407.67,151.62L407.89,151.68L408.12,151.74L408.34,151.81L408.56,151.87L408.78,151.93L409.00,152.00L409.22,152.07L409.44,152.13L409.66,152.20L409.87,152.27L410.09,152.33L410.31,152.40L410.52,152.47L410.74,152.54L410.95,152.61L411.16,152.68L411.38,152.75L411.59,152.83L411.80,152.90L412.01,152.97L412.22,153.05L412.43,153.12L412.64,153.20L412.85,153.27L413.05,153.35L413.26,153.42L413.46,153.50L413.67,153.58L413.87,153.66L414.07,153.74L414.27,153.82L414.48,153.90L414.68,153.98L414.88,154.06L415.07,154.14L415.27,154.22L415.47,154.30L415.67,154.39L415.86,154.47L416.05,154.56L416.25,154.64L416.44,154.73L416.63,154.81L416.82,154.90L417.01,154.98L417.20,155.07L417.39,155.16L417.58,155.25L417.76,155.34L417.95,155.43L418.14,155.52L418.32,155.61L418.50,155.70L418.68,155.79L418.86,155.88L419.04,155.97L419.22,156.07L419.40,156.16L419.58,156.25L419.76,156.35L419.93,156.44L420.10,156.54L420.28,156.63L420.45,156.73L420.62,156.82L420.79,156.92L420.96,157.02L421.13,157.12L421.30,157.22L421.46,157.31L421.63,157.41L421.79,157.51L421.96,157.61L422.12,157.71L422.28,157.82L422.44,157.92L422.60,158.02L422.76,158.12L422.92,158.22L423.07,158.33L423.23,158.43L423.38,158.54L423.53,158.64L423.69,158.74L423.84,158.85L423.99,158.96L424.14,159.06L424.28,159.17L424.43,159.27L424.58,159.38L424.72,159.49L424.86,159.60L425.01,159.71L425.15,159.82L425.29,159.92L425.43,160.03L425.56,160.14L425.70,160.25L425.84,160.37L425.97,160.48L426.10,160.59L426.24,160.70L426.37,160.81L426.50,160.92L426.62,161.04L426.75,161.15L426.88,161.26L427.00,161.38L427.13,161.49L427.25,161.61L427.37,161.72L427.49,161.84L427.61,161.95L427.73,162.07L427.85,162.18L427.96,162.30L428.08,162.42L428.19,162.53L428.30,162.65L428.42,162.77L428.53,162.89L428.63,163.01L428.74,163.12L428.85,163.24L428.95,163.36L429.06,163.48L429.16,163.60L429.26,163.72L429.36,163.84L429.46,163.96L429.56,164.08L429.65,164.20L429.75,164.33L429.84,164.45L429.94,164.57L430.03,164.69L430.12,164.81L430.21,164.94L430.30,165.06L430.38,165.18L430.47,165.30L430.55,165.43L430.64,165.55L430.72,165.68L430.80,165.80L430.88,165.92L430.95,166.05L431.03,166.17L431.11,166.30L431.18,166.42L431.25,166.55L431.32,166.68L431.39,166.80L431.46,166.93L431.53,167.05L431.60,167.18L431.66,167.31L431.73,167.43L431.79,167.56L431.85,167.69L431.91,167.81L431.97,167.94L432.03,168.07L432.08,168.20L432.14,168.32L432.19,168.45L432.24,168.58L432.29,168.71L432.34,168.84L432.39,168.97L432.44,169.09L432.48,169.22L432.53,169.35L432.57,169.48L432.61,169.61L432.65,169.74L432.69,169.87L432.73,170.00L432.77,170.13L432.80,170.26L432.84,170.39L432.87,170.52L432.90,170.65L432.93,170.78L432.96,170.91L432.98,171.04L433.01,171.17L433.03,171.30L433.06,171.43L433.08,171.56L433.10,171.69L433.12,171.82L433.14,171.95L433.15,172.08L433.17,172.21L433.18,172.34L433.20,172.47L433.21,172.60L433.22,172.73L433.23,172.86L433.23,173.00L433.24,173.13L433.24,173.26L433.25,173.39L433.25,173.52L433.25,173.65Z" fill="none" stroke="#1a1a1a" stroke-width="18.20" stroke-linejoin="round"/>
<path d="M433.25,173.65L433.25,173.78L433.25,173.91L433.24,174.04L433.24,174.17L433.23,174.30L433.23,174.44L433.22,174.57L433.21,174.70L433.20,174.83L433.18,174.96L433.17,175.09L433.15,175.22L433.14,175.35L433.12,175.48L433.10,175.61L433.08,175.74L433.06,175.87L433.03,176.00L433.01,176.13L432.98,176.26L432.96,176.39L432.93,176.52L432.90,176.65L432.87,176.78L432.84,176.91L432.80,177.04L432.77,177.17L432.73,177.30L432.69,177.43L432.65,177.56L432.61,177.69L432.57,177.82L432.53,177.95L432.48,178.08L432.44,178.21L432.39,178.33L432.34,178.46L432.29,178.59L432.24,178.72L432.19,178.85L432.14,178.98L432.08,179.10L432.03,179.23L431.97,179.36L431.91,179.49L431.85,179.61L431.79,179.74L431.73,179.87L431.66,179.99L431.60,180.12L431.53,180.25L431.46,180.37L431.39,180.50L431.32,180.62L431.25,180.75L431.18,180.88L431.11,181.00L431.03,181.13L430.95,181.25L430.88,181.38L430.80,181.50L430.72,181.62L430.64,181.75L430.55,181.87L430.47,182.00L430.38,182.12L430.30,182.24L430.21,182.36L430.12,182.49L430.03,182.61L429.94,182.73L429.84,182.85L429.75,182.97L429.65,183.10L429.56,183.22L429.46,183.34L429.36,183.46L429.26,183.58L429.16,183.70L429.06,183.82L428.95,183.94L428.85,184.06L428.74,184.18L428.63,184.29L428.53,184.41L428.42,184.53L428.30,184.65L428.19,184.77L428.08,184.88L427.96,185.00L427.85,185.12L427.73,185.23L427.61,185.35L427.49,185.46L427.37,185.58L427.25,185.69L427.13,185.81L427.00,185.92L426.88,186.04L426.75,186.15L426.62,186.26L426.50,186.38L426.37,186.49L426.24,186.60L426.10,186.71L425.97,186.82L425.84,186.93L425.70,187.05L425.56,187.16L425.43,187.27L425.29,187.38L425.15,187.48L425.01,187.59L424.86,187.70L424.72,187.81L424.58,187.92L424.43,188.03L424.28,188.13L424.14,188.24L423.99,188.34L423.84,188.45L423.69,188.56L423.53,188.66L423.38,188.76L423.23,188.87L423.07,188.97L422.92,189.08L422.76,189.18L422.60,189.28L422.44,189.38L422.28,189.48L422.12,189.59L421.96,189.69L421.79,189.79L421.63,189.89L421.46,189.99L421.30,190.08L421.13,190.18L420.96,190.28L420.79,190.38L420.62,190.48L420.45,190.57L420.28,190.67L420.10,190.76L419.93,190.86L419.76,190.95L419.58,191.05L419.40,191.14L419.22,191.23L419.04,191.33L418.86,191.42L418.68,191.51L418.50,191.60L418.32,191.69L418.14,191.78L417.95,191.87L417.76,191.96L417.58,192.05L417.39,192.14L417.20,192.23L417.01,192.32L416.82,192.40L416.63,192.49L416.44,192.57L416.25,192.66L416.05,192.74L415.86,192.83L415.67,192.91L415.47,193.00L415.27,193.08L415.07,193.16L414.88,193.24L414.68,193.32L414.48,193.40L414.27,193.48L414.07,193.56L413.87,193.64L413.67,193.72L413.46,193.80L413.26,193.88L413.05,193.95L412.85,194.03L412.64,194.10L412.43,194.18L412.22,194.25L412.01,194.33L411.80,194.40L411.59,194.47L411.38,194.55L411.16,194.62L410.95,194.69L410.74,194.76L410.52,194.83L410.31,194.90L410.09,194.97L409.87,195.03L409.66,195.10L409.44,195.17L409.22,195.23L409.00,195.30L408.78,195.37L408.56,195.43L408.34,195.49L408.12,195.56L407.89,195.62L407.67,195.68L407.44,195.74L407.22,195.81L406.99,195.87L406.77,195.93L406.54,195.98L406.31,196.04L406.09,196.10L405.86,196.16L405.63,196.21L405.40,196.27L405.17,196.33L404.94,196.38L404.71,196.44L404.48,196.49L404.24,196.54L404.01,196.59L403.78,196.65L403.54,196.70L403.31,196.75L403.08,196.80L402.84,196.85L402.60,196.89L402.37,196.94L402.13,196.99L401.89,197.04L401.66,197.08L401.42,197.13L401.18,197.17L400.94,197.22L400.70,197.26L400.46,197.30L400.22,197.34L399.98,197.39L399.74,197.43L399.50,197.47L399.25,197.51L399.01,197.54L398.77,197.58L398.52,197.62L398.28,197.66L398.04,197.69L397.79,197.73L397.55,197.76L397.30,197.80L397.06,197.83L396.81,197.86L396.57,197.90L396.32,197.93L396.07,197.96L395.83,197.99L395.58,198.02L395.33,198.05L395.08,198.08L394.83,198.10L394.59,198.13L394.34,198.16L394.09,198.18L393.84,198.21L393.59,198.23L393.34,198.25L393.09,198.28L392.84,198.30L392.59,198.32L392.34,198.34L392.09,198.36L391.84,198.38L391.58,198.40L391.33,198.42L391.08,198.44L390.83,198.45L390.58,198.47L390.32,198.48L390.07,198.50L389.82,198.51L389.57,198.53L389.31,198.54L389.06,198.55L388.81,198.56L388.56,198.57L388.30,198.58L388.05,198.59L387.80,198.60L387.54,198.61L387.29,198.62L387.03,198.62L386.78,198.63L386.53,198.63L386.27,198.64L386.02,198.64L385.77,198.64L385.51,198.65L385.26,198.65L385.00,198.65L384.75,198.65L384.50,198.65L384.24,198.65L383.99,198.65L383.73,198.64L383.48,198.64L383.23,198.64L382.97,198.63L382.72,198.63L382.47,198.62L382.21,198.62L381.96,198.61L381.70,198.60L381.45,198.59L381.20,198.58L380.94,198.57L380.69,198.56L380.44,198.55L380.19,198.54L379.93,198.53L379.68,198.51L379.43,198.50L379.18,198.48L378.92,198.47L378.67,198.45L378.42,198.44L378.17,198.42L377.92,198.40L377.66,198.38L377.41,198.36L377.16,198.34L376.91,198.32L376.66,198.30L376.41,198.28L376.16,198.25L375.91,198.23L375.66,198.21L375.41,198.18L375.16,198.16L374.91,198.13L374.67,198.10L374.42,198.08L374.17,198.05L373.92,198.02L373.67,197.99L373.43,197.96L373.18,197.93L372.93,197.90L372.69,197.86L372.44,197.83L372.20,197.80L371.95,197.76L371.71,197.73L371.46,197.69L371.22,197.66L370.98,197.62L370.73,197.58L370.49,197.54L370.25,197.51L370.00,197.47L369.76,197.43L369.52,197.39L369.28,197.34L369.04,197.30L368.80,197.26L368.56,197.22L368.32,197.17L368.08,197.13L367.84,197.08L367.61,197.04L367.37,196.99L367.13,196.94L366.90,196.89L366.66,196.85L366.42,196.80L366.19,196.75L365.96,196.70L365.72,196.65L365.49,196.59L365.26,196.54L365.02,196.49L364.79,196.44L364.56,196.38L364.33,196.33L364.10,196.27L363.87,196.21L363.64,196.16L363.41,196.10L363.19,196.04L362.96,195.98L362.73,195.93L362.51,195.87L362.28,195.81L362.06,195.74L361.83,195.68L361.61,195.62L361.38,195.56L361.16,195.49L360.94,195.43L360.72,195.37L360.50,195.30L360.28,195.23L360.06,195.17L359.84,195.10L359.63,195.03L359.41,194.97L359.19,194.90L358.98,194.83L358.76,194.76L358.55,194.69L358.34,194.62L358.12,194.55L357.91,194.47L357.70,194.40L357.49,194.33L357.28,194.25L357.07,194.18L356.86,194.10L356.65,194.03L356.45,193.95L356.24,193.88L356.04,193.80L355.83,193.72L355.63,193.64L355.43,193.56L355.23,193.48L355.02,193.40L354.82,193.32L354.62,193.24L354.43,193.16L354.23,193.08L354.03,193.00L353.83,192.91L353.64,192.83L353.45,192.74L353.25,192.66L353.06,192.57L352.87,192.49L352.68,192.40L352.49,192.32L352.30,192.23L352.11,192.14L351.92,192.05L351.74,191.96L351.55,191.87L351.36,191.78L351.18,191.69L351.00,191.60L350.82,191.51L350.64,191.42L350.46,191.33L350.28,191.23L350.10,191.14L349.92,191.05L349.74,190.95L349.57,190.86L349.40,190.76L349.22,190.67L349.05,190.57L348.88,190.48L348.71,190.38L348.54,190.28L348.37,190.18L348.20,190.08L348.04,189.99L347.87,189.89L347.71,189.79L347.54,189.69L347.38,189.59L347.22,189.48L347.06,189.38L346.90,189.28L346.74,189.18L346.58,189.08L346.43,188.97L346.27,188.87L346.12,188.76L345.97,188.66L345.81,188.56L345.66,188.45L345.51,188.34L345.36,188.24L345.22,188.13L345.07,188.03L344.92,187.92L344.78,187.81L344.64,187.70L344.49,187.59L344.35,187.48L344.21,187.38L344.07,187.27L343.94,187.16L343.80,187.05L343.66,186.93L343.53,186.82L343.40,186.71L343.26,186.60L343.13,186.49L343.00,186.38L342.88,186.26L342.75,186.15L342.62,186.04L342.50,185.92L342.37,185.81L342.25,185.69L342.13,185.58L342.01,185.46L341.89,185.35L341.77,185.23L341.65,185.12L341.54,185.00L341.42,184.88L341.31,184.77L341.20,184.65L341.08,184.53L340.97,184.41L340.87,184.29L340.76,184.18L340.65,184.06L340.55,183.94L340.44,183.82L340.34,183.70L340.24,183.58L340.14,183.46L340.04,183.34L339.94,183.22L339.85,183.10L339.75,182.97L339.66,182.85L339.56,182.73L339.47,182.61L339.38,182.49L339.29,182.36L339.20,182.24L339.12,182.12L339.03,182.00L338.95,181.87L338.86,181.75L338.78,181.62L338.70,181.50L338.62,181.38L338.55,181.25L338.47,181.13L338.39,181.00L338.32,180.88L338.25,180.75L338.18,180.62L338.11,180.50L338.04,180.37L337.97,180.25L337.90,180.12L337.84,179.99L337.77,179.87L337.71,179.74L337.65,179.61L337.59,179.49L337.53,179.36L337.47,179.23L337.42,179.10L337.36,178.98L337.31,178.85L337.26,178.72L337.21,178.59L337.16,178.46L337.11,178.33L337.06,178.21L337.02,178.08L336.97,177.95L336.93,177.82L336.89,177.69L336.85,177.56L336.81,177.43L336.77,177.30L336.73,177.17L336.70,177.04L336.66,176.91L336.63,176.78L336.60,176.65L336.57,176.52L336.54,176.39L336.52,176.26L336.49,176.13L336.47,176.00L336.44,175.87L336.42,175.74L336.40,175.61L336.38,175.48L336.36,175.35L336.35,175.22L336.33,175.09L336.32,174.96L336.30,174.83L336.29,174.70L336.28,174.57L336.27,174.44L336.27,174.30L336.26,174.17L336.26,174.04L336.25,173.91L336.25,173.78L336.25,173.65L336.25,173.52L336.25,173.39L336.26,173.26L336.26,173.13L336.27,173.00L336.27,172.86L336.28,172.73L336.29,172.60L336.30,172.47L336.32,172.34L336.33,172.21L336.35,172.08L336.36,171.95L336.38,171.82L336.40,171.69L336.42,171.56L336.44,171.43L336.47,171.30L336.49,171.17L336.52,171.04L336.54,170.91L336.57,170.78L336.60,170.65L336.63,170.52L336.66,170.39L336.70,170.26L336.73,170.13L336.77,170.00L336.81,169.87L336.85,169.74L336.89,169.61L336.93,169.48L336.97,169.35L337.02,169.22L337.06,169.09L337.11,168.97L337.16,168.84L337.21,168.71L337.26,168.58L337.31,168.45L337.36,168.32L337.42,168.20L337.47,168.07L337.53,167.94L337.59,167.81L337.65,167.69L337.71,167.56L337.77,167.43L337.84,167.31L337.90,167.18L337.97,167.05L338.04,166.93L338.11,166.80L338.18,166.68L338.25,166.55L338.32,166.42L338.39,166.30L338.47,166.17L338.55,166.05L338.62,165.92L338.70,165.80L338.78,165.68L338.86,165.55L338.95,165.43L339.03,165.30L339.12,165.18L339.20,165.06L339.29,164.94L339.38,164.81L339.47,164.69L339.56,164.57L339.66,164.45L339.75,164.33L339.85,164.20L339.94,164.08L340.04,163.96L340.14,163.84L340.24,163.72L340.34,163.60L340.44,163.48L340.55,163.36L340.65,163.24L340.76,163.12L340.87,163.01L340.97,162.89L341.08,162.77L341.20,162.65L341.31,162.53L341.42,162.42L341.54,162.30L341.65,162.18L341.77,162.07L341.89,161.95L342.01,161.84L342.13,161.72L342.25,161.61L342.37,161.49L342.50,161.38L342.62,161.26L342.75,161.15L342.88,161.04L343.00,160.92L343.13,160.81L343.26,160.70L343.40,160.59L343.53,160.48L343.66,160.37L343.80,160.25L343.94,160.14L344.07,160.03L344.21,159.92L344.35,159.82L344.49,159.71L344.64,159.60L344.78,159.49L344.92,159.38L345.07,159.27L345.22,159.17L345.36,159.06L345.51,158.96L345.66,158.85L345.81,158.74L345.97,158.64L346.12,158.54L346.27,158.43L346.43,158.33L346.58,158.22L346.74,158.12L346.90,158.02L347.06,157.92L347.22,157.82L347.38,157.71L347.54,157.61L347.71,157.51L347.87,157.41L348.04,157.31L348.20,157.22L348.37,157.12L348.54,157.02L348.71,156.92L348.88,156.82L349.05,156.73L349.22,156.63L349.40,156.54L349.57,156.44L349.74,156.35L349.92,156.25L350.10,156.16L350.28,156.07L350.46,155.97L350.64,155.88L350.82,155.79L351.00,155.70L351.18,155.61L351.36,155.52L351.55,155.43L351.74,155.34L351.92,155.25L352.11,155.16L352.30,155.07L352.49,154.98L352.68,154.90L352.87,154.81L353.06,154.73L353.25,154.64L353.45,154.56L353.64,154.47L353.83,154.39L354.03,154.30L354.23,154.22L354.43,154.14L354.62,154.06L354.82,153.98L355.02,153.90L355.23,153.82L355.43,153.74L355.63,153.66L355.83,153.58L356.04,153.50L356.24,153.42L356.45,153.35L356.65,153.27L356.86,153.20L357.07,153.12L357.28,153.05L357.49,152.97L357.70,152.90L357.91,152.83L358.12,152.75L358.34,152.68L358.55,152.61L358.76,152.54L358.98,152.47L359.19,152.40L359.41,152.33L359.63,152.27L359.84,152.20L360.06,152.13L360.28,152.07L360.50,152.00L360.72,151.93L360.94,151.87L361.16,151.81L361.38,151.74L361.61,151.68L361.83,151.62L362.06,151.56L362.28,151.49L362.51,151.43L362.73,151.37L362.96,151.32L363.19,151.26L363.41,151.20L363.64,151.14L363.87,151.09L364.10,151.03L364.33,150.97L364.56,150.92L364.79,150.86L365.02,150.81L365.26,150.76L365.49,150.71L365.72,150.65L365.96,150.60L366.19,150.55L366.42,150.50L366.66,150.45L366.90,150.41L367.13,150.36L367.37,150.31L367.61,150.26L367.84,150.22L368.08,150.17L368.32,150.13L368.56,150.08L368.80,150.04L369.04,150.00L369.28,149.96L369.52,149.91L369.76,149.87L370.00,149.83L370.25,149.79L370.49,149.76L370.73,149.72L370.98,149.68L371.22,149.64L371.46,149.61L371.71,149.57L371.95,149.54L372.20,149.50L372.44,149.47L372.69,149.44L372.93,149.40L373.18,149.37L373.43,149.34L373.67,149.31L373.92,149.28L374.17,149.25L374.42,149.22L374.67,149.20L374.91,149.17L375.16,149.14L375.41,149.12L375.66,149.09L375.91,149.07L376.16,149.05L376.41,149.02L376.66,149.00L376.91,148.98L377.16,148.96L377.41,148.94L377.66,148.92L377.92,148.90L378.17,148.88L378.42,148.86L378.67,148.85L378.92,148.83L379.18,148.82L379.43,148.80L379.68,148.79L379.93,148.77L380.19,148.76L380.44,148.75L380.69,148.74L380.94,148.73L381.20,148.72L381.45,148.71L381.70,148.70L381.96,148.69L382.21,148.68L382.47,148.68L382.72,148.67L382.97,148.67L383.23,148.66L383.48,148.66L383.73,148.66L383.99,148.65L384.24,148.65L384.50,148.65L384.75,148.65L385.00,148.65L385.26,148.65L385.51,148.65L385.77,148.66L386.02,148.66L386.27,148.66L386.53,148.67L386.78,148.67L387.03,148.68L387.29,148.68L387.54,148.69L387.80,148.70L388.05,148.71L388.30,148.72L388.56,148.73L388.81,148.74L389.06,148.75L389.31,148.76L389.57,148.77L389.82,148.79L390.07,148.80L390.32,148.82L390.58,148.83L390.83,148.85L391.08,148.86L391.33,148.88L391.58,148.90L391.84,148.92L392.09,148.94L392.34,148.96L392.59,148.98L392.84,149.00L393.09,149.02L393.34,149.05L393.59,149.07L393.84,149.09L394.09,149.12L394.34,149.14L394.59,149.17L394.83,149.20L395.08,149.22L395.33,149.25L395.58,149.28L395.83,149.31L396.07,149.34L396.32,149.37L396.57,149.40L396.81,149.44L397.06,149.47L397.30,149.50L397.55,149.54L397.79,149.57L398.04,149.61L398.28,149.64L398.52,149.68L398.77,149.72L399.01,149.76L399.25,149.79L399.50,149.83L399.74,149.87L399.98,149.91L400.22,149.96L400.46,150.00L400.70,150.04L400.94,150.08L401.18,150.13L401.42,150.17L401.66,150.22L401.89,150.26L402.13,150.31L402.37,150.36L402.60,150.41L402.84,150.45L403.08,150.50L403.31,150.55L403.54,150.60L403.78,150.65L404.01,150.71L404.24,150.76L404.48,150.81L404.71,150.86L404.94,150.92L405.17,150.97L405.40,151.03L405.63,151.09L405.86,151.14L406.09,151.20L406.31,151.26L406.54,151.32L406.77,151.37L406.99,151.43L407.22,151.49L407.44,151.56L407.67,151.62L407.89,151.68L408.12,151.74L408.34,151.81L408.56,151.87L408.78,151.93L409.00,152.00L409.22,152.07L409.44,152.13L409.66,152.20L409.87,152.27L410.09,152.33L410.31,152.40L410.52,152.47L410.74,152.54L410.95,152.61L411.16,152.68L411.38,152.75L411.59,152.83L411.80,152.90L412.01,152.97L412.22,153.05L412.43,153.12L412.64,153.20L412.85,153.27L413.05,153.35L413.26,153.42L413.46,153.50L413.67,153.58L413.87,153.66L414.07,153.74L414.27,153.82L414.48,153.90L414.68,153.98L414.88,154.06L415.07,154.14L415.27,154.22L415.47,154.30L415.67,154.39L415.86,154.47L416.05,154.56L416.25,154.64L416.44,154.73L416.63,154.81L416.82,154.90L417.01,154.98L417.20,155.07L417.39,155.16L417.58,155.25L417.76,155.34L417.95,155.43L418.14,155.52L418.32,155.61L418.50,155.70L418.68,155.79L418.86,155.88L419.04,155.97L419.22,156.07L419.40,156.16L419.58,156.25L419.76,156.35L419.93,156.44L420.10,156.54L420.28,156.63L420.45,156.73L420.62,156.82L420.79,156.92L420.96,157.02L421.13,157.12L421.30,157.22L421.46,157.31L421.63,157.41L421.79,157.51L421.96,157.61L422.12,157.71L422.28,157.82L422.44,157.92L422.60,158.02L422.76,158.12L422.92,158.22L423.07,158.33L423.23,158.43L423.38,158.54L423.53,158.64L423.69,158.74L423.84,158.85L423.99,158.96L424.14,159.06L424.28,159.17L424.43,159.27L424.58,159.38L424.72,159.49L424.86,159.60L425.01,159.71L425.15,159.82L425.29,159.92L425.43,160.03L425.56,160.14L425.70,160.25L425.84,160.37L425.97,160.48L426.10,160.59L426.24,160.70L426.37,160.81L426.50,160.92L426.62,161.04L426.75,161.15L426.88,161.26L427.00,161.38L427.13,161.49L427.25,161.61L427.37,161.72L427.49,161.84L427.61,161.95L427.73,162.07L427.85,162.18L427.96,162.30L428.08,162.42L428.19,162.53L428.30,162.65L428.42,162.77L428.53,162.89L428.63,163.01L428.74,163.12L428.85,163.24L428.95,163.36L429.06,163.48L429.16,163.60L429.26,163.72L429.36,163.84L429.46,163.96L429.56,164.08L429.65,164.20L429.75,164.33L429.84,164.45L429.94,164.57L430.03,164.69L430.12,164.81L430.21,164.94L430.30,165.06L430.38,165.18L430.47,165.30L430.55,165.43L430.64,165.55L430.72,165.68L430.80,165.80L430.88,165.92L430.95,166.05L431.03,166.17L431.11,166.30L431.18,166.42L431.25,166.55L431.32,166.68L431.39,166.80L431.46,166.93L431.53,167.05L431.60,167.18L431.66,167.31L431.73,167.43L431.79,167.56L431.85,167.69L431.91,167.81L431.97,167.94L432.03,168.07L432.08,168.20L432.14,168.32L432.19,168.45L432.24,168.58L432.29,168.71L432.34,168.84L432.39,168.97L432.44,169.09L432.48,169.22L432.53,169.35L432.57,169.48L432.61,169.61L432.65,169.74L432.69,169.87L432.73,170.00L432.77,170.13L432.80,170.26L432.84,170.39L432.87,170.52L432.90,170.65L432.93,170.78L432.96,170.91L432.98,171.04L433.01,171.17L433.03,171.30L433.06,171.43L433.08,171.56L433.10,171.69L433.12,171.82L433.14,171.95L433.15,172.08L433.17,172.21L433.18,172.34L433.20,172.47L433.21,172.60L433.22,172.73L433.23,172.86L433.23,173.00L433.24,173.13L433.24,173.26L433.25,173.39L433.25,173.52L433.25,173.65Z" fill="none" stroke="#fff" stroke-width="15.20" stroke-linejoin="round"/>
<path d="M426.15,173.61 Q433.27,170.24 440.35,173.69M425.77,175.76 Q433.13,176.19 439.20,180.37M424.59,178.01 Q430.77,181.56 436.27,186.09M422.56,180.35 Q427.20,185.75 432.44,190.56M419.91,182.53 Q423.07,189.00 428.15,194.09M416.79,184.48 Q418.68,191.55 423.65,196.92M413.33,186.19 Q414.17,193.57 419.03,199.19M409.66,187.63 Q409.58,195.17 414.33,201.04M405.80,188.83 Q404.97,196.43 409.60,202.51M401.84,189.80 Q400.31,197.39 404.82,203.68M397.80,190.55 Q395.63,198.08 400.01,204.58M393.70,191.08 Q390.94,198.51 395.19,205.21M389.57,191.42 Q386.26,198.71 390.35,205.59M385.41,191.55 Q381.58,198.67 385.51,205.75M381.24,191.48 Q376.93,198.42 380.68,205.67M377.10,191.21 Q372.30,197.91 375.85,205.36M372.98,190.74 Q367.71,197.17 371.02,204.80M368.93,190.06 Q363.16,196.16 366.20,203.99M364.95,189.16 Q358.69,194.88 361.40,202.92M361.05,188.04 Q354.32,193.31 356.66,201.54M357.30,186.67 Q350.08,191.40 351.95,199.82M353.78,185.05 Q346.06,189.07 347.30,197.69M350.53,183.17 Q342.34,186.30 342.76,195.06M347.70,181.05 Q339.12,183.01 338.40,191.78M345.47,178.76 Q336.73,179.19 334.37,187.62M343.99,176.41 Q335.56,175.07 331.09,182.35M343.39,174.32 Q335.92,171.27 329.27,175.82M343.52,172.26 Q337.18,168.24 329.71,168.95M344.45,170.01 Q338.81,165.58 332.16,162.89M346.20,167.70 Q340.90,162.97 335.81,158.02M348.70,165.43 Q343.57,160.43 339.96,154.24M351.67,163.41 Q346.67,158.12 344.42,151.20M355.05,161.62 Q350.15,156.08 348.99,148.78M358.67,160.10 Q353.88,154.31 353.66,146.81M362.47,158.82 Q357.80,152.81 358.40,145.22M366.40,157.78 Q361.85,151.56 363.16,143.95M370.41,156.97 Q365.99,150.53 367.97,142.98M374.50,156.36 Q370.21,149.73 372.78,142.27M378.63,155.97 Q374.49,149.15 377.61,141.80M382.78,155.77 Q378.80,148.76 382.45,141.58M386.93,155.78 Q383.13,148.58 387.30,141.58M391.08,155.98 Q387.48,148.59 392.14,141.82M395.20,156.39 Q391.82,148.81 396.97,142.30M399.29,157.00 Q396.16,149.23 401.78,143.02M403.30,157.83 Q400.48,149.86 406.58,144.01M407.23,158.88 Q404.76,150.71 411.35,145.29M411.02,160.17 Q409.00,151.80 416.07,146.90M414.63,161.71 Q413.18,153.15 420.74,148.89M417.97,163.50 Q417.28,154.77 425.33,151.36M420.95,165.55 Q421.28,156.76 429.75,154.40M423.39,167.80 Q425.19,159.20 433.91,158.26M425.14,170.16 Q428.88,162.38 437.48,163.14M426.00,172.35 Q432.04,166.74 439.87,169.30" fill="none" stroke="#2a2a2a" stroke-width="1.15"/>
<path d="M378.00,123.50L378.16,123.59L378.33,123.67L378.49,123.76L378.66,123.84L378.82,123.93L378.99,124.02L379.15,124.10L379.32,124.19L379.48,124.28L379.65,124.36L379.81,124.45L379.97,124.53L380.14,124.62L380.30,124.71L380.47,124.79L380.63,124.88L380.79,124.96L380.96,125.05L381.12,125.14L381.28,125.22L381.45,125.31L381.61,125.39L381.77,125.48L381.94,125.56L382.10,125.65L382.26,125.74L382.42,125.82L382.59,125.91L382.75,125.99L382.91,126.08L383.07,126.16L383.24,126.25L383.40,126.34L383.56,126.42L383.72,126.51L383.88,126.59L384.05,126.68L384.21,126.76L384.37,126.85L384.53,126.93L384.69,127.02L384.85,127.11L385.01,127.19L385.17,127.28L385.33,127.36L385.50,127.45L385.66,127.53L385.82,127.62L385.98,127.70L386.14,127.79L386.30,127.87L386.46,127.96L386.62,128.04L386.78,128.13L386.94,128.21L387.09,128.30L387.25,128.38L387.41,128.47L387.57,128.55L387.73,128.64L387.89,128.72L388.05,128.81L388.21,128.89L388.37,128.98L388.52,129.06L388.68,129.15L388.84,129.23L389.00,129.32L389.16,129.40L389.31,129.49L389.47,129.57L389.63,129.66L389.78,129.74L389.94,129.83L390.10,129.91L390.25,130.00L390.41,130.08L390.57,130.17L390.72,130.25L390.88,130.34L391.04,130.42L391.19,130.51L391.35,130.59L391.50,130.67L391.66,130.76L391.81,130.84L391.97,130.93L392.12,131.01L392.28,131.10L392.43,131.18L392.59,131.27L392.74,131.35L392.89,131.43L393.05,131.52L393.20,131.60L393.36,131.69L393.51,131.77L393.66,131.86L393.82,131.94L393.97,132.02L394.12,132.11L394.27,132.19L394.43,132.28L394.58,132.36L394.73,132.44L394.88,132.53L395.03,132.61L395.19,132.70L395.34,132.78L395.49,132.86L395.64,132.95L395.79,133.03L395.94,133.12L396.09,133.20L396.24,133.28L396.39,133.37L396.54,133.45L396.69,133.53L396.84,133.62L396.99,133.70L397.14,133.79L397.29,133.87L397.44,133.95L397.59,134.04L397.73,134.12L397.88,134.20L398.03,134.29L398.18,134.37L398.33,134.45L398.47,134.54L398.62,134.62L398.77,134.70L398.91,134.79L399.06,134.87L399.21,134.95L399.35,135.04L399.50,135.12L399.65,135.20L399.79,135.29L399.94,135.37L400.08,135.45L400.23,135.54L400.37,135.62L400.52,135.70L400.66,135.79L400.80,135.87L400.95,135.95L401.09,136.03L401.24,136.12L401.38,136.20L401.52,136.28L401.66,136.37L401.81,136.45L401.95,136.53L402.09,136.61L402.23,136.70L402.38,136.78L402.52,136.86L402.66,136.95L402.80,137.03L402.94,137.11L403.08,137.19L403.22,137.28L403.36,137.36L403.50,137.44L403.64,137.52L403.78,137.61L403.92,137.69L404.06,137.77L404.20,137.85L404.34,137.94L404.48,138.02L404.61,138.10L404.75,138.18L404.89,138.26L405.03,138.35L405.16,138.43L405.30,138.51L405.44,138.59L405.57,138.68L405.71,138.76L405.85,138.84L405.98,138.92L406.12,139.00L406.25,139.09L406.39,139.17L406.52,139.25L406.66,139.33L406.79,139.41L406.92,139.50L407.06,139.58L407.19,139.66L407.32,139.74L407.46,139.82L407.59,139.90L407.72,139.99L407.86,140.07L407.99,140.15L408.12,140.23L408.25,140.31L408.38,140.39L408.51,140.48L408.64,140.56L408.77,140.64L408.90,140.72L409.03,140.80L409.16,140.88L409.29,140.96L409.42,141.05L409.55,141.13L409.68,141.21L409.81,141.29L409.93,141.37L410.06,141.45L410.19,141.53L410.32,141.61L410.44,141.69L410.57,141.78L410.70,141.86L410.82,141.94L410.95,142.02L411.07,142.10L411.20,142.18L411.32,142.26L411.45,142.34L411.57,142.42L411.69,142.50L411.82,142.59L411.94,142.67L412.07,142.75L412.19,142.83L412.31,142.91L412.43,142.99L412.55,143.07L412.68,143.15L412.80,143.23L412.92,143.31L413.04,143.39L413.16,143.47L413.28,143.55L413.40,143.63L413.52,143.71L413.64,143.79L413.76,143.87L413.88,143.95L413.99,144.03L414.11,144.11L414.23,144.19L414.35,144.27L414.46,144.35L414.58,144.43L414.70,144.51L414.81,144.59L414.93,144.67L415.05,144.75L415.16,144.83L415.28,144.91L415.39,144.99L415.50,145.07L415.62,145.15L415.73,145.23L415.85,145.31L415.96,145.39L416.07,145.47L416.18,145.55L416.30,145.63L416.41,145.71L416.52,145.79L416.63,145.87L416.74,145.95L416.85,146.03L416.96,146.11L417.07,146.19L417.18,146.27L417.29,146.35L417.40,146.43L417.51,146.51L417.61,146.59L417.72,146.66L417.83,146.74L417.94,146.82L418.04,146.90L418.15,146.98L418.26,147.06L418.36,147.14L418.47,147.22L418.57,147.30L418.68,147.38L418.78,147.45L418.89,147.53L418.99,147.61L419.09,147.69L419.20,147.77L419.30,147.85L419.40,147.93L419.50,148.01L419.60,148.08L419.70,148.16L419.81,148.24L419.91,148.32L420.01,148.40L420.11,148.48L420.21,148.56L420.30,148.63L420.40,148.71L420.50,148.79L420.60,148.87L420.70,148.95L420.79,149.03L420.89,149.10L420.99,149.18L421.08,149.26L421.18,149.34L421.28,149.42L421.37,149.49L421.47,149.57L421.56,149.65L421.65,149.73L421.75,149.81L421.84,149.88L421.93,149.96L422.03,150.04L422.12,150.12L422.21,150.20L422.30,150.27L422.39,150.35L422.48,150.43L422.57,150.51L422.66,150.58L422.75,150.66L422.84,150.74L422.93,150.82L423.02,150.89L423.10,150.97L423.19,151.05L423.28,151.13L423.37,151.20L423.45,151.28L423.54,151.36L423.62,151.43L423.71,151.51L423.79,151.59L423.88,151.67L423.96,151.74L424.05,151.82L424.13,151.90L424.21,151.97L424.29,152.05L424.38,152.13L424.46,152.20L424.54,152.28L424.62,152.36L424.70,152.43L424.78,152.51L424.86,152.59L424.94,152.66L425.02,152.74L425.09,152.82L425.17,152.89L425.25,152.97L425.33,153.05L425.40,153.12L425.48,153.20L425.56,153.28L425.63,153.35L425.71,153.43L425.78,153.50L425.85,153.58L425.93,153.66L426.00,153.73L426.07,153.81L426.15,153.89L426.22,153.96L426.29,154.04L426.36,154.11L426.43,154.19L426.50,154.27L426.57,154.34L426.64,154.42L426.71,154.49L426.78,154.57L426.85,154.64L426.92,154.72L426.98,154.80L427.05,154.87L427.12,154.95L427.18,155.02L427.25,155.10L427.31,155.17L427.38,155.25L427.44,155.32L427.51,155.40L427.57,155.47L427.63,155.55L427.69,155.62L427.76,155.70L427.82,155.77L427.88,155.85L427.94,155.92L428.00,156.00L428.04,156.06L428.09,156.12L428.13,156.18L428.18,156.24L428.22,156.30L428.27,156.36L428.31,156.42L428.35,156.48L428.40,156.54L428.44,156.60L428.48,156.66L428.52,156.72L428.57,156.78L428.61,156.84L428.65,156.90L428.69,156.96L428.73,157.02L428.77,157.08L428.81,157.14L428.86,157.20L428.90,157.26L428.94,157.32L428.98,157.38L429.02,157.44L429.06,157.50L429.10,157.56L429.13,157.62L429.17,157.68L429.21,157.74L429.25,157.80L429.29,157.86L429.33,157.92L429.37,157.98L429.40,158.04L429.44,158.10L429.48,158.16L429.51,158.22L429.55,158.28L429.59,158.34L429.63,158.40L429.66,158.46L429.70,158.52L429.73,158.58L429.77,158.64L429.80,158.70L429.84,158.76L429.87,158.82L429.91,158.88L429.94,158.94L429.98,159.00L430.01,159.06L430.05,159.12L430.08,159.18L430.11,159.24L430.15,159.30L430.18,159.36L430.21,159.42L430.25,159.48L430.28,159.54L430.31,159.60L430.34,159.66L430.38,159.72L430.41,159.78L430.44,159.84L430.47,159.90L430.50,159.96L430.53,160.02L430.56,160.08L430.60,160.15L430.63,160.21L430.66,160.27L430.69,160.33L430.72,160.39L430.75,160.45L430.78,160.51L430.80,160.57L430.83,160.63L430.86,160.69L430.89,160.75L430.92,160.81L430.95,160.87L430.98,160.93L431.00,160.99L431.03,161.05L431.06,161.11L431.09,161.17L431.11,161.23L431.14,161.29L431.17,161.35L431.20,161.41L431.22,161.47L431.25,161.53L431.27,161.59L431.30,161.65L431.33,161.71L431.35,161.77L431.38,161.83L431.40,161.89L431.43,161.96L431.45,162.02L431.48,162.08L431.50,162.14L431.53,162.20L431.55,162.26L431.58,162.32L431.60,162.38L431.62,162.44L431.65,162.50L431.67,162.56L431.69,162.62L431.72,162.68L431.74,162.74L431.76,162.80L431.78,162.86L431.81,162.92L431.83,162.98L431.85,163.05L431.87,163.11L431.89,163.17L431.91,163.23L431.94,163.29L431.96,163.35L431.98,163.41L432.00,163.47L432.02,163.53L432.04,163.59L432.06,163.65L432.08,163.71L432.10,163.77L432.12,163.83L432.14,163.90L432.16,163.96L432.18,164.02L432.20,164.08L432.22,164.14L432.24,164.20L432.25,164.26L432.27,164.32L432.29,164.38L432.31,164.44L432.33,164.50L432.35,164.56L432.36,164.63L432.38,164.69L432.40,164.75L432.42,164.81L432.43,164.87L432.45,164.93L432.47,164.99L432.48,165.05L432.50,165.11L432.52,165.17L432.53,165.24L432.55,165.30L432.56,165.36L432.58,165.42L432.59,165.48L432.61,165.54L432.62,165.60L432.64,165.66L432.65,165.73L432.67,165.79L432.68,165.85L432.70,165.91L432.71,165.97L432.73,166.03L432.74,166.09L432.76,166.15L432.77,166.22L432.78,166.28L432.80,166.34L432.81,166.40L432.82,166.46L432.84,166.52L432.85,166.58L432.86,166.65L432.87,166.71L432.89,166.77L432.90,166.83L432.91,166.89L432.92,166.95L432.93,167.01L432.95,167.08L432.96,167.14L432.97,167.20L432.98,167.26L432.99,167.32L433.00,167.38L433.01,167.45L433.02,167.51L433.04,167.57L433.05,167.63L433.06,167.69L433.07,167.75L433.08,167.82L433.09,167.88L433.10,167.94L433.11,168.00L433.12,168.06L433.12,168.12L433.13,168.19L433.14,168.25L433.15,168.31L433.16,168.37L433.17,168.43L433.18,168.50L433.19,168.56L433.20,168.62L433.20,168.68L433.21,168.74L433.22,168.81L433.23,168.87L433.24,168.93L433.24,168.99L433.25,169.06L433.26,169.12L433.27,169.18L433.27,169.24L433.28,169.30L433.29,169.37L433.29,169.43L433.30,169.49L433.31,169.55L433.31,169.62L433.32,169.68L433.33,169.74L433.33,169.80L433.34,169.87L433.34,169.93L433.35,169.99L433.35,170.05L433.36,170.12L433.37,170.18L433.37,170.24L433.38,170.30L433.38,170.37L433.39,170.43L433.39,170.49L433.40,170.55L433.40,170.62L433.40,170.68L433.41,170.74L433.41,170.80L433.42,170.87L433.42,170.93L433.42,170.99L433.43,171.06L433.43,171.12L433.44,171.18L433.44,171.24L433.44,171.31L433.45,171.37L433.45,171.43L433.45,171.50L433.46,171.56L433.46,171.62L433.46,171.69L433.46,171.75L433.47,171.81L433.47,171.87L433.47,171.94L433.47,172.00L433.47,172.06L433.48,172.13L433.48,172.19L433.48,172.25L433.48,172.32L433.48,172.38L433.49,172.44L433.49,172.51L433.49,172.57L433.49,172.63L433.49,172.70L433.49,172.76L433.49,172.82L433.49,172.89L433.49,172.95L433.49,173.02L433.49,173.08L433.50,173.14L433.50,173.21L433.50,173.27L433.50,173.33L433.50,173.40L433.50,173.46L433.50,173.53L433.50,173.59L433.50,173.65L433.49,173.72L433.49,173.78L433.49,173.85L433.49,173.91L433.49,173.97L433.49,174.04L433.49,174.10L433.49,174.17L433.49,174.23L433.49,174.29L433.49,174.36L433.48,174.42L433.48,174.49L433.48,174.55L433.48,174.61L433.48,174.68L433.48,174.74L433.47,174.81L433.47,174.87L433.47,174.94L433.47,175.00L433.47,175.07L433.46,175.13L433.46,175.19L433.46,175.26L433.46,175.32L433.45,175.39L433.45,175.45L433.45,175.52L433.45,175.58L433.44,175.65L433.44,175.71L433.44,175.78L433.43,175.84L433.43,175.91L433.43,175.97L433.42,176.04L433.42,176.10L433.42,176.17L433.41,176.23L433.41,176.30L433.41,176.36L433.40,176.43L433.40,176.49L433.39,176.56L433.39,176.62L433.39,176.69L433.38,176.75L433.38,176.82L433.37,176.88L433.37,176.95L433.37,177.01L433.36,177.08L433.36,177.15L433.35,177.21L433.35,177.28L433.34,177.34L433.34,177.41L433.33,177.47L433.33,177.54L433.32,177.60L433.32,177.67L433.31,177.74L433.31,177.80L433.30,177.87L433.30,177.93L433.29,178.00L433.29,178.06L433.28,178.13L433.28,178.20L433.27,178.26L433.26,178.33L433.26,178.40L433.25,178.46L433.25,178.53L433.24,178.59L433.24,178.66L433.23,178.73L433.22,178.79L433.22,178.86L433.21,178.93L433.21,178.99L433.20,179.06L433.19,179.12L433.19,179.19L433.18,179.26L433.17,179.32L433.17,179.39L433.16,179.46L433.16,179.52L433.15,179.59L433.14,179.66L433.14,179.72L433.13,179.79L433.12,179.86L433.11,179.92L433.11,179.99L433.10,180.06L433.09,180.13L433.09,180.19L433.08,180.26L433.07,180.33L433.07,180.39L433.06,180.46L433.05,180.53L433.04,180.60L433.04,180.66L433.03,180.73L433.02,180.80L433.01,180.87L433.01,180.93L433.00,181.00" fill="none" stroke="#1a1a1a" stroke-width="17.50" stroke-linejoin="round"/>
<path d="M378.00,123.50L378.16,123.59L378.33,123.67L378.49,123.76L378.66,123.84L378.82,123.93L378.99,124.02L379.15,124.10L379.32,124.19L379.48,124.28L379.65,124.36L379.81,124.45L379.97,124.53L380.14,124.62L380.30,124.71L380.47,124.79L380.63,124.88L380.79,124.96L380.96,125.05L381.12,125.14L381.28,125.22L381.45,125.31L381.61,125.39L381.77,125.48L381.94,125.56L382.10,125.65L382.26,125.74L382.42,125.82L382.59,125.91L382.75,125.99L382.91,126.08L383.07,126.16L383.24,126.25L383.40,126.34L383.56,126.42L383.72,126.51L383.88,126.59L384.05,126.68L384.21,126.76L384.37,126.85L384.53,126.93L384.69,127.02L384.85,127.11L385.01,127.19L385.17,127.28L385.33,127.36L385.50,127.45L385.66,127.53L385.82,127.62L385.98,127.70L386.14,127.79L386.30,127.87L386.46,127.96L386.62,128.04L386.78,128.13L386.94,128.21L387.09,128.30L387.25,128.38L387.41,128.47L387.57,128.55L387.73,128.64L387.89,128.72L388.05,128.81L388.21,128.89L388.37,128.98L388.52,129.06L388.68,129.15L388.84,129.23L389.00,129.32L389.16,129.40L389.31,129.49L389.47,129.57L389.63,129.66L389.78,129.74L389.94,129.83L390.10,129.91L390.25,130.00L390.41,130.08L390.57,130.17L390.72,130.25L390.88,130.34L391.04,130.42L391.19,130.51L391.35,130.59L391.50,130.67L391.66,130.76L391.81,130.84L391.97,130.93L392.12,131.01L392.28,131.10L392.43,131.18L392.59,131.27L392.74,131.35L392.89,131.43L393.05,131.52L393.20,131.60L393.36,131.69L393.51,131.77L393.66,131.86L393.82,131.94L393.97,132.02L394.12,132.11L394.27,132.19L394.43,132.28L394.58,132.36L394.73,132.44L394.88,132.53L395.03,132.61L395.19,132.70L395.34,132.78L395.49,132.86L395.64,132.95L395.79,133.03L395.94,133.12L396.09,133.20L396.24,133.28L396.39,133.37L396.54,133.45L396.69,133.53L396.84,133.62L396.99,133.70L397.14,133.79L397.29,133.87L397.44,133.95L397.59,134.04L397.73,134.12L397.88,134.20L398.03,134.29L398.18,134.37L398.33,134.45L398.47,134.54L398.62,134.62L398.77,134.70L398.91,134.79L399.06,134.87L399.21,134.95L399.35,135.04L399.50,135.12L399.65,135.20L399.79,135.29L399.94,135.37L400.08,135.45L400.23,135.54L400.37,135.62L400.52,135.70L400.66,135.79L400.80,135.87L400.95,135.95L401.09,136.03L401.24,136.12L401.38,136.20L401.52,136.28L401.66,136.37L401.81,136.45L401.95,136.53L402.09,136.61L402.23,136.70L402.38,136.78L402.52,136.86L402.66,136.95L402.80,137.03L402.94,137.11L403.08,137.19L403.22,137.28L403.36,137.36L403.50,137.44L403.64,137.52L403.78,137.61L403.92,137.69L404.06,137.77L404.20,137.85L404.34,137.94L404.48,138.02L404.61,138.10L404.75,138.18L404.89,138.26L405.03,138.35L405.16,138.43L405.30,138.51L405.44,138.59L405.57,138.68L405.71,138.76L405.85,138.84L405.98,138.92L406.12,139.00L406.25,139.09L406.39,139.17L406.52,139.25L406.66,139.33L406.79,139.41L406.92,139.50L407.06,139.58L407.19,139.66L407.32,139.74L407.46,139.82L407.59,139.90L407.72,139.99L407.86,140.07L407.99,140.15L408.12,140.23L408.25,140.31L408.38,140.39L408.51,140.48L408.64,140.56L408.77,140.64L408.90,140.72L409.03,140.80L409.16,140.88L409.29,140.96L409.42,141.05L409.55,141.13L409.68,141.21L409.81,141.29L409.93,141.37L410.06,141.45L410.19,141.53L410.32,141.61L410.44,141.69L410.57,141.78L410.70,141.86L410.82,141.94L410.95,142.02L411.07,142.10L411.20,142.18L411.32,142.26L411.45,142.34L411.57,142.42L411.69,142.50L411.82,142.59L411.94,142.67L412.07,142.75L412.19,142.83L412.31,142.91L412.43,142.99L412.55,143.07L412.68,143.15L412.80,143.23L412.92,143.31L413.04,143.39L413.16,143.47L413.28,143.55L413.40,143.63L413.52,143.71L413.64,143.79L413.76,143.87L413.88,143.95L413.99,144.03L414.11,144.11L414.23,144.19L414.35,144.27L414.46,144.35L414.58,144.43L414.70,144.51L414.81,144.59L414.93,144.67L415.05,144.75L415.16,144.83L415.28,144.91L415.39,144.99L415.50,145.07L415.62,145.15L415.73,145.23L415.85,145.31L415.96,145.39L416.07,145.47L416.18,145.55L416.30,145.63L416.41,145.71L416.52,145.79L416.63,145.87L416.74,145.95L416.85,146.03L416.96,146.11L417.07,146.19L417.18,146.27L417.29,146.35L417.40,146.43L417.51,146.51L417.61,146.59L417.72,146.66L417.83,146.74L417.94,146.82L418.04,146.90L418.15,146.98L418.26,147.06L418.36,147.14L418.47,147.22L418.57,147.30L418.68,147.38L418.78,147.45L418.89,147.53L418.99,147.61L419.09,147.69L419.20,147.77L419.30,147.85L419.40,147.93L419.50,148.01L419.60,148.08L419.70,148.16L419.81,148.24L419.91,148.32L420.01,148.40L420.11,148.48L420.21,148.56L420.30,148.63L420.40,148.71L420.50,148.79L420.60,148.87L420.70,148.95L420.79,149.03L420.89,149.10L420.99,149.18L421.08,149.26L421.18,149.34L421.28,149.42L421.37,149.49L421.47,149.57L421.56,149.65L421.65,149.73L421.75,149.81L421.84,149.88L421.93,149.96L422.03,150.04L422.12,150.12L422.21,150.20L422.30,150.27L422.39,150.35L422.48,150.43L422.57,150.51L422.66,150.58L422.75,150.66L422.84,150.74L422.93,150.82L423.02,150.89L423.10,150.97L423.19,151.05L423.28,151.13L423.37,151.20L423.45,151.28L423.54,151.36L423.62,151.43L423.71,151.51L423.79,151.59L423.88,151.67L423.96,151.74L424.05,151.82L424.13,151.90L424.21,151.97L424.29,152.05L424.38,152.13L424.46,152.20L424.54,152.28L424.62,152.36L424.70,152.43L424.78,152.51L424.86,152.59L424.94,152.66L425.02,152.74L425.09,152.82L425.17,152.89L425.25,152.97L425.33,153.05L425.40,153.12L425.48,153.20L425.56,153.28L425.63,153.35L425.71,153.43L425.78,153.50L425.85,153.58L425.93,153.66L426.00,153.73L426.07,153.81L426.15,153.89L426.22,153.96L426.29,154.04L426.36,154.11L426.43,154.19L426.50,154.27L426.57,154.34L426.64,154.42L426.71,154.49L426.78,154.57L426.85,154.64L426.92,154.72L426.98,154.80L427.05,154.87L427.12,154.95L427.18,155.02L427.25,155.10L427.31,155.17L427.38,155.25L427.44,155.32L427.51,155.40L427.57,155.47L427.63,155.55L427.69,155.62L427.76,155.70L427.82,155.77L427.88,155.85L427.94,155.92L428.00,156.00L428.04,156.06L428.09,156.12L428.13,156.18L428.18,156.24L428.22,156.30L428.27,156.36L428.31,156.42L428.35,156.48L428.40,156.54L428.44,156.60L428.48,156.66L428.52,156.72L428.57,156.78L428.61,156.84L428.65,156.90L428.69,156.96L428.73,157.02L428.77,157.08L428.81,157.14L428.86,157.20L428.90,157.26L428.94,157.32L428.98,157.38L429.02,157.44L429.06,157.50L429.10,157.56L429.13,157.62L429.17,157.68L429.21,157.74L429.25,157.80L429.29,157.86L429.33,157.92L429.37,157.98L429.40,158.04L429.44,158.10L429.48,158.16L429.51,158.22L429.55,158.28L429.59,158.34L429.63,158.40L429.66,158.46L429.70,158.52L429.73,158.58L429.77,158.64L429.80,158.70L429.84,158.76L429.87,158.82L429.91,158.88L429.94,158.94L429.98,159.00L430.01,159.06L430.05,159.12L430.08,159.18L430.11,159.24L430.15,159.30L430.18,159.36L430.21,159.42L430.25,159.48L430.28,159.54L430.31,159.60L430.34,159.66L430.38,159.72L430.41,159.78L430.44,159.84L430.47,159.90L430.50,159.96L430.53,160.02L430.56,160.08L430.60,160.15L430.63,160.21L430.66,160.27L430.69,160.33L430.72,160.39L430.75,160.45L430.78,160.51L430.80,160.57L430.83,160.63L430.86,160.69L430.89,160.75L430.92,160.81L430.95,160.87L430.98,160.93L431.00,160.99L431.03,161.05L431.06,161.11L431.09,161.17L431.11,161.23L431.14,161.29L431.17,161.35L431.20,161.41L431.22,161.47L431.25,161.53L431.27,161.59L431.30,161.65L431.33,161.71L431.35,161.77L431.38,161.83L431.40,161.89L431.43,161.96L431.45,162.02L431.48,162.08L431.50,162.14L431.53,162.20L431.55,162.26L431.58,162.32L431.60,162.38L431.62,162.44L431.65,162.50L431.67,162.56L431.69,162.62L431.72,162.68L431.74,162.74L431.76,162.80L431.78,162.86L431.81,162.92L431.83,162.98L431.85,163.05L431.87,163.11L431.89,163.17L431.91,163.23L431.94,163.29L431.96,163.35L431.98,163.41L432.00,163.47L432.02,163.53L432.04,163.59L432.06,163.65L432.08,163.71L432.10,163.77L432.12,163.83L432.14,163.90L432.16,163.96L432.18,164.02L432.20,164.08L432.22,164.14L432.24,164.20L432.25,164.26L432.27,164.32L432.29,164.38L432.31,164.44L432.33,164.50L432.35,164.56L432.36,164.63L432.38,164.69L432.40,164.75L432.42,164.81L432.43,164.87L432.45,164.93L432.47,164.99L432.48,165.05L432.50,165.11L432.52,165.17L432.53,165.24L432.55,165.30L432.56,165.36L432.58,165.42L432.59,165.48L432.61,165.54L432.62,165.60L432.64,165.66L432.65,165.73L432.67,165.79L432.68,165.85L432.70,165.91L432.71,165.97L432.73,166.03L432.74,166.09L432.76,166.15L432.77,166.22L432.78,166.28L432.80,166.34L432.81,166.40L432.82,166.46L432.84,166.52L432.85,166.58L432.86,166.65L432.87,166.71L432.89,166.77L432.90,166.83L432.91,166.89L432.92,166.95L432.93,167.01L432.95,167.08L432.96,167.14L432.97,167.20L432.98,167.26L432.99,167.32L433.00,167.38L433.01,167.45L433.02,167.51L433.04,167.57L433.05,167.63L433.06,167.69L433.07,167.75L433.08,167.82L433.09,167.88L433.10,167.94L433.11,168.00L433.12,168.06L433.12,168.12L433.13,168.19L433.14,168.25L433.15,168.31L433.16,168.37L433.17,168.43L433.18,168.50L433.19,168.56L433.20,168.62L433.20,168.68L433.21,168.74L433.22,168.81L433.23,168.87L433.24,168.93L433.24,168.99L433.25,169.06L433.26,169.12L433.27,169.18L433.27,169.24L433.28,169.30L433.29,169.37L433.29,169.43L433.30,169.49L433.31,169.55L433.31,169.62L433.32,169.68L433.33,169.74L433.33,169.80L433.34,169.87L433.34,169.93L433.35,169.99L433.35,170.05L433.36,170.12L433.37,170.18L433.37,170.24L433.38,170.30L433.38,170.37L433.39,170.43L433.39,170.49L433.40,170.55L433.40,170.62L433.40,170.68L433.41,170.74L433.41,170.80L433.42,170.87L433.42,170.93L433.42,170.99L433.43,171.06L433.43,171.12L433.44,171.18L433.44,171.24L433.44,171.31L433.45,171.37L433.45,171.43L433.45,171.50L433.46,171.56L433.46,171.62L433.46,171.69L433.46,171.75L433.47,171.81L433.47,171.87L433.47,171.94L433.47,172.00L433.47,172.06L433.48,172.13L433.48,172.19L433.48,172.25L433.48,172.32L433.48,172.38L433.49,172.44L433.49,172.51L433.49,172.57L433.49,172.63L433.49,172.70L433.49,172.76L433.49,172.82L433.49,172.89L433.49,172.95L433.49,173.02L433.49,173.08L433.50,173.14L433.50,173.21L433.50,173.27L433.50,173.33L433.50,173.40L433.50,173.46L433.50,173.53L433.50,173.59L433.50,173.65L433.49,173.72L433.49,173.78L433.49,173.85L433.49,173.91L433.49,173.97L433.49,174.04L433.49,174.10L433.49,174.17L433.49,174.23L433.49,174.29L433.49,174.36L433.48,174.42L433.48,174.49L433.48,174.55L433.48,174.61L433.48,174.68L433.48,174.74L433.47,174.81L433.47,174.87L433.47,174.94L433.47,175.00L433.47,175.07L433.46,175.13L433.46,175.19L433.46,175.26L433.46,175.32L433.45,175.39L433.45,175.45L433.45,175.52L433.45,175.58L433.44,175.65L433.44,175.71L433.44,175.78L433.43,175.84L433.43,175.91L433.43,175.97L433.42,176.04L433.42,176.10L433.42,176.17L433.41,176.23L433.41,176.30L433.41,176.36L433.40,176.43L433.40,176.49L433.39,176.56L433.39,176.62L433.39,176.69L433.38,176.75L433.38,176.82L433.37,176.88L433.37,176.95L433.37,177.01L433.36,177.08L433.36,177.15L433.35,177.21L433.35,177.28L433.34,177.34L433.34,177.41L433.33,177.47L433.33,177.54L433.32,177.60L433.32,177.67L433.31,177.74L433.31,177.80L433.30,177.87L433.30,177.93L433.29,178.00L433.29,178.06L433.28,178.13L433.28,178.20L433.27,178.26L433.26,178.33L433.26,178.40L433.25,178.46L433.25,178.53L433.24,178.59L433.24,178.66L433.23,178.73L433.22,178.79L433.22,178.86L433.21,178.93L433.21,178.99L433.20,179.06L433.19,179.12L433.19,179.19L433.18,179.26L433.17,179.32L433.17,179.39L433.16,179.46L433.16,179.52L433.15,179.59L433.14,179.66L433.14,179.72L433.13,179.79L433.12,179.86L433.11,179.92L433.11,179.99L433.10,180.06L433.09,180.13L433.09,180.19L433.08,180.26L433.07,180.33L433.07,180.39L433.06,180.46L433.05,180.53L433.04,180.60L433.04,180.66L433.03,180.73L433.02,180.80L433.01,180.87L433.01,180.93L433.00,181.00" fill="none" stroke="#fff" stroke-width="14.50" stroke-linejoin="round"/>
<path d="M374.87,129.48 Q373.53,121.16 381.13,117.52M378.84,131.56 Q377.52,123.24 385.13,119.62M382.79,133.65 Q381.50,125.32 389.13,121.74M386.72,135.76 Q385.47,127.42 393.14,123.88M390.63,137.89 Q389.44,129.53 397.13,126.06M394.50,140.04 Q393.38,131.67 401.13,128.28M398.33,142.23 Q397.31,133.84 405.11,130.56M402.11,144.47 Q401.21,136.05 409.08,132.91M405.82,146.75 Q405.09,138.31 413.03,135.34M409.44,149.11 Q408.92,140.63 416.95,137.89M412.95,151.54 Q412.70,143.04 420.84,140.59M416.28,154.06 Q416.42,145.54 424.69,143.50M419.34,156.67 Q420.08,148.18 428.47,146.72M422.00,159.35 Q423.67,151.02 432.14,150.44M423.91,161.99 Q427.17,154.29 435.50,155.07M425.37,164.98 Q430.03,158.28 437.98,160.16M426.29,168.19 Q432.12,162.85 439.54,165.60M426.70,171.70 Q433.26,167.73 440.19,171.01M426.69,175.52 Q433.59,172.62 440.18,176.19M426.36,179.63 Q433.39,177.36 439.78,181.05" fill="none" stroke="#2a2a2a" stroke-width="1.15"/></g>
<path d="M359.5,97.3 Q364,97 366.8,99.6 L367.2,103.8 L382.8,111.8 L384.8,113.4 L386,117 L376.5,133.6 L375.2,132.8 L356.5,128.2 L354.5,126.8 C348,124.5 343.8,119 345,112 C346.5,104 352,97.8 359.5,97.3 Z" fill="#fff" stroke="#1a1a1a" stroke-width="1.3" stroke-linejoin="round"/>
<path d="M359.5,99.6 C354,100.5 348.8,106 348,113 C347.4,119.5 350.5,123.5 355.5,125" fill="none" stroke="#222" stroke-width="0.9"/>
<path d="M362.5,99.3 C356.5,104 353.6,110 354,116 C354.4,121 355.4,124 357,127.2 M368.5,103.5 C364,108 362.5,114 363.3,118.5 C364,124 366.5,129 370,131.8 M375,107.5 C372,112 371.5,118 372.5,123 C373.5,127 374.5,130 375.5,133" fill="none" stroke="#777" stroke-width="0.7"/>
<path d="M369.5,105.5 L382,113.3 M372,131 L376,132.6" fill="none" stroke="#999" stroke-width="0.6"/>
<path d="M383.8,113.5 C380.5,118 379.5,124 380.2,133.2" fill="none" stroke="#444" stroke-width="0.8"/>
<g transform="translate(266,0)"><path d="M359.5,97.3 Q364,97 366.8,99.6 L367.2,103.8 L382.8,111.8 L384.8,113.4 L386,117 L376.5,133.6 L375.2,132.8 L356.5,128.2 L354.5,126.8 C348,124.5 343.8,119 345,112 C346.5,104 352,97.8 359.5,97.3 Z" fill="#fff" stroke="#1a1a1a" stroke-width="1.3" stroke-linejoin="round"/>
<path d="M359.5,99.6 C354,100.5 348.8,106 348,113 C347.4,119.5 350.5,123.5 355.5,125" fill="none" stroke="#222" stroke-width="0.9"/>
<path d="M362.5,99.3 C356.5,104 353.6,110 354,116 C354.4,121 355.4,124 357,127.2 M368.5,103.5 C364,108 362.5,114 363.3,118.5 C364,124 366.5,129 370,131.8 M375,107.5 C372,112 371.5,118 372.5,123 C373.5,127 374.5,130 375.5,133" fill="none" stroke="#777" stroke-width="0.7"/>
<path d="M369.5,105.5 L382,113.3 M372,131 L376,132.6" fill="none" stroke="#999" stroke-width="0.6"/>
<path d="M383.8,113.5 C380.5,118 379.5,124 380.2,133.2" fill="none" stroke="#444" stroke-width="0.8"/></g>
<g transform="translate(290.6,183.9) rotate(17)">
<path d="M0,-9.4 L19.5,-9.4 L21,-10.2 L31,-10.2 L34,-8.5 L34,8.5 L31,10.2 L21,10.2 L19.5,9.4 L0,9.4 Z" fill="#fff" stroke="#1a1a1a" stroke-width="1.1"/>
<path d="M0,-9.4 Q-7,0 0,9.4" fill="#fff" stroke="#1a1a1a" stroke-width="1.2"/>
<path d="M19.5,-9.4 Q16.5,0 19.5,9.4" fill="none" stroke="#555" stroke-width="0.7"/>
<path d="M27,-10.2 Q24,0 27,10.2 M30,-10.2 Q27,0 30,10.2" fill="none" stroke="#555" stroke-width="0.7"/>
</g>
<g transform="translate(550.5,182.5) rotate(17)">
<path d="M0,-7.5 L9.5,-8 L11,-10.2 L38,-10.2 L40,-9 L40,9 L38,10.2 L11,10.2 L9.5,8 L0,7.5 Z" fill="#fff" stroke="#1a1a1a" stroke-width="1.1" stroke-linejoin="round"/>
<path d="M0,-7.5 Q-5,0 0,7.5" fill="#fff" stroke="#1a1a1a" stroke-width="1.3"/>
<path d="M2.2,-7.5 Q-1.8,0 2.2,7.5" fill="none" stroke="#777" stroke-width="0.7"/>
<path d="M11,-10.2 Q7,0 11,10.2 M23,-10.2 Q19,0 23,10.2" fill="none" stroke="#1a1a1a" stroke-width="0.9"/>
<path d="M33,-10.2 Q29,0 33,10.2 M37,-10.2 Q33,0 37,10.2" fill="none" stroke="#666" stroke-width="0.7"/>
</g>
<g transform="translate(0,0)" stroke="#1a1a1a" fill="none" stroke-width="0.9">
<path d="M340.8,89.3 L357,97.8"/>
<path d="M330.4,110.4 L345,118"/>
<path d="M350.4,81.3 L346.2,90.5"/><path d="M328,121.6 L332.6,112.2"/>
<path d="M346.2,90.5 l-1.3,-3.6 l3.4,1.4 z M332.6,112.2 l1.3,3.6 l-3.4,-1.4 z" fill="#1a1a1a"/>
<path d="M273.8,167.5 L291,174.6"/>
<path d="M268.2,186.4 L288,192.6"/>
<path d="M281,158.4 L277.6,167.8"/><path d="M268.2,197.6 L272.2,188.2"/>
<path d="M277.6,167.8 l-1.2,-3.5 l3.3,1.3 z M272.2,188.2 l1.2,3.5 l-3.3,-1.3 z" fill="#1a1a1a"/>
<path d="M291.4,137 L303.2,137 M303.2,131.6 L303.2,149.6 M303.2,131.6 L317.8,131.6 M303.2,141.8 L337,141.8 L343.5,147" stroke-width="1.2"/>
<path d="M303,162 L303,176" stroke="#666" stroke-width="0.7"/>
<path d="M346.4,131.2 L354.4,131.2 L355.2,128.2" stroke="#9a9cb0" stroke-width="0.8"/>
</g>
<g transform="translate(266,0)" stroke="#1a1a1a" fill="none" stroke-width="0.9">
<path d="M340.8,89.3 L357,97.8"/>
<path d="M330.4,110.4 L345,118"/>
<path d="M350.4,81.3 L346.2,90.5"/><path d="M328,121.6 L332.6,112.2"/>
<path d="M346.2,90.5 l-1.3,-3.6 l3.4,1.4 z M332.6,112.2 l1.3,3.6 l-3.4,-1.4 z" fill="#1a1a1a"/>
<path d="M272.9,166.9 L290,173.8"/>
<path d="M267.7,185.2 L284,190"/>
<path d="M280.9,157.3 L277.5,166.3"/><path d="M267.7,196.9 L270.8,187.5"/>
<path d="M277.5,166.3 l-1.2,-3.5 l3.3,1.3 z M270.8,187.5 l1.2,3.5 l-3.3,-1.3 z" fill="#1a1a1a"/>
<path d="M291.4,134.5 L303.2,134.5 M303.2,130.4 L303.2,149.6 M303.2,130.4 L317.8,130.4 M303.2,141.8 L337,141.8 L343.5,147" stroke-width="1.2"/>
<path d="M303,162 L303,176" stroke="#666" stroke-width="0.7"/>
<path d="M346.4,131.2 L354.4,131.2 L355.2,128.2" stroke="#9a9cb0" stroke-width="0.8"/>
</g>
<text x="272.4" y="101.4" font-size="7.50" font-weight="400" fill="#222" stroke="#222" stroke-width="0.22">Alte</text>
<text x="272.4" y="109.4" font-size="7.50" font-weight="400" fill="#222" stroke="#222" stroke-width="0.22">Old</text>
<text x="272.4" y="117.4" font-size="7.50" font-weight="400" fill="#222" stroke="#222" stroke-width="0.22">Ancien</text>
<text x="272.4" y="125.4" font-size="7.50" font-weight="400" fill="#222" stroke="#222" stroke-width="0.22">Vieja</text>
<text x="272.4" y="140.4" font-size="10.10" font-weight="700" fill="#111" stroke="#111" stroke-width="0.12">890</text>
<text x="318.8" y="135.2" font-size="9.70" font-weight="400" fill="#222" stroke="#222" stroke-width="0.22">895</text>
<text x="294.6" y="158.8" font-size="9.70" font-weight="400" fill="#222" stroke="#222" stroke-width="0.22">890/2</text>
<text x="192.6" y="156.0" font-size="9.70" font-weight="400" fill="#222" stroke="#222" stroke-width="0.22">Ø 35 mm; 3,00 m</text>
<text x="239.8" y="180.8" font-size="9.60" font-weight="400" fill="#222" stroke="#222" stroke-width="0.22">Ø 35 mm</text>
<text x="538.4" y="100.4" font-size="7.50" font-weight="400" fill="#222" stroke="#222" stroke-width="0.22">Neue</text>
<text x="538.4" y="108.4" font-size="7.50" font-weight="400" fill="#222" stroke="#222" stroke-width="0.22">New</text>
<text x="538.4" y="116.4" font-size="7.50" font-weight="400" fill="#222" stroke="#222" stroke-width="0.22">Nouvelle</text>
<text x="538.4" y="124.4" font-size="7.50" font-weight="400" fill="#222" stroke="#222" stroke-width="0.22">Nueve</text>
<text x="538.4" y="137.9" font-size="10.10" font-weight="700" fill="#111" stroke="#111" stroke-width="0.12">650</text>
<text x="584.8" y="133.7" font-size="9.70" font-weight="400" fill="#222" stroke="#222" stroke-width="0.22">895</text>
<text x="560.6" y="158.8" font-size="9.70" font-weight="400" fill="#222" stroke="#222" stroke-width="0.22">650/1</text>
<text x="458.6" y="156.0" font-size="9.70" font-weight="400" fill="#222" stroke="#222" stroke-width="0.22">Ø 35 mm; 3,00 m</text>
<text x="505.8" y="180.8" font-size="9.60" font-weight="400" fill="#222" stroke="#222" stroke-width="0.22">Ø 35 mm</text>
<text x="301.5" y="103.0" font-size="9.60" font-weight="400" fill="#222" stroke="#222" stroke-width="0.22">Ø 49 mm</text>
<text x="571.5" y="103.0" font-size="9.60" font-weight="400" fill="#222" stroke="#222" stroke-width="0.22">Ø 49 mm</text>
<g stroke="#8e90a2" stroke-width="0.9" fill="none">
<path d="M208,258.3 L224.3,258.3"/>
<path d="M209.3,344 L224,344"/>
<path d="M209.3,374.4 L225.3,374.4"/>
<path d="M159,412.3 L173.7,412.3"/>
<path d="M414.3,374 L430.3,374 M414.3,422.4 L430.3,422.4 M415.3,469.6 L430.3,469.6"/>
<path d="M633.5,344.8 L648.4,344.8"/>
</g>
<path d="M414.4,324 L471,324 L471,469.6 L459.7,469.6 M459.5,374 L471,374 M459.5,422.4 L471,422.4 M471,399.3 L477.7,399.3" stroke="#1a1a1a" stroke-width="1.1" fill="none"/>
<text x="226.2" y="262.2" font-size="10.20" font-weight="700" fill="#111" stroke="#111" stroke-width="0.12">651</text>
<text x="226.8" y="347.5" font-size="10.20" font-weight="700" fill="#111" stroke="#111" stroke-width="0.12">652</text>
<text x="226.8" y="334.5" font-size="9.60" font-weight="400" fill="#222" stroke="#222" stroke-width="0.22">Ø 35 mm; 0,5mm</text>
<text x="227.0" y="378.5" font-size="10.20" font-weight="700" fill="#111" stroke="#111" stroke-width="0.12">655</text>
<text x="176.0" y="416.8" font-size="10.20" font-weight="700" fill="#111" stroke="#111" stroke-width="0.12">653</text>
<text x="432.0" y="378.0" font-size="10.20" font-weight="700" fill="#111" stroke="#111" stroke-width="0.12">654/1</text>
<text x="432.0" y="426.2" font-size="10.20" font-weight="700" fill="#111" stroke="#111" stroke-width="0.12">654/2</text>
<text x="432.0" y="473.4" font-size="10.20" font-weight="700" fill="#111" stroke="#111" stroke-width="0.12">654/3</text>
<text x="480.0" y="402.8" font-size="10.20" font-weight="700" fill="#111" stroke="#111" stroke-width="0.12">654</text>
<text x="650.6" y="349.2" font-size="10.20" font-weight="700" fill="#111" stroke="#111" stroke-width="0.12">673</text>
<text x="35.0" y="472.7" font-size="7.50" font-weight="400" fill="#222" stroke="#222" stroke-width="0.22">Änderungen vorbehalten</text>
<text x="35.0" y="480.7" font-size="7.50" font-weight="400" fill="#222" stroke="#222" stroke-width="0.22">Modifications reserved</text>
<text x="35.0" y="488.7" font-size="7.50" font-weight="400" fill="#222" stroke="#222" stroke-width="0.22">Modifications reservees</text>
<text x="35.0" y="496.7" font-size="7.50" font-weight="400" fill="#222" stroke="#222" stroke-width="0.22">Salvo modificaciones</text>
<g stroke="#1a1a1a" stroke-width="1.05" fill="#fff" stroke-linejoin="round">
<path d="M81,211.3 L119.7,218 L122.3,217.3 L126.3,215 L139.7,217 L141.7,221.3 L155.7,224.7 C158,226 159,227.5 160.5,229 L188,245.3 L191.2,246.1 L204,252.9 Q207.5,255.5 206.8,258 L196,269.9 L185.3,264 L148,241.7 L145,240 L135.7,238.7 L120.3,235.3 L119,234 L79.7,227.3 C75.5,224.5 75.5,214 81,211.3 Z"/>
</g>
<g fill="none" stroke="#555" stroke-width="0.7">
<path d="M120,219 Q117,227 120.3,235.3"/><path d="M134,218.5 Q131,229 135.7,238.7"/><path d="M139.7,217 L134,218.5 L122.3,217.3"/>
<path d="M139,230.5 Q148,227 155.7,224.7 M152,227 Q153,233 159,237" stroke="#777"/>
<path d="M181,249.5 Q177,257 182,263 M187.5,246 Q183,255 189,266.5" stroke="#777"/>
</g>
<ellipse cx="199.2" cy="260.8" rx="5.6" ry="10.4" transform="rotate(36 199.2 260.8)" fill="#fff" stroke="#1a1a1a" stroke-width="1.05"/>
<ellipse cx="198.6" cy="261.3" rx="3.6" ry="7.8" transform="rotate(36 198.6 261.3)" fill="none" stroke="#666" stroke-width="0.8"/>
<path d="M91.3,272.8 L102.4,278.8 L186.7,324 L189.3,324.3 L204,331 Q209.5,335 207,344 Q203,350 196,349.7 L180,339.7 L97.6,287.4 L88.5,283.7 Q84.5,279.5 86.6,275.5 Q88.3,272.3 90.7,272.5 Z" fill="#fff" stroke="#1a1a1a" stroke-width="1.05" stroke-linejoin="round"/>
<path d="M102.4,278.3 Q98,283 97.6,287.4" fill="none" stroke="#666" stroke-width="0.8"/>
<path d="M101.9,279.3 L186.0,325.5M101.3,280.3 L185.2,327.3M100.8,281.3 L184.5,329.0M100.3,282.3 L183.7,330.8M99.7,283.4 L183.0,332.6M99.2,284.4 L182.2,334.4M98.7,285.4 L181.5,336.1M98.1,286.4 L180.7,337.9" fill="none" stroke="#7c7c88" stroke-width="0.65"/>
<path d="M184.5,322.8 Q176.5,331.5 180.5,340.0M187.5,324.1 Q179.5,333.1 183.5,341.9M190.5,325.4 Q182.5,334.7 186.5,343.8M193.5,326.7 Q185.5,336.3 189.5,345.7M196.5,328.0 Q188.5,337.9 192.5,347.6M199.5,329.3 Q191.5,339.5 195.5,349.5" fill="none" stroke="#6a6a6a" stroke-width="0.8"/>
<ellipse cx="202" cy="340.3" rx="5.6" ry="9.2" transform="rotate(34 202 340.3)" fill="#fff" stroke="#777" stroke-width="0.9"/>
<ellipse cx="201.7" cy="340.6" rx="3.8" ry="6.8" transform="rotate(34 201.7 340.6)" fill="none" stroke="#666" stroke-width="0.75"/>
<path d="M140,331 L158.7,341.7 L162.7,346.3 L208,371.7 L208,375.7 L190.7,381 L189.3,380.3 L132.7,350.3 Q128,344 131.5,337 Q135,330.5 140,331 Z" fill="#fff" stroke="#1a1a1a" stroke-width="1.05" stroke-linejoin="round"/>
<path d="M153.5,342 Q147,348 150,355 L189.5,377.5 L208,372" fill="none" stroke="#777" stroke-width="0.7"/>
<path d="M105.7,384.3 L126.3,388.3 L137.7,375 Q140,373.5 142,374.6 L150.5,381.8 Q153.5,385 152.3,388.3 L143.7,397 L157.7,411.7 L157.7,416.3 L151,419.7 L103,392.3 L102.8,387.5 Z" fill="#fff" stroke="#1a1a1a" stroke-width="1.05" stroke-linejoin="round"/>
<path d="M104.5,388.5 L151,413.5 L157.7,411.7 M151,413.5 L151,419.7 M136.5,390 L143.7,397" fill="none" stroke="#777" stroke-width="0.7"/>
<path d="M106,389.5 L148,412" fill="none" stroke="#999" stroke-width="1.2"/>
<path d="M330.5,284.3 L331.8,283 L338.6,281.3 L340.7,278.3 L362.4,290.2 L375.6,281.4 L392.9,261.8 Q397,261.5 401.2,264 Q406,267 407.3,271.6 L407.3,277.6 L387.6,296.5 L383.1,295.8 Q382.5,300 384.6,303.3 Q387,306 392.2,307.8 L411.8,319.9 L414,322.2 L413.3,326 L404.2,330.5 L402.7,331.2 L331,290.7 Z" fill="#fff" stroke="#1a1a1a" stroke-width="1.05" stroke-linejoin="round"/>
<path d="M331.8,285.5 L403,326 L413.5,321.5 M403,326 L403,331 M363.5,292 Q371,296 372,302 Q373,312 395,320" fill="none" stroke="#777" stroke-width="0.7"/>
<path d="M376,282 Q383,283.5 385,296 M379,280 Q386,282 388,295" fill="none" stroke="#666" stroke-width="0.7"/>
<rect x="-3.6" y="-1.3" width="7.2" height="2.6" rx="1.2" transform="translate(407.7,323.2) rotate(-26)" fill="none" stroke="#555" stroke-width="0.7"/>
<path d="M332.0,339.5 L332.3,344.7M333.9,340.6 L334.2,345.8M335.8,341.7 L336.1,346.9M337.7,342.9 L338.0,348.1M339.6,344.0 L339.9,349.2M341.5,345.1 L341.8,350.3M343.4,346.2 L343.7,351.4M345.2,347.4 L345.5,352.6M347.1,348.5 L347.4,353.7M349.0,349.6 L349.3,354.8M350.9,350.7 L351.2,355.9M352.8,351.8 L353.1,357.0M354.7,353.0 L355.0,358.2M356.6,354.1 L356.9,359.3M358.5,355.2 L358.8,360.4M360.4,356.3 L360.7,361.5M362.3,357.4 L362.6,362.6M364.2,358.6 L364.5,363.8M366.1,359.7 L366.4,364.9M367.9,360.8 L368.2,366.0M369.8,361.9 L370.1,367.1M371.7,363.1 L372.0,368.3M373.6,364.2 L373.9,369.4M375.5,365.3 L375.8,370.5M377.4,366.4 L377.7,371.6M379.3,367.5 L379.6,372.7M381.2,368.7 L381.5,373.9M383.1,369.8 L383.4,375.0M385.0,370.9 L385.3,376.1M386.9,372.0 L387.2,377.2M388.8,373.1 L389.1,378.3M390.6,374.3 L390.9,379.5M392.5,375.4 L392.8,380.6M394.4,376.5 L394.7,381.7M396.3,377.6 L396.6,382.8M398.2,378.8 L398.5,384.0M400.1,379.9 L400.4,385.1M402.0,381.0 L402.3,386.2" fill="none" stroke="#555" stroke-width="0.9"/>
<path d="M332.5,341.5 L402,383" transform="translate(0,0.0)" fill="none" stroke="#333" stroke-width="1.4"/>
<path d="M330.6,334.8 L333.0,328.8 L337.0,326.4 L338.2,327.6 L363.4,338.8 L370.2,335.2 L372.2,337.2 L373.8,342.4 L378.6,340.4 L380.2,341.6 L385.0,350.8 L413.7,370.5 L413.7,375.4 L403.1,381.0 L331.0,339.2Z" fill="#fff" stroke="#1a1a1a" stroke-width="1.05" stroke-linejoin="round"/>
<path d="M331.5,334.5 L403.5,376 Q405,371.5 408.4,370.5 L413.5,371 M403.5,376 L403.1,381 M334,331 L363.5,345 M338,328 L363,339.5 L364,345" transform="translate(0,0.0)" fill="none" stroke="#666" stroke-width="0.7"/>
<path d="M370.2,335.2 Q366,340 368,344 Q371,347 373.8,342.4 M378.6,340.4 Q376,347 380,351 L385,350.8 M340,335 L395,367 M345,334.5 L400,366" transform="translate(0,0.0)" fill="none" stroke="#888" stroke-width="0.7"/>
<path d="M333.2,389.8 q1.2,2.2 3,1.5M338.6,393.0 q1.2,2.2 3,1.5M344.0,396.2 q1.2,2.2 3,1.5M349.3,399.4 q1.2,2.2 3,1.5M354.7,402.6 q1.2,2.2 3,1.5M360.1,405.8 q1.2,2.2 3,1.5M365.5,408.9 q1.2,2.2 3,1.5M370.9,412.1 q1.2,2.2 3,1.5M376.3,415.3 q1.2,2.2 3,1.5M381.7,418.5 q1.2,2.2 3,1.5M387.0,421.7 q1.2,2.2 3,1.5M392.4,424.9 q1.2,2.2 3,1.5M397.8,428.1 q1.2,2.2 3,1.5" fill="none" stroke="#1a1a1a" stroke-width="1.1"/>
<path d="M330.6,383.5 L333.0,377.5 L337.0,375.1 L338.2,376.3 L363.4,387.5 L370.2,383.9 L372.2,385.9 L373.8,391.1 L378.6,389.1 L380.2,390.3 L385.0,399.5 L413.7,419.2 L413.7,424.1 L403.1,429.7 L331.0,387.9Z" fill="#fff" stroke="#1a1a1a" stroke-width="1.05" stroke-linejoin="round"/>
<path d="M331.5,334.5 L403.5,376 Q405,371.5 408.4,370.5 L413.5,371 M403.5,376 L403.1,381 M334,331 L363.5,345 M338,328 L363,339.5 L364,345" transform="translate(0,48.7)" fill="none" stroke="#666" stroke-width="0.7"/>
<path d="M370.2,335.2 Q366,340 368,344 Q371,347 373.8,342.4 M378.6,340.4 Q376,347 380,351 L385,350.8 M340,335 L395,367 M345,334.5 L400,366" transform="translate(0,48.7)" fill="none" stroke="#888" stroke-width="0.7"/>
<path d="M332.0,435.3 L332.3,440.5M333.9,436.4 L334.2,441.6M335.8,437.5 L336.1,442.7M337.7,438.7 L338.0,443.9M339.6,439.8 L339.9,445.0M341.5,440.9 L341.8,446.1M343.4,442.0 L343.7,447.2M345.2,443.2 L345.5,448.4M347.1,444.3 L347.4,449.5M349.0,445.4 L349.3,450.6M350.9,446.5 L351.2,451.7M352.8,447.6 L353.1,452.8M354.7,448.8 L355.0,454.0M356.6,449.9 L356.9,455.1M358.5,451.0 L358.8,456.2M360.4,452.1 L360.7,457.3M362.3,453.2 L362.6,458.4M364.2,454.4 L364.5,459.6M366.1,455.5 L366.4,460.7M367.9,456.6 L368.2,461.8M369.8,457.7 L370.1,462.9M371.7,458.9 L372.0,464.1M373.6,460.0 L373.9,465.2M375.5,461.1 L375.8,466.3M377.4,462.2 L377.7,467.4M379.3,463.3 L379.6,468.5M381.2,464.5 L381.5,469.7M383.1,465.6 L383.4,470.8M385.0,466.7 L385.3,471.9M386.9,467.8 L387.2,473.0M388.8,468.9 L389.1,474.1M390.6,470.1 L390.9,475.3M392.5,471.2 L392.8,476.4M394.4,472.3 L394.7,477.5M396.3,473.4 L396.6,478.6M398.2,474.6 L398.5,479.8M400.1,475.7 L400.4,480.9M402.0,476.8 L402.3,482.0" fill="none" stroke="#555" stroke-width="0.9"/>
<path d="M332.5,341.5 L402,383" transform="translate(0,95.8)" fill="none" stroke="#333" stroke-width="1.4"/>
<path d="M330.6,430.6 L333.0,424.6 L337.0,422.2 L338.2,423.4 L363.4,434.6 L370.2,431.0 L372.2,433.0 L373.8,438.2 L378.6,436.2 L380.2,437.4 L385.0,446.6 L413.7,466.3 L413.7,471.2 L403.1,476.8 L331.0,435.0Z" fill="#fff" stroke="#1a1a1a" stroke-width="1.05" stroke-linejoin="round"/>
<path d="M331.5,334.5 L403.5,376 Q405,371.5 408.4,370.5 L413.5,371 M403.5,376 L403.1,381 M334,331 L363.5,345 M338,328 L363,339.5 L364,345" transform="translate(0,95.8)" fill="none" stroke="#666" stroke-width="0.7"/>
<path d="M370.2,335.2 Q366,340 368,344 Q371,347 373.8,342.4 M378.6,340.4 Q376,347 380,351 L385,350.8 M340,335 L395,367 M345,334.5 L400,366" transform="translate(0,95.8)" fill="none" stroke="#888" stroke-width="0.7"/>
<path d="M627.5,489.8 L560,452.7 L559.5,260 Q559.7,256.5 563.7,256.3 L629.2,294.6 Q630.3,295.5 630.2,297 L630.2,310 L628.7,311.5 L628.7,477 L630.2,478.5 L630.2,487 Z" fill="#fff" stroke="none"/>
<path d="M627.5,489.8 L560,452.7 L559.5,260 Q559.7,256.5 563.7,256.3 L629.2,294.6 Q630.3,295.5 630.2,297 L630.2,310 L628.7,311.5" fill="none" stroke="#1a1a1a" stroke-width="1.05" stroke-linejoin="round"/>
<path d="M625.6,489 L625.6,299.5 Q626,296.2 628.8,295.2 M628.7,311.5 L628.7,477 L630.2,478.5 L630.2,487 L627.5,489.8" fill="none" stroke="#666" stroke-width="0.85"/>
<path d="M627.2,300 L627.2,489" fill="none" stroke="#aaa" stroke-width="0.6"/>
<path d="M583.2,273.6 L605,284.8 L604.3,299.3 Q601,305 596.4,304.6 Q590,303.5 586,297 Q583,292 583.2,287 Z" fill="#fff" stroke="#333" stroke-width="1.1" stroke-linejoin="round"/>
<path d="M584.8,276 L603.5,285.8 L603,298.5 Q600.5,303.2 596.4,303 Q591,302 587.5,296.5 Q584.8,292 584.8,287 Z" fill="none" stroke="#666" stroke-width="0.6"/>
<ellipse cx="593.5" cy="292.2" rx="9.6" ry="11.8" transform="rotate(-10 593.5 292.2)" fill="none" stroke="#555" stroke-width="0.8"/>
<ellipse cx="601.3" cy="292.4" rx="1.1" ry="1.3" fill="none" stroke="#777" stroke-width="0.55"/><ellipse cx="600.2" cy="297.5" rx="1.1" ry="1.3" fill="none" stroke="#777" stroke-width="0.55"/><ellipse cx="597.4" cy="301.2" rx="1.1" ry="1.3" fill="none" stroke="#777" stroke-width="0.55"/><ellipse cx="593.4" cy="302.6" rx="1.1" ry="1.3" fill="none" stroke="#777" stroke-width="0.55"/><ellipse cx="589.4" cy="301.2" rx="1.1" ry="1.3" fill="none" stroke="#777" stroke-width="0.55"/><ellipse cx="586.6" cy="297.5" rx="1.1" ry="1.3" fill="none" stroke="#777" stroke-width="0.55"/><ellipse cx="585.5" cy="292.4" rx="1.1" ry="1.3" fill="none" stroke="#777" stroke-width="0.55"/><ellipse cx="586.6" cy="287.3" rx="1.1" ry="1.3" fill="none" stroke="#777" stroke-width="0.55"/><ellipse cx="589.4" cy="283.6" rx="1.1" ry="1.3" fill="none" stroke="#777" stroke-width="0.55"/><ellipse cx="593.4" cy="282.2" rx="1.1" ry="1.3" fill="none" stroke="#777" stroke-width="0.55"/><ellipse cx="597.4" cy="283.6" rx="1.1" ry="1.3" fill="none" stroke="#777" stroke-width="0.55"/><ellipse cx="600.2" cy="287.3" rx="1.1" ry="1.3" fill="none" stroke="#777" stroke-width="0.55"/>
<ellipse cx="593.2" cy="292.6" rx="5.9" ry="8.3" transform="rotate(-10 593.2 292.6)" fill="#fff" stroke="#333" stroke-width="1.0"/>
<path d="M593.5,304.6 L593.5,310" fill="none" stroke="#555" stroke-width="0.9"/>
<ellipse cx="594.2" cy="320.8" rx="8.8" ry="11.4" transform="rotate(-22 594.2 320.8)" fill="#fff" stroke="#444" stroke-width="1.0"/>
<ellipse cx="592.9" cy="320.3" rx="8.4" ry="11.2" transform="rotate(-22 592.9 320.3)" fill="#fff" stroke="#555" stroke-width="0.8"/>
<path d="M588,311 l0,3.5 l2,0.5 M593,310 l0,4.5 l2,0.5 M597.5,312 l0,4" fill="none" stroke="#444" stroke-width="0.8"/>
</svg></body></html>
